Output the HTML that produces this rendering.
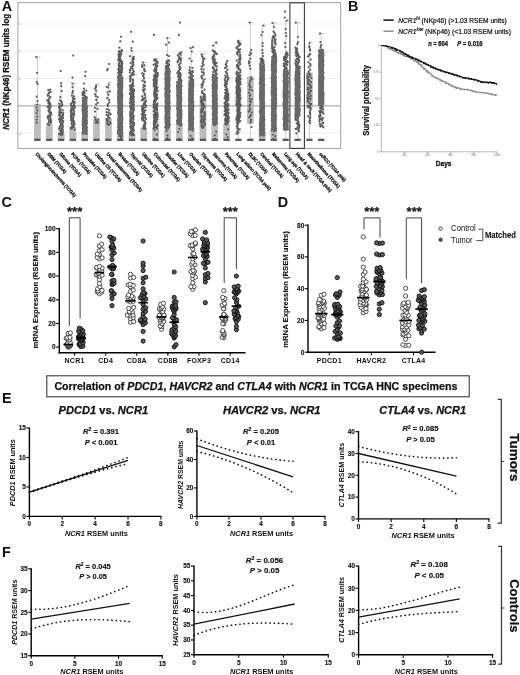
<!DOCTYPE html>
<html lang="en">
<head>
<meta charset="utf-8">
<title>NCR1 (NKp46) expression figure</title>
<style>
html,body{margin:0;padding:0;background:#fff;}
body{width:520px;height:675px;overflow:hidden;font-family:"Liberation Sans","DejaVu Sans",sans-serif;}
svg{display:block;filter:blur(0.42px);}
</style>
</head>
<body>
<svg width="520" height="675" viewBox="0 0 520 675" font-family='"Liberation Sans", "DejaVu Sans", sans-serif'>
<rect width="520" height="675" fill="#fff"/>
<line x1="17.90" y1="24.00" x2="340.60" y2="24.00" stroke="#ececec" stroke-width="0.80"/>
<line x1="16.40" y1="24.00" x2="17.90" y2="24.00" stroke="#aaa" stroke-width="0.60"/>
<line x1="17.90" y1="51.30" x2="340.60" y2="51.30" stroke="#ececec" stroke-width="0.80"/>
<line x1="16.40" y1="51.30" x2="17.90" y2="51.30" stroke="#aaa" stroke-width="0.60"/>
<line x1="17.90" y1="78.60" x2="340.60" y2="78.60" stroke="#ececec" stroke-width="0.80"/>
<line x1="16.40" y1="78.60" x2="17.90" y2="78.60" stroke="#aaa" stroke-width="0.60"/>
<line x1="17.90" y1="133.20" x2="340.60" y2="133.20" stroke="#ececec" stroke-width="0.80"/>
<line x1="16.40" y1="133.20" x2="17.90" y2="133.20" stroke="#aaa" stroke-width="0.60"/>
<rect x="17.9" y="2.6" width="322.7" height="145.9" fill="none" stroke="#a9a9a9" stroke-width="1.1"/>
<rect x="34.3" y="104.3" width="6.2" height="35.5" fill="#bdbdbd" stroke="#adadad" stroke-width="0.4"/>
<rect x="46.1" y="124.5" width="6.2" height="15.3" fill="#bdbdbd" stroke="#adadad" stroke-width="0.4"/>
<rect x="58.0" y="134.0" width="6.2" height="5.8" fill="#bdbdbd" stroke="#adadad" stroke-width="0.4"/>
<rect x="69.8" y="127.3" width="6.2" height="12.5" fill="#bdbdbd" stroke="#adadad" stroke-width="0.4"/>
<rect x="81.6" y="132.0" width="6.2" height="7.8" fill="#bdbdbd" stroke="#adadad" stroke-width="0.4"/>
<rect x="93.4" y="119.4" width="6.2" height="20.4" fill="#bdbdbd" stroke="#adadad" stroke-width="0.4"/>
<rect x="105.3" y="118.8" width="6.2" height="21.0" fill="#bdbdbd" stroke="#adadad" stroke-width="0.4"/>
<rect x="117.1" y="136.0" width="6.2" height="3.8" fill="#bdbdbd" stroke="#adadad" stroke-width="0.4"/>
<rect x="128.9" y="135.6" width="6.2" height="4.2" fill="#bdbdbd" stroke="#adadad" stroke-width="0.4"/>
<rect x="140.7" y="128.0" width="6.2" height="11.8" fill="#bdbdbd" stroke="#adadad" stroke-width="0.4"/>
<rect x="152.6" y="128.6" width="6.2" height="11.2" fill="#bdbdbd" stroke="#adadad" stroke-width="0.4"/>
<rect x="164.4" y="129.0" width="6.2" height="10.8" fill="#bdbdbd" stroke="#adadad" stroke-width="0.4"/>
<rect x="176.2" y="124.6" width="6.2" height="15.2" fill="#bdbdbd" stroke="#adadad" stroke-width="0.4"/>
<rect x="188.0" y="129.8" width="6.2" height="10.0" fill="#bdbdbd" stroke="#adadad" stroke-width="0.4"/>
<rect x="199.9" y="95.8" width="6.2" height="44.0" fill="#bdbdbd" stroke="#adadad" stroke-width="0.4"/>
<rect x="211.7" y="124.6" width="6.2" height="15.2" fill="#bdbdbd" stroke="#adadad" stroke-width="0.4"/>
<rect x="223.5" y="124.6" width="6.2" height="15.2" fill="#bdbdbd" stroke="#adadad" stroke-width="0.4"/>
<rect x="247.2" y="76.8" width="6.2" height="46.9" fill="#bdbdbd" stroke="#adadad" stroke-width="0.4"/>
<rect x="259.0" y="130.0" width="6.2" height="9.8" fill="#bdbdbd" stroke="#adadad" stroke-width="0.4"/>
<rect x="270.8" y="130.8" width="6.2" height="9.0" fill="#bdbdbd" stroke="#adadad" stroke-width="0.4"/>
<rect x="306.3" y="72.8" width="6.2" height="35.8" fill="#bdbdbd" stroke="#adadad" stroke-width="0.4"/>
<line x1="37.40" y1="57.00" x2="37.40" y2="104.30" stroke="#b8b8b8" stroke-width="0.70"/>
<line x1="36.90" y1="57.00" x2="40.60" y2="57.00" stroke="#b0b0b0" stroke-width="0.70"/>
<line x1="49.23" y1="89.00" x2="49.23" y2="124.50" stroke="#b8b8b8" stroke-width="0.70"/>
<line x1="61.05" y1="83.00" x2="61.05" y2="134.00" stroke="#b8b8b8" stroke-width="0.70"/>
<line x1="72.88" y1="83.50" x2="72.88" y2="127.30" stroke="#b8b8b8" stroke-width="0.70"/>
<line x1="72.38" y1="83.50" x2="76.08" y2="83.50" stroke="#b0b0b0" stroke-width="0.70"/>
<line x1="84.70" y1="88.00" x2="84.70" y2="132.00" stroke="#b8b8b8" stroke-width="0.70"/>
<line x1="96.53" y1="84.20" x2="96.53" y2="119.40" stroke="#b8b8b8" stroke-width="0.70"/>
<line x1="96.03" y1="84.20" x2="99.73" y2="84.20" stroke="#b0b0b0" stroke-width="0.70"/>
<line x1="108.36" y1="82.40" x2="108.36" y2="118.80" stroke="#b8b8b8" stroke-width="0.70"/>
<line x1="107.86" y1="82.40" x2="111.56" y2="82.40" stroke="#b0b0b0" stroke-width="0.70"/>
<line x1="120.18" y1="50.00" x2="120.18" y2="136.00" stroke="#b8b8b8" stroke-width="0.70"/>
<line x1="132.01" y1="51.20" x2="132.01" y2="135.60" stroke="#b8b8b8" stroke-width="0.70"/>
<line x1="131.51" y1="51.20" x2="135.21" y2="51.20" stroke="#b0b0b0" stroke-width="0.70"/>
<line x1="143.83" y1="62.40" x2="143.83" y2="128.00" stroke="#b8b8b8" stroke-width="0.70"/>
<line x1="143.33" y1="62.40" x2="147.03" y2="62.40" stroke="#b0b0b0" stroke-width="0.70"/>
<line x1="155.66" y1="58.70" x2="155.66" y2="128.60" stroke="#b8b8b8" stroke-width="0.70"/>
<line x1="155.16" y1="58.70" x2="158.86" y2="58.70" stroke="#b0b0b0" stroke-width="0.70"/>
<line x1="167.49" y1="38.10" x2="167.49" y2="129.00" stroke="#b8b8b8" stroke-width="0.70"/>
<line x1="166.99" y1="38.10" x2="170.69" y2="38.10" stroke="#b0b0b0" stroke-width="0.70"/>
<line x1="179.31" y1="52.20" x2="179.31" y2="124.60" stroke="#b8b8b8" stroke-width="0.70"/>
<line x1="178.81" y1="52.20" x2="182.51" y2="52.20" stroke="#b0b0b0" stroke-width="0.70"/>
<line x1="191.14" y1="48.00" x2="191.14" y2="129.80" stroke="#b8b8b8" stroke-width="0.70"/>
<line x1="190.64" y1="48.00" x2="194.34" y2="48.00" stroke="#b0b0b0" stroke-width="0.70"/>
<line x1="202.96" y1="53.70" x2="202.96" y2="95.80" stroke="#b8b8b8" stroke-width="0.70"/>
<line x1="202.46" y1="53.70" x2="206.16" y2="53.70" stroke="#b0b0b0" stroke-width="0.70"/>
<line x1="214.79" y1="42.70" x2="214.79" y2="124.60" stroke="#b8b8b8" stroke-width="0.70"/>
<line x1="214.29" y1="42.70" x2="217.99" y2="42.70" stroke="#b0b0b0" stroke-width="0.70"/>
<line x1="226.62" y1="60.70" x2="226.62" y2="124.60" stroke="#b8b8b8" stroke-width="0.70"/>
<line x1="226.12" y1="60.70" x2="229.82" y2="60.70" stroke="#b0b0b0" stroke-width="0.70"/>
<line x1="238.44" y1="40.20" x2="238.44" y2="139.80" stroke="#b8b8b8" stroke-width="0.70"/>
<line x1="237.94" y1="40.20" x2="241.64" y2="40.20" stroke="#b0b0b0" stroke-width="0.70"/>
<line x1="250.27" y1="22.50" x2="250.27" y2="139.80" stroke="#b8b8b8" stroke-width="0.70"/>
<line x1="249.77" y1="22.50" x2="253.47" y2="22.50" stroke="#b0b0b0" stroke-width="0.70"/>
<line x1="262.09" y1="25.60" x2="262.09" y2="130.00" stroke="#b8b8b8" stroke-width="0.70"/>
<line x1="261.59" y1="25.60" x2="265.29" y2="25.60" stroke="#b0b0b0" stroke-width="0.70"/>
<line x1="273.92" y1="23.00" x2="273.92" y2="130.80" stroke="#b8b8b8" stroke-width="0.70"/>
<line x1="273.42" y1="23.00" x2="277.12" y2="23.00" stroke="#b0b0b0" stroke-width="0.70"/>
<line x1="285.75" y1="20.50" x2="285.75" y2="139.80" stroke="#b8b8b8" stroke-width="0.70"/>
<line x1="285.25" y1="20.50" x2="288.95" y2="20.50" stroke="#b0b0b0" stroke-width="0.70"/>
<line x1="297.57" y1="22.70" x2="297.57" y2="139.80" stroke="#b8b8b8" stroke-width="0.70"/>
<line x1="297.07" y1="22.70" x2="300.77" y2="22.70" stroke="#b0b0b0" stroke-width="0.70"/>
<line x1="309.40" y1="42.00" x2="309.40" y2="139.80" stroke="#b8b8b8" stroke-width="0.70"/>
<line x1="308.90" y1="42.00" x2="312.60" y2="42.00" stroke="#b0b0b0" stroke-width="0.70"/>
<line x1="321.22" y1="33.50" x2="321.22" y2="49.00" stroke="#b8b8b8" stroke-width="0.70"/>
<line x1="320.72" y1="33.50" x2="324.42" y2="33.50" stroke="#b0b0b0" stroke-width="0.70"/>
<line x1="17.90" y1="105.90" x2="340.60" y2="105.90" stroke="#adadad" stroke-width="1.30"/>
<rect x="82.0" y="98.5" width="5.4" height="35.2" rx="1.2" fill="#6e6e6e"/>
<rect x="117.5" y="76.5" width="5.4" height="59.0" rx="1.2" fill="#6e6e6e"/>
<rect x="164.8" y="69.5" width="5.4" height="59.0" rx="1.2" fill="#6e6e6e"/>
<rect x="176.6" y="81.5" width="5.4" height="43.0" rx="1.2" fill="#6e6e6e"/>
<rect x="188.4" y="81.5" width="5.4" height="47.8" rx="1.2" fill="#6e6e6e"/>
<rect x="212.1" y="76.5" width="5.4" height="47.6" rx="1.2" fill="#6e6e6e"/>
<rect x="259.4" y="66.5" width="5.4" height="69.0" rx="1.2" fill="#6e6e6e"/>
<rect x="271.2" y="57.5" width="5.4" height="72.8" rx="1.2" fill="#6e6e6e"/>
<rect x="283.0" y="71.5" width="5.4" height="58.0" rx="1.2" fill="#6e6e6e"/>
<rect x="294.9" y="69.5" width="5.4" height="46.8" rx="1.2" fill="#6e6e6e"/>
<rect x="318.5" y="50.8" width="5.4" height="54.7" rx="1.2" fill="#6e6e6e"/>
<path d="M85.7 97.2h0M84.2 97.5h0M86.9 97.6h0M85.7 97.8h0M82.6 98.2h0M86.5 98.5h0M85.8 98.7h0M83.0 99.0h0M84.7 99.1h0M86.1 99.5h0M85.1 99.7h0M85.5 100.0h0M83.5 100.2h0M83.0 100.3h0M82.9 100.6h0M85.0 101.0h0M85.3 101.2h0M84.7 101.4h0M86.1 101.5h0M84.7 101.9h0M85.4 102.1h0M85.8 102.3h0M82.7 102.6h0M85.8 102.8h0M85.8 103.0h0M84.7 103.5h0M84.6 103.6h0M85.9 103.9h0M85.4 104.1h0M83.1 104.3h0M85.8 104.6h0M85.0 104.8h0M82.7 105.0h0M85.5 105.3h0M85.5 105.7h0M84.8 105.8h0M84.5 106.1h0M86.5 106.3h0M86.9 106.5h0M82.5 107.0h0M86.2 107.1h0M84.5 107.5h0M83.4 107.6h0M83.4 108.0h0M83.1 108.1h0M86.8 108.4h0M86.2 108.5h0M86.5 108.9h0M83.5 109.2h0M84.6 109.5h0M82.4 109.5h0M84.5 109.9h0M83.1 110.1h0M83.9 110.3h0M82.4 110.7h0M86.3 110.9h0M86.7 111.0h0M86.6 111.4h0M84.1 111.6h0M87.0 111.8h0M84.1 112.1h0M83.7 112.3h0M82.9 112.5h0M83.7 112.9h0M83.6 113.2h0M84.8 113.3h0M84.1 113.5h0M86.5 114.0h0M85.3 114.2h0M86.7 114.5h0M85.7 114.6h0M85.8 114.7h0M85.9 115.1h0M83.7 115.4h0M86.7 115.5h0M84.6 115.8h0M83.8 116.1h0M86.9 116.4h0M85.4 116.5h0M85.0 116.8h0M83.2 117.1h0M83.4 117.3h0M84.7 117.7h0M86.6 117.8h0M84.5 118.2h0M83.3 118.3h0M84.0 118.5h0M83.5 118.7h0M85.0 119.0h0M85.9 119.4h0M84.3 119.6h0M84.1 119.9h0M82.7 120.1h0M86.9 120.3h0M84.7 120.5h0M86.4 120.9h0M83.7 121.0h0M84.2 121.3h0M86.8 121.6h0M86.4 121.9h0M82.6 122.0h0M86.5 122.4h0M85.1 122.6h0M84.2 122.7h0M86.2 123.2h0M86.9 123.4h0M82.9 123.5h0M84.8 123.8h0M86.7 124.1h0M85.4 124.4h0M84.5 124.7h0M82.6 124.9h0M83.5 125.2h0M85.4 125.4h0M83.0 125.5h0M85.3 125.8h0M82.9 126.1h0M84.8 126.2h0M84.2 126.6h0M85.2 126.8h0M83.8 127.0h0M86.8 127.3h0M86.5 127.6h0M83.5 127.8h0M86.8 128.0h0M83.8 128.4h0M84.7 128.5h0M84.3 128.9h0M85.5 129.0h0M83.4 129.4h0M84.0 129.5h0M85.5 129.8h0M86.1 130.0h0M84.7 130.4h0M86.9 130.5h0M86.2 130.8h0M83.4 131.0h0M83.8 131.4h0M84.7 131.7h0M83.4 131.8h0M85.5 132.1h0M83.1 132.4h0M83.4 132.6h0M83.1 132.9h0M82.7 133.0h0M86.5 133.3h0M85.8 133.7h0M86.7 133.9h0M83.3 134.0h0M120.7 75.0h0M119.0 75.3h0M121.5 75.6h0M118.7 75.8h0M118.4 76.0h0M119.9 76.1h0M119.9 76.3h0M118.1 76.6h0M118.3 76.9h0M121.5 77.1h0M118.1 77.3h0M119.6 77.5h0M118.5 77.8h0M122.5 78.0h0M121.6 78.2h0M122.4 78.3h0M122.3 78.6h0M118.6 78.9h0M122.2 79.1h0M119.5 79.1h0M118.6 79.5h0M119.1 79.8h0M118.5 80.0h0M122.1 80.1h0M119.1 80.3h0M119.3 80.5h0M118.7 80.7h0M122.2 80.9h0M122.0 81.2h0M121.5 81.3h0M120.3 81.5h0M119.5 81.9h0M120.4 82.1h0M121.9 82.3h0M122.4 82.4h0M119.7 82.7h0M119.1 83.0h0M120.5 83.2h0M121.4 83.3h0M118.7 83.6h0M118.1 83.8h0M119.0 84.1h0M122.4 84.3h0M120.9 84.5h0M117.9 84.6h0M118.6 84.8h0M119.9 85.1h0M122.0 85.3h0M118.9 85.4h0M118.0 85.8h0M119.5 85.9h0M119.5 86.1h0M120.6 86.3h0M118.8 86.6h0M120.1 86.9h0M122.2 87.0h0M118.6 87.2h0M120.8 87.4h0M121.5 87.8h0M119.1 87.9h0M120.8 88.0h0M119.5 88.4h0M119.9 88.6h0M121.3 88.9h0M122.0 88.9h0M120.3 89.1h0M119.0 89.4h0M121.5 89.6h0M120.4 89.8h0M118.5 90.2h0M120.7 90.2h0M120.8 90.5h0M118.7 90.8h0M119.3 90.9h0M122.0 91.1h0M121.2 91.5h0M121.8 91.5h0M120.0 91.9h0M120.0 92.1h0M118.4 92.2h0M118.1 92.4h0M121.3 92.7h0M121.8 93.0h0M119.1 93.2h0M119.9 93.4h0M120.3 93.6h0M120.8 93.7h0M118.9 94.1h0M118.0 94.3h0M119.0 94.4h0M122.2 94.7h0M119.4 94.9h0M119.4 95.2h0M122.1 95.2h0M121.1 95.5h0M122.4 95.8h0M121.7 95.9h0M121.8 96.2h0M121.2 96.4h0M119.3 96.6h0M120.7 96.8h0M122.1 96.9h0M118.0 97.2h0M122.2 97.4h0M118.5 97.7h0M118.1 97.8h0M120.8 98.2h0M121.3 98.4h0M120.6 98.5h0M121.6 98.7h0M122.0 99.1h0M121.9 99.1h0M122.2 99.5h0M118.8 99.6h0M118.0 99.8h0M121.6 100.1h0M121.7 100.3h0M119.2 100.5h0M118.3 100.6h0M118.8 101.0h0M119.8 101.1h0M119.1 101.3h0M121.2 101.5h0M119.4 101.8h0M120.2 102.1h0M120.7 102.3h0M119.8 102.4h0M121.4 102.7h0M121.1 102.9h0M118.9 103.1h0M118.3 103.4h0M118.7 103.6h0M118.8 103.7h0M122.4 104.0h0M120.1 104.1h0M121.5 104.4h0M120.2 104.6h0M121.7 104.8h0M122.2 105.0h0M118.9 105.2h0M120.2 105.5h0M120.8 105.6h0M121.5 105.8h0M121.5 106.2h0M119.5 106.4h0M119.7 106.6h0M118.3 106.9h0M118.0 107.1h0M119.1 107.2h0M120.2 107.5h0M121.9 107.6h0M120.0 107.8h0M121.4 108.1h0M120.9 108.4h0M119.4 108.5h0M121.8 108.7h0M121.3 109.0h0M119.9 109.1h0M120.5 109.5h0M120.0 109.5h0M119.0 109.9h0M119.3 110.0h0M121.8 110.3h0M118.6 110.4h0M119.4 110.7h0M118.6 110.9h0M118.8 111.1h0M121.2 111.5h0M122.3 111.5h0M119.6 111.7h0M121.5 112.1h0M119.9 112.3h0M120.8 112.4h0M118.8 112.6h0M118.0 112.9h0M121.5 113.1h0M120.2 113.4h0M120.0 113.6h0M120.7 113.7h0M121.3 113.9h0M119.9 114.3h0M121.3 114.4h0M118.9 114.6h0M121.9 114.9h0M121.1 115.1h0M121.0 115.3h0M120.0 115.5h0M120.8 115.7h0M119.8 115.8h0M121.2 116.2h0M119.0 116.4h0M120.0 116.6h0M119.8 116.8h0M122.2 117.0h0M120.9 117.2h0M119.7 117.5h0M122.4 117.7h0M120.4 117.8h0M121.5 118.0h0M120.3 118.4h0M120.5 118.4h0M121.2 118.8h0M120.8 119.0h0M120.3 119.2h0M122.2 119.4h0M121.0 119.5h0M121.4 119.8h0M122.4 120.0h0M118.1 120.2h0M119.7 120.4h0M119.8 120.6h0M121.1 120.9h0M119.1 121.1h0M121.3 121.3h0M120.3 121.7h0M121.6 121.7h0M118.9 122.0h0M121.5 122.1h0M120.8 122.5h0M120.5 122.6h0M122.3 122.8h0M120.8 123.1h0M121.6 123.4h0M119.2 123.5h0M118.5 123.7h0M119.5 124.0h0M119.1 124.2h0M119.0 124.4h0M118.7 124.6h0M121.2 124.7h0M119.0 125.0h0M120.1 125.2h0M120.8 125.5h0M119.5 125.7h0M121.8 126.0h0M121.7 126.0h0M121.5 126.4h0M121.7 126.5h0M118.0 126.8h0M122.3 126.9h0M119.0 127.2h0M118.5 127.3h0M121.5 127.6h0M118.6 127.8h0M121.5 128.2h0M122.0 128.2h0M121.5 128.5h0M122.0 128.8h0M121.7 129.0h0M121.1 129.1h0M121.3 129.4h0M121.9 129.6h0M119.1 129.8h0M118.5 130.0h0M118.2 130.2h0M118.5 130.5h0M120.2 130.7h0M121.9 130.9h0M121.7 131.0h0M120.5 131.3h0M121.7 131.6h0M119.8 131.7h0M118.2 132.1h0M120.8 132.2h0M120.7 132.3h0M122.2 132.7h0M122.4 132.8h0M120.1 133.1h0M118.0 133.4h0M120.8 133.6h0M121.8 133.7h0M120.1 133.9h0M121.4 134.2h0M119.9 134.3h0M120.4 134.6h0M119.2 134.9h0M119.7 135.1h0M119.1 135.2h0M122.4 135.5h0M121.5 135.7h0M119.3 135.9h0M165.6 68.2h0M167.2 68.2h0M168.5 68.5h0M169.1 68.7h0M168.8 69.1h0M166.5 69.3h0M167.6 69.6h0M166.7 69.7h0M168.3 70.0h0M169.3 70.3h0M166.5 70.4h0M167.8 70.7h0M166.1 70.9h0M166.7 71.0h0M169.7 71.4h0M169.2 71.7h0M169.6 72.0h0M168.9 72.1h0M168.3 72.2h0M166.6 72.6h0M169.6 72.8h0M168.2 73.0h0M166.8 73.2h0M165.3 73.6h0M168.3 73.6h0M165.6 73.9h0M166.9 74.2h0M167.1 74.4h0M167.8 74.6h0M165.7 74.8h0M169.3 75.0h0M165.7 75.3h0M166.4 75.7h0M167.6 75.7h0M167.4 76.0h0M166.2 76.3h0M165.7 76.5h0M167.9 76.7h0M167.1 76.9h0M167.2 77.1h0M167.7 77.5h0M168.7 77.7h0M169.7 77.8h0M165.7 78.2h0M167.0 78.4h0M169.6 78.5h0M168.8 78.8h0M168.8 79.0h0M166.3 79.2h0M165.3 79.5h0M166.2 79.8h0M168.4 79.9h0M169.3 80.2h0M169.2 80.5h0M169.4 80.7h0M166.0 81.0h0M166.8 81.2h0M168.3 81.4h0M165.8 81.7h0M168.6 81.8h0M168.5 82.2h0M168.0 82.2h0M167.7 82.5h0M165.7 82.9h0M168.3 83.1h0M166.1 83.2h0M169.0 83.5h0M165.7 83.7h0M165.7 83.8h0M166.0 84.3h0M166.5 84.4h0M166.9 84.7h0M169.2 84.8h0M168.4 85.1h0M169.6 85.4h0M166.8 85.5h0M167.5 85.7h0M168.9 86.1h0M166.0 86.2h0M168.3 86.6h0M167.4 86.7h0M169.1 86.9h0M169.2 87.2h0M165.5 87.5h0M166.2 87.6h0M167.9 88.0h0M166.0 88.0h0M167.3 88.3h0M167.0 88.6h0M165.2 88.8h0M166.7 89.1h0M167.3 89.2h0M165.4 89.6h0M168.3 89.7h0M166.4 89.9h0M166.4 90.2h0M167.6 90.5h0M169.8 90.8h0M167.8 90.8h0M169.2 91.2h0M168.1 91.5h0M166.9 91.7h0M168.8 91.8h0M169.5 92.2h0M166.6 92.4h0M168.6 92.6h0M168.1 92.8h0M167.7 93.0h0M165.5 93.2h0M166.7 93.5h0M167.4 93.8h0M166.3 93.9h0M166.8 94.1h0M165.2 94.3h0M167.3 94.7h0M167.8 94.9h0M166.0 95.1h0M166.6 95.3h0M168.5 95.5h0M169.5 95.8h0M169.4 96.0h0M165.6 96.3h0M167.9 96.4h0M166.8 96.9h0M167.2 97.1h0M165.5 97.3h0M169.3 97.4h0M166.4 97.6h0M165.9 97.8h0M168.4 98.1h0M167.0 98.3h0M168.0 98.5h0M168.2 98.9h0M168.6 99.0h0M168.0 99.4h0M168.9 99.4h0M166.8 99.9h0M166.1 99.9h0M169.2 100.3h0M169.4 100.5h0M166.7 100.6h0M168.2 101.0h0M168.3 101.2h0M165.5 101.4h0M165.4 101.6h0M166.7 101.9h0M167.9 102.1h0M167.3 102.3h0M169.4 102.5h0M169.7 102.8h0M168.0 102.9h0M166.7 103.3h0M165.9 103.4h0M168.7 103.7h0M168.9 103.9h0M167.7 104.2h0M167.7 104.5h0M168.0 104.7h0M168.6 104.9h0M168.5 105.1h0M168.8 105.4h0M168.7 105.6h0M167.3 105.9h0M167.6 106.0h0M165.8 106.4h0M167.4 106.4h0M168.7 106.8h0M169.7 107.0h0M168.7 107.2h0M165.3 107.4h0M165.5 107.6h0M167.7 107.9h0M169.5 108.1h0M165.9 108.4h0M168.6 108.6h0M165.9 109.0h0M168.8 109.0h0M169.7 109.3h0M168.1 109.6h0M168.9 109.8h0M166.7 110.0h0M165.7 110.4h0M165.5 110.5h0M167.0 110.8h0M165.5 111.0h0M167.1 111.2h0M169.5 111.5h0M166.2 111.7h0M166.4 111.8h0M166.3 112.1h0M168.7 112.3h0M166.6 112.6h0M166.2 112.9h0M165.9 113.1h0M169.2 113.4h0M168.6 113.5h0M166.5 113.8h0M167.4 113.9h0M165.9 114.3h0M167.9 114.5h0M167.9 114.7h0M166.2 115.0h0M166.8 115.2h0M169.2 115.4h0M169.2 115.5h0M166.6 116.0h0M165.7 116.0h0M165.2 116.4h0M165.9 116.6h0M165.6 116.8h0M168.3 116.9h0M166.7 117.1h0M168.5 117.6h0M169.7 117.8h0M166.3 117.8h0M168.4 118.2h0M167.5 118.3h0M167.2 118.6h0M165.3 118.8h0M166.6 119.2h0M165.7 119.4h0M165.8 119.6h0M166.0 119.8h0M165.9 120.1h0M167.5 120.3h0M166.8 120.4h0M169.4 120.7h0M166.2 120.9h0M169.2 121.3h0M166.4 121.5h0M166.4 121.6h0M165.4 121.8h0M167.1 122.1h0M166.9 122.4h0M168.4 122.5h0M167.7 122.9h0M168.4 123.1h0M169.2 123.4h0M167.0 123.6h0M167.1 123.7h0M167.0 124.1h0M167.1 124.2h0M169.8 124.4h0M168.0 124.6h0M166.4 125.0h0M166.9 125.2h0M166.1 125.3h0M169.1 125.5h0M169.4 125.9h0M168.4 126.0h0M168.2 126.3h0M166.6 126.6h0M165.2 126.9h0M169.1 127.1h0M167.9 127.3h0M166.3 127.6h0M168.6 127.7h0M168.5 127.9h0M167.6 128.2h0M168.3 128.4h0M168.1 128.6h0M166.2 128.9h0M178.8 80.1h0M181.3 80.4h0M181.5 80.5h0M178.7 80.9h0M178.5 81.1h0M180.5 81.2h0M179.4 81.5h0M181.2 81.7h0M177.1 82.0h0M179.1 82.2h0M180.9 82.4h0M179.2 82.6h0M179.0 83.0h0M179.4 83.1h0M180.1 83.4h0M178.9 83.7h0M180.1 83.7h0M180.6 84.1h0M177.6 84.4h0M177.4 84.5h0M177.5 84.8h0M180.5 84.9h0M177.3 85.2h0M180.3 85.5h0M177.3 85.7h0M178.9 86.0h0M181.6 86.2h0M181.0 86.5h0M178.5 86.5h0M177.0 86.8h0M178.3 87.2h0M178.5 87.3h0M181.0 87.5h0M179.4 87.8h0M177.2 88.0h0M181.0 88.2h0M181.0 88.5h0M177.9 88.6h0M179.5 88.8h0M179.1 89.1h0M179.7 89.4h0M180.7 89.6h0M181.2 89.8h0M177.2 90.1h0M179.5 90.3h0M179.6 90.5h0M178.3 90.7h0M178.4 91.1h0M180.7 91.3h0M179.1 91.5h0M179.1 91.8h0M177.3 92.0h0M180.0 92.2h0M181.0 92.3h0M179.8 92.5h0M181.3 92.8h0M180.7 93.1h0M180.1 93.3h0M178.4 93.6h0M180.9 93.7h0M181.2 94.0h0M177.5 94.2h0M180.6 94.4h0M178.9 94.8h0M178.2 95.0h0M180.2 95.3h0M177.3 95.3h0M177.2 95.7h0M178.4 96.0h0M179.7 96.1h0M179.6 96.3h0M181.2 96.5h0M180.9 96.8h0M180.7 97.0h0M178.8 97.4h0M178.8 97.4h0M178.0 97.8h0M177.4 98.0h0M180.4 98.2h0M180.1 98.4h0M180.8 98.6h0M181.3 98.8h0M181.3 99.3h0M178.3 99.4h0M180.5 99.6h0M181.3 99.8h0M179.2 100.0h0M179.8 100.4h0M177.4 100.5h0M178.3 100.7h0M180.9 101.1h0M181.3 101.2h0M179.8 101.3h0M178.6 101.8h0M180.0 102.0h0M178.5 102.0h0M178.2 102.4h0M177.8 102.7h0M178.4 102.9h0M179.6 103.0h0M179.5 103.2h0M179.8 103.6h0M177.2 103.8h0M177.5 104.0h0M177.6 104.3h0M178.6 104.5h0M180.1 104.7h0M177.8 104.9h0M178.5 105.3h0M181.0 105.5h0M177.7 105.6h0M181.1 105.8h0M179.3 106.0h0M177.6 106.3h0M177.8 106.6h0M179.3 106.8h0M177.9 107.0h0M177.9 107.2h0M178.1 107.4h0M179.3 107.8h0M177.1 108.0h0M179.3 108.3h0M179.6 108.5h0M178.1 108.7h0M177.7 108.9h0M177.2 109.1h0M179.4 109.3h0M181.1 109.5h0M179.7 109.7h0M179.8 110.0h0M180.3 110.3h0M178.1 110.4h0M181.5 110.8h0M179.9 110.9h0M180.8 111.2h0M180.7 111.4h0M181.2 111.7h0M181.3 111.8h0M178.9 112.1h0M178.1 112.3h0M180.1 112.6h0M178.6 112.7h0M177.9 113.0h0M178.5 113.2h0M181.6 113.6h0M179.2 113.8h0M180.6 114.0h0M180.5 114.3h0M177.9 114.5h0M180.9 114.7h0M177.4 115.0h0M178.6 115.2h0M181.5 115.3h0M180.4 115.6h0M180.8 115.8h0M181.2 116.2h0M180.8 116.4h0M179.7 116.6h0M180.8 116.8h0M181.0 117.1h0M181.4 117.2h0M181.4 117.5h0M181.5 117.6h0M178.2 118.0h0M178.1 118.2h0M179.1 118.3h0M179.3 118.6h0M180.2 118.9h0M178.8 119.1h0M180.7 119.4h0M181.3 119.6h0M178.9 119.9h0M180.0 119.9h0M178.6 120.3h0M180.9 120.5h0M177.0 120.8h0M177.1 120.9h0M180.7 121.1h0M179.8 121.4h0M178.6 121.6h0M178.6 121.8h0M179.9 122.2h0M177.4 122.3h0M180.2 122.5h0M180.1 122.8h0M177.6 123.1h0M177.2 123.3h0M177.9 123.6h0M181.4 123.7h0M178.0 123.9h0M179.8 124.3h0M178.8 124.5h0M181.4 124.7h0M181.6 124.9h0M190.3 80.0h0M193.2 80.3h0M189.5 80.7h0M191.5 80.8h0M190.6 80.9h0M191.8 81.3h0M192.3 81.5h0M191.3 81.7h0M193.3 82.0h0M192.5 82.2h0M190.6 82.5h0M192.1 82.8h0M190.1 83.0h0M191.5 83.1h0M192.5 83.5h0M189.5 83.6h0M192.9 83.8h0M192.2 84.0h0M190.3 84.2h0M190.2 84.4h0M193.3 84.7h0M189.7 85.1h0M193.2 85.2h0M190.3 85.4h0M189.3 85.7h0M190.7 85.9h0M193.3 86.1h0M189.8 86.3h0M190.9 86.7h0M191.8 86.9h0M190.3 87.2h0M192.3 87.2h0M191.4 87.6h0M192.3 87.8h0M190.5 88.0h0M191.3 88.4h0M191.7 88.4h0M192.4 88.7h0M192.6 88.9h0M190.5 89.2h0M190.1 89.5h0M189.2 89.6h0M192.3 89.9h0M190.7 90.2h0M189.3 90.4h0M191.8 90.5h0M191.8 90.9h0M192.4 91.1h0M193.2 91.3h0M190.4 91.6h0M192.5 91.7h0M189.7 91.9h0M191.3 92.3h0M191.9 92.5h0M189.5 92.8h0M189.1 92.9h0M191.1 93.1h0M191.9 93.5h0M190.7 93.6h0M190.1 93.9h0M192.5 94.2h0M189.5 94.4h0M192.3 94.6h0M193.0 94.8h0M192.3 95.1h0M191.8 95.3h0M189.4 95.6h0M192.1 95.8h0M190.1 96.0h0M191.6 96.1h0M190.1 96.5h0M189.9 96.6h0M191.9 96.8h0M192.5 97.2h0M192.1 97.3h0M192.7 97.5h0M188.9 97.8h0M189.5 98.1h0M189.1 98.2h0M191.4 98.5h0M189.0 98.8h0M189.3 99.0h0M191.7 99.1h0M190.4 99.4h0M189.8 99.7h0M189.8 100.0h0M192.6 100.2h0M189.0 100.4h0M189.0 100.7h0M190.8 100.8h0M191.7 101.0h0M191.5 101.3h0M191.2 101.5h0M189.9 101.8h0M193.4 102.1h0M193.3 102.3h0M193.4 102.4h0M191.0 102.6h0M190.9 102.8h0M192.1 103.2h0M190.4 103.4h0M190.7 103.5h0M189.7 103.8h0M191.2 104.1h0M189.7 104.3h0M189.7 104.6h0M191.4 104.7h0M193.3 105.1h0M193.2 105.3h0M192.2 105.6h0M189.1 105.8h0M188.9 105.9h0M192.2 106.3h0M190.1 106.4h0M189.6 106.6h0M193.4 106.9h0M189.0 107.1h0M190.5 107.3h0M192.5 107.7h0M189.3 107.8h0M189.5 108.0h0M191.0 108.3h0M193.0 108.6h0M191.0 108.8h0M189.4 109.0h0M191.4 109.1h0M189.8 109.4h0M188.9 109.6h0M192.1 110.0h0M193.3 110.2h0M192.2 110.4h0M192.6 110.6h0M189.5 110.9h0M189.8 111.0h0M190.6 111.3h0M192.7 111.4h0M191.0 111.8h0M192.9 111.9h0M189.2 112.2h0M191.7 112.4h0M191.1 112.8h0M189.8 113.0h0M193.0 113.1h0M189.3 113.4h0M189.4 113.6h0M190.9 113.8h0M191.8 114.1h0M190.9 114.4h0M192.2 114.5h0M191.0 114.7h0M191.9 115.0h0M189.9 115.3h0M192.0 115.5h0M189.5 115.7h0M191.6 116.0h0M189.9 116.1h0M189.9 116.5h0M192.5 116.6h0M191.8 117.0h0M189.0 117.2h0M193.3 117.3h0M189.0 117.7h0M189.9 117.7h0M189.8 118.1h0M193.1 118.3h0M193.1 118.5h0M189.5 118.7h0M192.3 118.9h0M193.3 119.1h0M189.7 119.5h0M189.6 119.7h0M189.3 119.9h0M192.9 120.2h0M188.8 120.5h0M191.4 120.7h0M191.1 120.9h0M191.6 121.1h0M189.2 121.4h0M191.3 121.4h0M190.7 121.7h0M192.3 121.9h0M192.7 122.1h0M190.9 122.5h0M191.8 122.6h0M190.8 122.9h0M193.3 123.1h0M190.5 123.4h0M192.2 123.5h0M192.7 123.9h0M190.5 124.0h0M192.3 124.3h0M191.6 124.5h0M192.4 124.9h0M189.2 124.9h0M192.0 125.2h0M191.2 125.5h0M190.7 125.7h0M191.8 126.0h0M192.2 126.3h0M193.0 126.5h0M192.1 126.7h0M192.0 126.8h0M190.8 127.2h0M189.7 127.4h0M190.9 127.7h0M190.0 127.9h0M190.4 128.0h0M189.3 128.2h0M193.4 128.5h0M193.1 128.8h0M192.7 129.0h0M192.3 129.3h0M190.0 129.4h0M188.9 129.7h0M215.1 75.2h0M215.7 75.3h0M213.6 75.6h0M214.9 75.8h0M212.8 76.2h0M215.4 76.4h0M215.6 76.6h0M212.5 77.0h0M215.6 77.1h0M215.5 77.4h0M216.9 77.6h0M213.6 78.0h0M216.9 78.1h0M214.4 78.3h0M216.6 78.7h0M215.9 78.8h0M215.5 79.1h0M213.1 79.5h0M213.5 79.6h0M212.7 79.8h0M214.4 80.0h0M212.8 80.4h0M216.8 80.7h0M214.1 80.9h0M214.5 81.2h0M214.7 81.3h0M215.6 81.5h0M214.2 81.8h0M216.0 82.3h0M215.4 82.5h0M215.7 82.7h0M213.4 83.0h0M213.9 83.2h0M216.3 83.3h0M216.4 83.7h0M215.2 84.0h0M212.6 84.1h0M215.8 84.4h0M212.8 84.6h0M213.3 84.8h0M212.5 85.2h0M213.7 85.3h0M217.0 85.7h0M213.0 85.8h0M217.0 86.3h0M214.0 86.3h0M214.0 86.7h0M214.7 86.9h0M212.7 87.1h0M213.2 87.3h0M215.4 87.5h0M213.7 88.0h0M215.8 88.2h0M214.8 88.4h0M216.8 88.6h0M212.7 88.9h0M215.7 89.1h0M215.8 89.4h0M216.2 89.6h0M212.9 90.0h0M213.4 90.2h0M216.2 90.5h0M213.6 90.7h0M215.5 90.8h0M213.1 91.2h0M215.2 91.3h0M215.4 91.6h0M213.7 91.8h0M214.9 92.1h0M212.6 92.5h0M213.5 92.7h0M215.4 92.9h0M215.3 93.2h0M213.4 93.5h0M215.5 93.6h0M213.2 93.9h0M216.0 94.1h0M215.8 94.5h0M216.1 94.8h0M213.9 94.9h0M212.7 95.2h0M212.9 95.4h0M214.9 95.6h0M216.8 95.8h0M214.6 96.3h0M213.0 96.3h0M214.9 96.7h0M215.8 96.9h0M216.1 97.2h0M212.8 97.3h0M214.7 97.6h0M215.6 97.9h0M214.0 98.1h0M215.8 98.4h0M214.2 98.7h0M216.8 98.9h0M215.3 99.3h0M214.6 99.3h0M213.8 99.7h0M217.0 99.8h0M213.1 100.3h0M215.3 100.4h0M212.8 100.6h0M216.0 101.0h0M212.9 101.2h0M212.9 101.4h0M212.7 101.8h0M216.0 101.9h0M213.0 102.1h0M213.2 102.3h0M216.3 102.7h0M213.3 102.8h0M214.4 103.2h0M213.1 103.4h0M217.0 103.6h0M213.7 103.8h0M216.6 104.2h0M214.7 104.5h0M215.3 104.8h0M214.6 104.9h0M215.9 105.2h0M213.4 105.3h0M213.0 105.8h0M214.0 106.0h0M213.7 106.1h0M217.0 106.4h0M216.4 106.6h0M213.3 106.9h0M214.1 107.3h0M214.4 107.4h0M216.5 107.8h0M212.5 108.0h0M215.3 108.3h0M216.9 108.5h0M216.4 108.6h0M213.7 109.0h0M214.2 109.2h0M214.2 109.4h0M213.5 109.6h0M214.4 110.0h0M216.6 110.2h0M213.6 110.5h0M216.2 110.8h0M215.8 111.1h0M216.2 111.3h0M215.5 111.4h0M216.4 111.7h0M215.0 111.9h0M216.3 112.2h0M216.4 112.4h0M216.5 112.8h0M216.8 112.9h0M215.6 113.3h0M212.7 113.5h0M215.0 113.8h0M214.1 113.9h0M216.1 114.3h0M213.5 114.5h0M213.6 114.7h0M214.0 114.9h0M216.2 115.1h0M212.8 115.4h0M215.9 115.6h0M214.6 115.9h0M216.2 116.2h0M213.9 116.6h0M216.6 116.7h0M216.6 117.0h0M213.9 117.3h0M215.1 117.6h0M215.2 117.6h0M214.9 118.0h0M214.4 118.2h0M215.6 118.6h0M214.2 118.6h0M216.9 118.9h0M213.1 119.3h0M212.7 119.6h0M214.5 119.7h0M214.5 120.0h0M214.9 120.1h0M216.1 120.5h0M213.5 120.7h0M216.2 121.0h0M216.6 121.1h0M214.5 121.6h0M215.8 121.7h0M213.4 122.1h0M214.0 122.2h0M213.3 122.5h0M214.8 122.7h0M213.1 123.0h0M217.1 123.3h0M216.1 123.5h0M216.7 123.6h0M216.0 124.0h0M214.2 124.3h0M213.4 124.6h0M261.0 65.2h0M260.6 65.4h0M262.2 65.7h0M263.9 65.7h0M263.6 66.0h0M262.2 66.3h0M260.7 66.6h0M261.4 66.8h0M261.3 66.9h0M260.1 67.1h0M260.3 67.5h0M261.1 67.6h0M264.0 67.9h0M263.8 68.2h0M261.8 68.5h0M261.1 68.7h0M263.5 68.9h0M260.8 69.1h0M264.0 69.2h0M262.6 69.6h0M260.5 69.9h0M261.9 70.1h0M261.9 70.3h0M264.2 70.4h0M263.2 70.7h0M260.9 71.0h0M261.6 71.2h0M260.8 71.3h0M261.5 71.7h0M262.1 71.9h0M263.3 72.0h0M263.8 72.4h0M260.8 72.5h0M263.2 72.8h0M261.7 73.1h0M260.5 73.3h0M262.0 73.6h0M263.4 73.7h0M263.1 73.9h0M263.5 74.2h0M261.1 74.3h0M262.0 74.7h0M262.5 74.9h0M261.8 75.1h0M263.5 75.2h0M263.6 75.5h0M262.6 75.8h0M260.4 76.1h0M261.1 76.4h0M263.4 76.6h0M263.5 76.8h0M262.9 77.0h0M260.7 77.3h0M261.7 77.4h0M260.5 77.7h0M263.8 77.9h0M260.5 78.1h0M262.5 78.3h0M262.0 78.5h0M261.8 78.9h0M263.6 79.1h0M264.1 79.2h0M260.0 79.5h0M262.4 79.8h0M260.8 80.0h0M261.2 80.3h0M260.8 80.5h0M262.8 80.7h0M262.0 80.9h0M262.8 81.1h0M260.5 81.5h0M263.2 81.7h0M263.7 81.8h0M260.0 82.2h0M260.2 82.3h0M260.2 82.5h0M260.9 82.8h0M261.9 83.0h0M263.4 83.2h0M260.3 83.6h0M259.8 83.7h0M260.3 83.9h0M263.4 84.3h0M260.8 84.6h0M263.3 84.6h0M264.1 84.9h0M261.2 85.1h0M264.2 85.3h0M261.8 85.6h0M263.3 85.8h0M262.0 86.1h0M261.7 86.2h0M261.7 86.6h0M262.4 86.8h0M262.4 87.0h0M262.4 87.2h0M260.2 87.5h0M263.8 87.7h0M259.9 88.0h0M262.7 88.2h0M262.0 88.5h0M261.2 88.5h0M263.1 88.9h0M262.8 89.0h0M262.8 89.4h0M261.8 89.4h0M262.5 89.8h0M260.4 90.0h0M261.1 90.3h0M261.2 90.6h0M263.5 90.7h0M263.2 90.9h0M264.1 91.1h0M263.1 91.3h0M260.6 91.6h0M262.1 91.9h0M260.4 92.1h0M261.2 92.4h0M261.6 92.7h0M260.8 92.8h0M261.3 93.2h0M263.6 93.3h0M263.3 93.5h0M260.3 93.7h0M261.9 93.9h0M260.7 94.3h0M263.3 94.4h0M260.5 94.6h0M261.8 94.9h0M263.9 95.2h0M262.4 95.3h0M259.9 95.6h0M264.0 95.8h0M262.5 96.0h0M260.1 96.4h0M260.3 96.6h0M263.1 96.7h0M261.5 96.9h0M262.0 97.2h0M260.5 97.4h0M260.2 97.6h0M260.7 97.8h0M260.4 98.2h0M261.7 98.5h0M260.9 98.6h0M260.0 98.9h0M260.2 99.2h0M261.7 99.4h0M263.8 99.6h0M260.1 99.7h0M262.5 100.1h0M261.1 100.3h0M260.7 100.5h0M261.1 100.7h0M261.2 101.0h0M262.7 101.1h0M263.5 101.3h0M260.8 101.7h0M262.1 101.8h0M263.1 102.1h0M261.7 102.3h0M261.1 102.7h0M263.9 102.9h0M264.1 103.2h0M263.5 103.2h0M260.7 103.6h0M262.8 103.9h0M262.4 104.1h0M263.8 104.1h0M261.0 104.4h0M260.7 104.7h0M263.1 104.9h0M262.8 105.1h0M262.0 105.3h0M263.0 105.7h0M260.7 105.7h0M261.6 106.2h0M261.5 106.3h0M263.2 106.6h0M261.6 106.8h0M262.2 107.0h0M264.2 107.2h0M263.4 107.6h0M261.9 107.8h0M260.9 108.0h0M263.1 108.2h0M263.6 108.5h0M261.0 108.7h0M262.0 108.9h0M261.5 109.1h0M263.7 109.4h0M262.9 109.7h0M260.5 109.7h0M260.8 110.1h0M260.3 110.2h0M263.1 110.4h0M263.7 110.7h0M263.7 110.9h0M261.0 111.2h0M259.8 111.4h0M261.5 111.7h0M263.8 111.8h0M259.8 112.1h0M260.8 112.5h0M259.9 112.5h0M263.1 112.7h0M262.1 113.1h0M261.1 113.2h0M261.5 113.6h0M263.9 113.9h0M263.7 113.9h0M263.1 114.1h0M263.0 114.5h0M263.5 114.7h0M262.3 114.9h0M261.6 115.1h0M263.1 115.3h0M263.4 115.6h0M262.6 115.9h0M263.5 116.2h0M261.3 116.3h0M261.5 116.7h0M261.3 116.7h0M264.1 117.1h0M262.8 117.3h0M263.4 117.6h0M261.9 117.7h0M261.3 118.0h0M262.6 118.1h0M260.9 118.5h0M263.9 118.7h0M260.4 118.8h0M261.3 119.1h0M264.4 119.5h0M263.4 119.6h0M260.6 119.9h0M260.6 120.2h0M261.9 120.2h0M262.0 120.4h0M264.2 120.7h0M263.7 121.0h0M262.5 121.3h0M261.2 121.4h0M261.6 121.7h0M262.1 122.0h0M262.6 122.1h0M260.7 122.5h0M259.8 122.6h0M260.0 122.8h0M263.6 123.1h0M264.2 123.4h0M262.5 123.6h0M259.9 123.8h0M261.0 124.0h0M260.1 124.3h0M261.5 124.5h0M261.7 124.7h0M263.2 124.9h0M262.5 125.2h0M262.6 125.3h0M264.3 125.7h0M260.0 125.9h0M262.9 126.2h0M264.0 126.3h0M263.9 126.6h0M262.4 126.7h0M261.2 127.0h0M262.6 127.3h0M262.3 127.5h0M262.4 127.8h0M262.4 128.1h0M259.9 128.3h0M262.3 128.4h0M264.3 128.7h0M262.0 128.9h0M262.2 129.2h0M264.1 129.4h0M261.3 129.5h0M260.1 129.9h0M259.9 130.1h0M263.5 130.3h0M261.5 130.5h0M263.0 130.7h0M262.6 131.0h0M262.5 131.2h0M263.4 131.6h0M260.9 131.8h0M261.6 131.9h0M263.5 132.1h0M262.4 132.3h0M264.1 132.7h0M261.0 132.7h0M264.1 133.1h0M263.7 133.2h0M262.3 133.5h0M260.1 133.9h0M260.5 134.0h0M261.2 134.2h0M262.5 134.5h0M263.5 134.6h0M260.5 135.0h0M263.6 135.3h0M264.1 135.4h0M260.8 135.7h0M263.8 135.8h0M275.6 56.1h0M272.8 56.3h0M273.9 56.5h0M272.3 56.8h0M276.2 57.0h0M273.4 57.2h0M275.7 57.5h0M272.2 57.6h0M275.0 57.9h0M274.7 58.2h0M274.0 58.2h0M273.7 58.5h0M275.8 58.7h0M275.9 59.0h0M276.1 59.1h0M275.9 59.3h0M275.6 59.6h0M276.2 59.8h0M275.5 59.9h0M273.3 60.3h0M272.6 60.5h0M273.8 60.7h0M272.5 60.9h0M275.0 61.2h0M276.1 61.2h0M273.3 61.5h0M274.3 61.7h0M276.0 62.1h0M273.3 62.2h0M271.9 62.3h0M274.3 62.6h0M276.1 62.8h0M273.2 63.0h0M272.4 63.3h0M274.3 63.6h0M273.6 63.7h0M273.1 63.9h0M273.7 64.2h0M274.2 64.5h0M271.9 64.5h0M273.2 64.7h0M275.7 65.1h0M275.2 65.2h0M274.1 65.4h0M271.8 65.7h0M274.7 65.8h0M273.4 66.2h0M275.4 66.4h0M271.9 66.5h0M274.6 66.8h0M271.8 66.9h0M271.8 67.2h0M274.5 67.5h0M273.7 67.6h0M272.5 67.8h0M275.4 68.0h0M274.9 68.3h0M275.3 68.5h0M274.6 68.7h0M274.2 68.9h0M276.1 69.1h0M274.1 69.4h0M272.1 69.6h0M272.7 69.8h0M271.7 70.1h0M275.6 70.2h0M274.9 70.5h0M272.7 70.6h0M273.0 70.9h0M273.2 71.2h0M274.3 71.4h0M276.2 71.6h0M276.2 71.7h0M275.7 71.9h0M274.1 72.1h0M275.2 72.4h0M272.6 72.6h0M274.2 72.9h0M273.9 73.1h0M275.2 73.2h0M273.8 73.4h0M272.8 73.6h0M275.1 74.0h0M273.7 74.2h0M274.7 74.4h0M274.1 74.5h0M275.0 74.8h0M273.0 75.0h0M272.1 75.2h0M275.0 75.4h0M272.4 75.7h0M272.2 75.9h0M272.3 76.2h0M272.8 76.2h0M272.9 76.6h0M275.9 76.8h0M275.1 76.9h0M274.2 77.2h0M276.0 77.4h0M271.7 77.7h0M273.1 77.8h0M273.6 78.0h0M271.7 78.4h0M273.0 78.6h0M275.8 78.6h0M272.6 78.9h0M273.3 79.1h0M272.4 79.3h0M274.3 79.5h0M273.0 79.8h0M275.2 80.0h0M273.2 80.3h0M275.3 80.6h0M273.8 80.7h0M272.2 80.9h0M274.4 81.2h0M275.9 81.2h0M271.8 81.6h0M272.7 81.8h0M275.5 82.0h0M273.9 82.2h0M272.5 82.5h0M273.6 82.7h0M272.5 83.0h0M271.8 83.1h0M272.2 83.2h0M274.0 83.4h0M275.3 83.7h0M274.5 83.9h0M272.2 84.2h0M275.1 84.3h0M275.9 84.6h0M273.5 84.8h0M273.2 85.1h0M275.7 85.3h0M274.1 85.4h0M272.2 85.8h0M275.2 86.0h0M274.4 86.2h0M276.0 86.2h0M275.2 86.5h0M273.1 86.8h0M273.5 87.0h0M271.8 87.3h0M273.4 87.5h0M273.8 87.7h0M273.0 87.9h0M271.7 88.1h0M272.0 88.3h0M274.7 88.6h0M276.1 88.7h0M276.0 89.0h0M274.9 89.1h0M274.4 89.4h0M275.9 89.5h0M274.4 89.8h0M272.9 90.1h0M275.9 90.1h0M271.8 90.4h0M276.2 90.6h0M272.6 91.0h0M275.7 91.0h0M274.3 91.4h0M273.5 91.5h0M271.6 91.9h0M271.9 92.0h0M272.1 92.3h0M275.5 92.5h0M271.8 92.7h0M273.9 92.9h0M272.3 93.1h0M275.3 93.3h0M275.7 93.4h0M272.8 93.7h0M273.7 93.9h0M274.2 94.2h0M274.0 94.5h0M276.2 94.6h0M271.7 94.8h0M273.1 95.0h0M273.5 95.2h0M275.9 95.4h0M275.7 95.7h0M275.0 95.9h0M273.0 96.2h0M272.6 96.4h0M274.4 96.6h0M272.4 96.8h0M275.4 97.0h0M276.1 97.3h0M272.6 97.3h0M274.9 97.6h0M274.6 97.9h0M274.0 98.1h0M275.9 98.3h0M274.6 98.5h0M273.9 98.7h0M274.3 99.0h0M273.6 99.1h0M273.6 99.4h0M273.3 99.6h0M273.6 99.8h0M276.1 100.0h0M271.7 100.2h0M273.4 100.5h0M274.3 100.7h0M272.7 100.9h0M275.6 101.0h0M272.9 101.4h0M273.1 101.5h0M275.7 101.7h0M272.7 102.1h0M274.8 102.2h0M273.8 102.5h0M272.7 102.6h0M275.6 102.9h0M272.1 103.2h0M276.2 103.3h0M273.7 103.6h0M271.9 103.7h0M271.9 104.0h0M274.7 104.2h0M275.7 104.4h0M274.5 104.7h0M274.3 104.7h0M272.8 105.0h0M275.0 105.3h0M272.7 105.4h0M274.3 105.7h0M273.6 105.9h0M272.5 106.2h0M273.1 106.4h0M276.0 106.7h0M274.4 106.7h0M273.5 106.9h0M274.6 107.2h0M271.8 107.4h0M274.2 107.6h0M273.0 107.8h0M275.8 108.1h0M272.8 108.3h0M272.9 108.5h0M272.3 108.8h0M273.6 108.9h0M272.4 109.3h0M272.2 109.3h0M273.1 109.5h0M275.1 109.8h0M273.8 110.0h0M275.2 110.2h0M273.6 110.6h0M272.8 110.8h0M274.0 111.0h0M273.4 111.2h0M272.2 111.3h0M273.3 111.6h0M273.7 111.8h0M272.6 112.0h0M273.2 112.1h0M274.1 112.5h0M274.9 112.5h0M271.9 112.8h0M272.6 113.0h0M274.2 113.4h0M272.8 113.5h0M272.9 113.7h0M275.3 113.9h0M274.8 114.2h0M274.6 114.5h0M271.8 114.5h0M272.8 114.7h0M275.4 115.0h0M273.6 115.3h0M276.1 115.4h0M273.2 115.7h0M276.1 115.8h0M275.5 116.1h0M274.6 116.3h0M275.7 116.5h0M272.1 116.7h0M275.3 116.9h0M274.6 117.3h0M272.9 117.5h0M272.0 117.6h0M271.8 118.0h0M273.2 118.1h0M273.6 118.2h0M272.8 118.6h0M274.5 118.7h0M274.0 119.0h0M275.6 119.1h0M272.4 119.3h0M274.0 119.5h0M274.2 119.8h0M275.7 120.1h0M271.8 120.2h0M271.7 120.5h0M272.3 120.6h0M275.2 120.9h0M273.0 121.0h0M274.8 121.4h0M274.8 121.5h0M273.5 121.8h0M274.7 121.9h0M272.2 122.2h0M273.5 122.4h0M273.4 122.6h0M274.2 122.9h0M275.3 123.1h0M273.1 123.2h0M275.6 123.6h0M275.1 123.8h0M275.2 124.0h0M272.2 124.2h0M272.1 124.3h0M273.1 124.7h0M274.1 124.8h0M274.9 125.0h0M275.3 125.3h0M273.1 125.6h0M275.1 125.6h0M273.3 125.9h0M272.3 126.1h0M273.7 126.4h0M273.2 126.6h0M274.0 126.7h0M275.7 127.0h0M274.8 127.2h0M275.6 127.4h0M274.2 127.7h0M272.9 127.8h0M275.3 128.2h0M272.0 128.3h0M276.1 128.5h0M275.3 128.6h0M274.2 129.0h0M273.5 129.2h0M272.0 129.4h0M272.1 129.7h0M274.7 129.7h0M275.3 130.1h0M275.9 130.3h0M271.7 130.4h0M275.2 130.6h0M284.3 70.1h0M287.5 70.4h0M287.2 70.6h0M284.3 70.8h0M286.8 70.9h0M284.0 71.3h0M285.1 71.3h0M286.2 71.6h0M287.3 71.8h0M287.6 72.0h0M284.9 72.2h0M287.9 72.4h0M287.2 72.7h0M285.9 72.8h0M288.0 73.2h0M283.9 73.5h0M288.0 73.6h0M287.8 73.8h0M283.6 74.0h0M284.7 74.3h0M285.1 74.5h0M287.7 74.7h0M287.5 75.0h0M287.2 75.1h0M285.4 75.2h0M284.6 75.6h0M286.1 75.7h0M286.7 75.9h0M283.9 76.2h0M283.8 76.5h0M285.0 76.7h0M283.8 76.8h0M287.1 77.2h0M287.1 77.3h0M287.7 77.6h0M284.7 77.7h0M288.0 77.9h0M286.5 78.2h0M285.3 78.4h0M287.4 78.6h0M287.4 78.7h0M285.9 78.9h0M284.1 79.3h0M285.5 79.5h0M285.3 79.6h0M285.4 79.9h0M283.9 80.0h0M284.1 80.4h0M287.2 80.5h0M287.5 80.8h0M283.5 80.9h0M286.2 81.3h0M283.5 81.4h0M284.5 81.6h0M288.0 81.9h0M283.8 82.0h0M283.9 82.3h0M285.5 82.4h0M284.9 82.8h0M285.6 82.9h0M285.3 83.1h0M284.9 83.4h0M284.3 83.7h0M286.3 83.7h0M287.7 84.0h0M286.9 84.2h0M285.1 84.5h0M286.3 84.6h0M285.6 84.9h0M286.6 85.1h0M285.4 85.3h0M285.6 85.5h0M287.6 85.8h0M286.0 86.1h0M284.5 86.2h0M286.8 86.4h0M286.6 86.6h0M285.2 87.0h0M285.5 87.2h0M287.4 87.3h0M285.0 87.4h0M283.7 87.8h0M285.6 87.9h0M286.3 88.2h0M286.5 88.5h0M283.8 88.5h0M285.4 88.7h0M285.9 88.9h0M284.4 89.3h0M285.3 89.5h0M285.1 89.8h0M285.9 89.9h0M287.0 90.1h0M284.6 90.2h0M287.5 90.5h0M283.6 90.8h0M286.2 90.9h0M283.9 91.3h0M285.2 91.5h0M285.4 91.6h0M288.0 91.8h0M287.7 92.2h0M286.7 92.3h0M283.6 92.4h0M286.5 92.8h0M284.9 93.0h0M287.7 93.1h0M283.5 93.4h0M285.1 93.6h0M287.9 93.7h0M287.2 94.1h0M285.4 94.1h0M286.8 94.4h0M287.1 94.7h0M284.0 95.0h0M283.9 95.0h0M287.3 95.4h0M284.5 95.5h0M284.0 95.8h0M283.5 95.9h0M285.4 96.3h0M287.1 96.5h0M288.0 96.6h0M287.7 96.9h0M283.8 97.2h0M284.5 97.3h0M285.0 97.5h0M283.7 97.8h0M284.0 97.9h0M285.7 98.3h0M285.8 98.4h0M285.0 98.6h0M286.9 98.8h0M287.5 99.1h0M287.3 99.2h0M286.1 99.5h0M286.1 99.7h0M283.9 99.8h0M284.0 100.1h0M286.7 100.2h0M286.3 100.6h0M286.8 100.7h0M286.3 101.0h0M286.0 101.1h0M284.7 101.4h0M287.4 101.6h0M287.7 101.9h0M284.7 102.0h0M283.7 102.3h0M285.9 102.5h0M287.6 102.7h0M286.4 103.0h0M287.1 103.2h0M283.4 103.3h0M287.1 103.7h0M284.0 103.7h0M286.5 104.0h0M283.5 104.2h0M283.5 104.5h0M285.2 104.6h0M283.5 104.8h0M284.6 105.1h0M285.4 105.3h0M284.9 105.5h0M287.3 105.7h0M285.7 106.0h0M284.5 106.1h0M285.5 106.5h0M287.2 106.6h0M284.0 106.9h0M286.0 107.1h0M284.9 107.2h0M286.5 107.5h0M286.3 107.7h0M283.8 107.9h0M287.3 108.0h0M287.6 108.4h0M287.0 108.5h0M285.0 108.7h0M287.4 109.0h0M287.3 109.3h0M287.8 109.4h0M286.1 109.6h0M284.5 109.9h0M283.9 110.1h0M284.3 110.4h0M284.7 110.5h0M286.4 110.8h0M287.4 111.0h0M284.4 111.3h0M284.2 111.4h0M284.1 111.6h0M285.1 111.8h0M286.5 112.1h0M284.5 112.2h0M285.9 112.5h0M283.9 112.6h0M286.2 112.9h0M287.0 113.1h0M286.2 113.3h0M285.0 113.6h0M285.3 113.9h0M285.9 114.0h0M288.0 114.3h0M285.9 114.5h0M286.4 114.7h0M287.9 115.0h0M284.4 115.2h0M285.5 115.3h0M287.0 115.5h0M286.7 115.7h0M285.4 116.0h0M286.8 116.2h0M288.0 116.5h0M284.7 116.7h0M285.7 116.9h0M285.5 117.2h0M283.6 117.3h0M285.9 117.5h0M283.9 117.7h0M283.8 117.9h0M285.5 118.1h0M285.7 118.3h0M285.2 118.6h0M283.5 118.7h0M287.9 119.0h0M285.1 119.2h0M286.9 119.4h0M287.1 119.7h0M284.1 119.8h0M285.1 120.0h0M285.2 120.3h0M285.5 120.6h0M287.9 120.8h0M286.2 121.0h0M285.0 121.3h0M287.9 121.3h0M286.1 121.6h0M286.9 121.8h0M286.4 122.0h0M287.7 122.2h0M284.7 122.5h0M284.5 122.8h0M285.7 122.9h0M284.0 123.3h0M287.1 123.3h0M285.4 123.5h0M286.7 123.9h0M284.0 124.1h0M285.1 124.3h0M285.6 124.5h0M285.6 124.8h0M284.1 124.8h0M283.7 125.1h0M287.5 125.3h0M287.4 125.6h0M285.7 125.7h0M283.9 126.0h0M287.7 126.1h0M285.8 126.5h0M287.4 126.7h0M286.2 126.9h0M287.5 127.0h0M284.6 127.2h0M285.8 127.4h0M285.6 127.7h0M284.1 127.9h0M285.9 128.2h0M287.3 128.3h0M287.7 128.7h0M283.8 128.9h0M285.5 129.0h0M286.9 129.2h0M284.1 129.5h0M287.9 129.7h0M285.5 130.0h0M297.3 68.1h0M299.8 68.4h0M296.1 68.6h0M296.8 68.8h0M298.6 69.0h0M297.6 69.2h0M298.0 69.5h0M297.4 69.8h0M296.6 70.0h0M297.6 70.2h0M296.3 70.4h0M297.6 70.7h0M296.4 70.9h0M299.4 71.2h0M296.4 71.5h0M298.2 71.5h0M299.2 71.7h0M296.8 72.1h0M298.4 72.3h0M297.0 72.5h0M298.4 72.8h0M295.7 73.0h0M296.5 73.2h0M298.2 73.4h0M299.5 73.7h0M299.5 73.9h0M297.7 74.2h0M297.4 74.3h0M297.5 74.7h0M296.9 74.7h0M298.1 75.0h0M297.5 75.3h0M298.8 75.7h0M295.4 75.7h0M298.0 76.1h0M297.6 76.3h0M297.3 76.4h0M298.0 76.8h0M295.8 76.8h0M297.8 77.3h0M298.5 77.3h0M299.3 77.7h0M299.0 77.9h0M297.4 78.0h0M296.8 78.4h0M299.3 78.5h0M295.3 78.9h0M297.8 78.9h0M298.1 79.4h0M295.8 79.6h0M296.1 79.8h0M296.0 79.9h0M295.5 80.2h0M298.2 80.5h0M298.8 80.8h0M299.3 80.8h0M299.6 81.1h0M295.6 81.4h0M296.1 81.6h0M297.8 81.9h0M297.5 82.2h0M298.3 82.3h0M297.4 82.6h0M297.2 82.7h0M296.3 83.0h0M297.5 83.1h0M295.6 83.5h0M299.7 83.6h0M298.8 83.9h0M295.7 84.1h0M299.3 84.4h0M295.5 84.7h0M298.1 84.9h0M298.3 85.1h0M296.1 85.3h0M295.9 85.6h0M299.2 85.7h0M297.6 86.0h0M297.5 86.3h0M297.8 86.4h0M296.9 86.6h0M299.9 86.8h0M298.3 87.3h0M299.2 87.3h0M299.0 87.6h0M298.1 87.9h0M296.5 88.2h0M297.8 88.4h0M299.1 88.6h0M297.2 88.7h0M295.6 89.0h0M298.4 89.4h0M297.8 89.5h0M295.6 89.8h0M298.4 89.9h0M297.6 90.2h0M296.3 90.4h0M296.8 90.7h0M299.4 91.0h0M296.5 91.2h0M295.8 91.4h0M295.6 91.6h0M299.7 91.8h0M296.9 92.1h0M299.6 92.2h0M299.2 92.4h0M295.6 92.8h0M298.2 93.1h0M297.2 93.2h0M297.7 93.5h0M299.4 93.8h0M295.3 93.9h0M298.3 94.2h0M295.6 94.4h0M299.4 94.5h0M297.4 94.8h0M296.2 95.2h0M295.6 95.3h0M298.7 95.6h0M298.8 95.7h0M299.1 96.1h0M299.6 96.3h0M297.8 96.5h0M299.0 96.8h0M298.3 97.0h0M296.8 97.1h0M299.2 97.4h0M296.6 97.7h0M295.5 98.0h0M296.8 98.0h0M299.6 98.2h0M297.1 98.5h0M297.7 98.9h0M297.3 99.1h0M299.7 99.2h0M297.7 99.4h0M295.9 99.7h0M297.6 99.9h0M297.3 100.3h0M299.6 100.3h0M299.3 100.6h0M298.3 100.8h0M296.5 101.0h0M298.7 101.3h0M297.2 101.6h0M297.7 101.8h0M299.7 102.0h0M295.9 102.2h0M296.9 102.5h0M295.5 102.8h0M296.9 103.0h0M296.7 103.3h0M296.7 103.4h0M296.6 103.7h0M297.2 103.9h0M296.6 104.2h0M297.8 104.4h0M298.3 104.7h0M295.7 104.8h0M295.9 105.0h0M296.1 105.2h0M296.8 105.6h0M296.3 105.9h0M296.1 105.9h0M298.4 106.1h0M296.4 106.5h0M298.4 106.8h0M298.1 106.9h0M297.3 107.2h0M296.9 107.3h0M297.0 107.7h0M295.7 107.9h0M299.2 108.1h0M297.0 108.3h0M296.4 108.6h0M295.9 108.7h0M297.6 109.1h0M299.7 109.4h0M299.6 109.6h0M295.4 109.8h0M299.8 109.9h0M298.1 110.3h0M297.3 110.4h0M295.9 110.6h0M296.5 110.9h0M299.3 111.0h0M299.3 111.4h0M297.9 111.5h0M299.1 111.8h0M298.3 112.0h0M296.8 112.3h0M297.5 112.4h0M299.0 112.7h0M296.1 112.9h0M299.0 113.2h0M298.2 113.4h0M295.6 113.6h0M297.6 113.9h0M297.4 114.0h0M297.1 114.5h0M297.2 114.6h0M295.5 114.8h0M297.9 115.1h0M296.6 115.3h0M299.6 115.4h0M297.0 115.8h0M297.8 116.0h0M295.4 116.1h0M296.0 116.5h0M295.4 116.7h0M321.3 49.3h0M321.6 49.6h0M319.9 49.8h0M323.0 50.0h0M323.0 50.2h0M320.2 50.5h0M319.0 50.7h0M321.8 51.0h0M321.3 51.0h0M322.0 51.3h0M323.1 51.4h0M319.3 51.7h0M323.0 52.0h0M322.2 52.1h0M323.0 52.4h0M322.8 52.4h0M322.6 52.7h0M321.1 53.0h0M322.6 53.2h0M323.3 53.5h0M322.3 53.6h0M320.8 53.8h0M321.3 54.0h0M320.1 54.1h0M322.8 54.5h0M322.1 54.7h0M321.6 54.8h0M319.0 55.1h0M323.4 55.2h0M321.1 55.4h0M320.1 55.6h0M319.1 55.9h0M322.6 56.1h0M320.1 56.4h0M320.6 56.6h0M323.3 56.7h0M322.1 56.9h0M318.9 57.0h0M319.4 57.3h0M320.1 57.6h0M322.0 57.8h0M322.2 57.9h0M321.3 58.1h0M322.8 58.3h0M321.6 58.6h0M320.5 58.8h0M320.4 58.9h0M321.5 59.3h0M320.0 59.3h0M319.0 59.6h0M321.0 59.7h0M323.0 60.0h0M322.4 60.2h0M320.4 60.5h0M323.5 60.7h0M320.7 60.9h0M320.1 61.2h0M320.3 61.4h0M320.4 61.5h0M323.0 61.7h0M319.8 62.0h0M322.2 62.2h0M322.8 62.3h0M321.7 62.5h0M322.5 62.8h0M319.2 63.0h0M320.2 63.2h0M320.7 63.4h0M321.4 63.6h0M323.0 63.8h0M320.2 64.0h0M319.4 64.1h0M323.2 64.5h0M320.6 64.5h0M322.9 64.9h0M323.5 65.1h0M319.2 65.2h0M321.2 65.4h0M320.1 65.6h0M322.1 65.9h0M319.5 66.0h0M319.3 66.3h0M319.4 66.4h0M323.0 66.8h0M322.6 66.8h0M321.9 67.2h0M322.7 67.3h0M319.1 67.5h0M319.9 67.8h0M322.4 68.0h0M319.4 68.1h0M319.6 68.4h0M322.0 68.6h0M321.1 68.7h0M322.9 68.9h0M322.1 69.2h0M319.2 69.4h0M322.5 69.7h0M321.6 69.8h0M322.4 70.0h0M320.2 70.3h0M319.9 70.5h0M321.3 70.6h0M322.2 71.0h0M321.3 71.0h0M321.6 71.3h0M321.3 71.5h0M323.0 71.7h0M322.5 71.9h0M319.5 72.2h0M320.4 72.3h0M321.2 72.5h0M323.5 72.7h0M320.6 73.0h0M323.2 73.2h0M321.8 73.3h0M320.7 73.7h0M322.6 73.9h0M319.6 74.0h0M320.8 74.3h0M321.1 74.4h0M323.0 74.7h0M322.4 74.9h0M320.6 75.0h0M319.8 75.1h0M319.7 75.4h0M319.5 75.7h0M320.8 75.9h0M322.1 76.0h0M319.0 76.3h0M322.4 76.6h0M320.3 76.8h0M322.1 76.9h0M323.4 77.1h0M321.4 77.4h0M320.2 77.5h0M323.4 77.7h0M321.6 77.9h0M323.4 78.1h0M322.7 78.4h0M319.8 78.6h0M319.1 78.7h0M319.3 79.0h0M319.7 79.1h0M322.6 79.5h0M323.4 79.6h0M319.6 79.8h0M322.6 80.0h0M322.6 80.2h0M322.6 80.5h0M319.1 80.6h0M322.3 80.8h0M322.4 81.1h0M320.2 81.2h0M322.8 81.4h0M319.6 81.8h0M319.1 82.0h0M320.1 82.1h0M322.2 82.4h0M319.8 82.6h0M321.9 82.7h0M319.0 83.0h0M323.1 83.2h0M321.3 83.4h0M323.2 83.6h0M321.3 83.8h0M321.2 84.1h0M321.4 84.1h0M320.5 84.4h0M319.9 84.6h0M322.4 84.8h0M321.0 85.1h0M319.5 85.3h0M322.3 85.5h0M320.7 85.7h0M323.3 85.8h0M321.9 86.1h0M319.4 86.3h0M320.8 86.5h0M322.0 86.8h0M321.5 87.0h0M319.5 87.2h0M321.6 87.4h0M319.8 87.6h0M322.2 87.7h0M322.0 88.0h0M321.2 88.1h0M321.9 88.4h0M319.3 88.7h0M319.0 88.9h0M321.4 89.0h0M320.9 89.1h0M322.9 89.5h0M321.3 89.5h0M319.5 89.9h0M323.2 90.1h0M319.9 90.2h0M319.9 90.4h0M322.2 90.7h0M321.5 91.0h0M320.9 91.2h0M318.9 91.3h0M319.0 91.5h0M322.6 91.6h0M320.3 91.8h0M321.3 92.1h0M319.4 92.2h0M320.8 92.6h0M321.1 92.7h0M323.5 92.9h0M319.8 93.1h0M321.5 93.3h0M322.5 93.7h0M321.4 93.7h0M323.4 94.0h0M321.7 94.3h0M320.9 94.4h0M320.7 94.6h0M319.3 94.9h0M323.5 95.0h0M321.3 95.2h0M322.7 95.5h0M320.7 95.7h0M319.8 95.9h0M319.0 96.1h0M319.7 96.2h0M322.3 96.5h0M323.0 96.6h0M323.3 96.8h0M321.8 97.2h0M323.3 97.4h0M322.9 97.5h0M322.5 97.7h0M322.5 98.0h0M319.3 98.1h0M321.7 98.4h0M319.7 98.6h0M323.4 98.8h0M322.7 99.0h0M322.0 99.3h0M320.8 99.4h0M319.5 99.6h0M320.2 99.8h0M323.1 100.0h0M323.0 100.2h0M323.1 100.5h0M322.2 100.8h0M320.0 100.9h0M320.4 101.1h0M319.1 101.4h0M320.5 101.5h0M321.4 101.7h0M323.5 102.0h0M323.3 102.1h0M321.3 102.4h0M319.8 102.6h0M321.2 102.8h0M323.2 103.0h0M322.1 103.2h0M319.5 103.4h0M319.2 103.6h0M323.4 103.7h0M319.5 104.0h0M319.2 104.2h0M320.0 104.5h0M321.9 104.6h0M319.0 104.9h0M321.6 105.1h0M320.9 105.3h0M320.5 105.4h0M320.5 105.7h0M320.5 106.0h0" stroke="#686868" stroke-width="2.25" stroke-linecap="round" fill="none"/>
<path d="M36.4 57.0h0M37.1 72.8h0M36.8 82.0h0M37.7 84.0h0M36.6 96.5h0M37.5 101.0h0M37.2 104.5h0M36.6 107.5h0M37.4 110.5h0M36.6 113.0h0M37.3 116.5h0M36.6 119.5h0M36.7 122.7h0M50.3 89.5h0M48.3 90.2h0M50.7 91.9h0M48.9 92.9h0M47.7 94.5h0M48.5 95.4h0M47.9 95.8h0M50.3 97.0h0M49.5 98.0h0M48.8 99.6h0M47.3 100.4h0M48.0 100.8h0M48.9 101.9h0M49.6 102.4h0M48.4 103.2h0M50.1 104.1h0M49.5 104.4h0M50.8 105.4h0M48.3 106.2h0M47.6 107.1h0M50.3 107.4h0M49.2 107.9h0M49.9 108.6h0M49.5 109.8h0M48.4 110.6h0M49.6 111.2h0M49.0 111.8h0M51.1 112.7h0M49.9 113.1h0M50.1 113.6h0M51.3 114.7h0M48.3 115.5h0M50.0 115.9h0M49.1 116.4h0M47.6 117.2h0M50.4 117.8h0M48.1 118.6h0M50.8 119.5h0M49.0 120.0h0M50.9 121.0h0M50.8 121.9h0M48.9 122.2h0M50.9 123.0h0M47.7 124.1h0M48.1 124.3h0M49.2 125.1h0M60.0 100.4h0M60.7 100.7h0M61.3 101.6h0M61.9 102.6h0M61.6 103.0h0M59.1 103.8h0M62.3 104.6h0M62.3 105.2h0M60.6 105.6h0M61.6 106.1h0M59.2 106.7h0M59.6 107.5h0M59.1 108.2h0M59.6 108.7h0M60.5 109.4h0M62.7 110.0h0M59.5 111.1h0M60.4 111.5h0M59.4 112.1h0M63.2 112.7h0M61.0 112.9h0M59.3 113.2h0M60.0 113.7h0M59.6 114.2h0M63.0 114.3h0M59.5 114.9h0M59.0 115.3h0M63.1 115.7h0M61.9 116.2h0M60.5 116.3h0M62.2 116.7h0M62.3 117.2h0M59.9 117.5h0M63.1 118.1h0M62.4 118.5h0M62.1 118.8h0M61.1 119.0h0M59.0 119.4h0M60.1 119.7h0M61.9 120.2h0M60.8 120.8h0M63.2 121.2h0M60.5 121.6h0M59.9 121.7h0M59.8 122.0h0M62.8 122.6h0M61.0 123.1h0M62.3 123.4h0M61.7 123.5h0M62.3 124.2h0M61.0 124.6h0M62.3 124.7h0M62.3 125.2h0M60.6 125.8h0M63.0 126.0h0M59.6 126.5h0M59.6 126.6h0M62.4 127.3h0M62.5 127.4h0M61.7 128.1h0M61.3 128.2h0M59.0 128.5h0M61.7 129.3h0M62.9 129.5h0M62.7 129.8h0M59.8 130.3h0M60.2 130.5h0M61.4 130.9h0M60.7 131.3h0M62.8 131.6h0M60.9 132.1h0M62.8 132.6h0M62.8 132.9h0M61.2 133.3h0M59.0 133.7h0M59.7 134.0h0M62.3 134.3h0M60.9 134.7h0M61.3 135.3h0M60.7 71.0h0M61.1 83.0h0M61.2 86.0h0M61.6 91.0h0M60.3 97.0h0M71.8 95.6h0M74.0 96.3h0M73.1 97.5h0M74.7 98.8h0M73.4 99.4h0M72.9 100.2h0M72.7 100.8h0M72.8 101.2h0M73.7 101.8h0M74.8 102.2h0M73.1 102.4h0M74.3 103.2h0M71.3 103.3h0M71.0 103.8h0M71.0 104.2h0M74.1 104.9h0M71.4 105.4h0M73.6 105.8h0M74.5 106.0h0M71.7 106.8h0M72.4 107.3h0M75.0 107.5h0M71.4 108.1h0M72.9 108.4h0M71.6 108.8h0M73.8 109.3h0M73.1 109.6h0M70.8 110.2h0M73.4 110.6h0M71.0 111.2h0M74.1 111.8h0M71.2 112.3h0M70.9 112.4h0M71.9 113.1h0M72.5 113.3h0M74.2 114.1h0M71.4 114.2h0M73.2 115.0h0M71.1 115.3h0M73.7 115.5h0M71.0 116.1h0M73.5 116.8h0M71.1 117.2h0M71.0 117.7h0M72.7 118.2h0M73.1 118.4h0M71.9 119.1h0M73.0 119.2h0M71.2 119.7h0M70.9 120.1h0M72.1 120.6h0M74.0 121.1h0M72.9 121.5h0M72.2 121.9h0M71.8 122.3h0M73.9 122.8h0M71.5 123.5h0M74.7 123.9h0M74.2 124.2h0M72.9 124.8h0M72.4 125.4h0M73.7 125.7h0M72.2 126.4h0M73.8 126.8h0M72.5 127.2h0M71.0 127.5h0M71.0 127.8h0M71.8 128.6h0M71.1 128.8h0M74.5 129.5h0M73.2 55.6h0M72.5 77.5h0M72.4 83.5h0M72.5 87.0h0M72.8 91.0h0M72.3 93.0h0M83.9 88.6h0M86.3 90.6h0M83.8 91.4h0M83.9 92.5h0M82.6 92.7h0M84.6 93.2h0M83.4 93.8h0M82.6 94.3h0M82.9 94.6h0M82.7 95.2h0M83.9 95.5h0M85.1 96.1h0M85.8 96.8h0M85.5 71.8h0M85.1 76.0h0M83.9 83.5h0M96.1 85.5h0M96.0 86.9h0M94.8 88.5h0M96.0 90.7h0M95.3 94.0h0M95.5 96.0h0M97.6 96.8h0M96.3 99.7h0M96.4 100.2h0M98.0 102.8h0M96.1 104.4h0M94.9 107.8h0M97.6 108.8h0M95.0 111.5h0M94.6 117.0h0M95.5 118.7h0M98.2 119.4h0M95.6 119.9h0M97.0 121.3h0M97.5 121.6h0M95.6 122.5h0M97.6 123.1h0M108.8 84.5h0M106.7 86.8h0M108.3 87.5h0M109.9 91.4h0M107.5 92.4h0M108.3 94.8h0M107.3 98.2h0M109.2 100.2h0M109.3 102.5h0M107.8 104.3h0M107.9 105.9h0M106.9 109.2h0M109.2 110.2h0M106.5 112.2h0M108.6 112.7h0M110.4 113.5h0M110.5 114.5h0M106.6 114.8h0M108.3 115.3h0M108.1 116.4h0M108.0 116.7h0M109.1 117.6h0M109.8 118.3h0M106.7 118.9h0M107.5 119.7h0M107.8 120.2h0M107.1 120.9h0M107.3 121.3h0M110.0 121.8h0M107.6 122.8h0M110.5 123.3h0M107.2 124.0h0M109.0 124.9h0M109.2 64.0h0M107.6 69.0h0M107.2 70.3h0M121.6 50.2h0M122.0 50.9h0M119.3 51.0h0M118.8 51.6h0M120.5 52.5h0M119.6 53.0h0M120.0 53.4h0M121.4 53.6h0M118.5 54.5h0M120.7 54.8h0M119.6 55.1h0M118.9 55.6h0M120.6 56.1h0M118.9 56.8h0M119.4 57.0h0M118.8 57.8h0M118.9 58.2h0M120.4 58.9h0M118.5 59.0h0M120.4 59.7h0M118.4 60.3h0M121.0 60.6h0M119.3 61.2h0M122.1 61.7h0M120.5 62.2h0M119.8 62.7h0M122.3 63.4h0M118.9 63.7h0M118.9 64.4h0M121.9 64.5h0M121.6 65.1h0M121.8 65.4h0M118.7 65.8h0M120.4 65.9h0M121.9 66.5h0M120.7 66.6h0M120.2 67.0h0M119.3 67.2h0M122.0 67.7h0M120.1 67.8h0M122.2 68.4h0M118.6 68.5h0M122.2 69.0h0M118.3 69.2h0M119.7 69.7h0M120.7 70.0h0M118.7 70.3h0M119.0 70.6h0M121.7 70.8h0M118.8 71.2h0M119.8 71.3h0M119.7 71.7h0M119.1 71.9h0M121.9 72.4h0M120.5 72.5h0M118.2 73.0h0M118.5 73.4h0M120.4 73.6h0M119.3 73.9h0M120.5 74.2h0M120.9 74.5h0M119.9 74.8h0M120.6 136.3h0M121.4 137.6h0M121.1 138.0h0M120.9 36.8h0M120.3 41.4h0M119.4 47.7h0M129.9 56.2h0M133.8 56.9h0M132.7 58.0h0M133.8 58.9h0M132.5 59.5h0M132.9 60.3h0M132.8 61.0h0M132.7 61.5h0M133.1 62.5h0M130.6 62.9h0M133.2 63.7h0M132.7 65.1h0M133.4 65.4h0M132.3 66.5h0M131.2 66.9h0M131.2 67.8h0M132.6 68.5h0M130.1 69.7h0M130.0 70.2h0M133.3 70.6h0M133.8 71.7h0M129.9 72.4h0M132.4 73.1h0M134.1 74.3h0M131.6 74.7h0M132.6 75.2h0M130.5 76.0h0M129.9 76.6h0M130.4 77.9h0M130.2 78.9h0M130.4 79.6h0M133.0 79.7h0M133.0 80.6h0M130.1 81.3h0M132.9 82.5h0M133.0 83.4h0M132.6 83.5h0M131.8 84.8h0M131.0 85.3h0M132.9 85.7h0M129.9 85.7h0M133.4 86.2h0M131.2 86.4h0M130.6 86.9h0M131.9 87.3h0M131.4 87.4h0M131.7 87.9h0M130.5 88.2h0M131.4 88.6h0M132.6 88.9h0M131.5 89.1h0M133.9 89.6h0M132.3 89.9h0M130.1 90.1h0M132.9 90.7h0M131.3 90.9h0M134.1 91.2h0M132.4 91.6h0M131.7 91.8h0M131.5 92.3h0M132.4 92.6h0M133.3 93.0h0M129.9 93.1h0M131.7 93.4h0M133.4 93.9h0M130.0 94.3h0M133.3 94.6h0M132.3 94.9h0M133.5 95.1h0M132.8 95.6h0M131.3 96.0h0M132.2 96.0h0M130.7 96.6h0M133.9 96.9h0M132.5 97.1h0M131.9 97.5h0M131.0 97.7h0M133.3 98.2h0M130.2 98.5h0M133.2 98.9h0M132.4 99.1h0M133.7 99.6h0M131.9 99.8h0M130.7 100.2h0M130.6 100.4h0M131.4 100.9h0M131.6 101.2h0M130.5 101.5h0M134.1 101.7h0M130.3 102.1h0M133.2 102.5h0M132.4 102.7h0M132.1 103.1h0M130.0 103.3h0M133.6 104.0h0M132.3 104.1h0M133.2 104.4h0M133.9 104.8h0M133.4 105.2h0M131.0 105.6h0M130.7 105.7h0M130.2 106.0h0M132.3 106.3h0M131.8 106.9h0M133.8 107.3h0M132.4 107.3h0M130.4 107.8h0M131.0 108.3h0M132.6 108.5h0M132.7 109.0h0M131.8 109.1h0M134.0 109.4h0M130.8 110.0h0M131.0 110.0h0M133.7 110.4h0M133.5 110.9h0M133.2 111.0h0M132.6 111.5h0M130.1 112.0h0M133.1 112.0h0M132.8 112.6h0M132.4 112.7h0M130.3 113.2h0M131.0 113.4h0M131.9 113.7h0M130.9 114.0h0M132.8 114.3h0M132.9 114.6h0M130.0 115.0h0M130.8 115.6h0M133.6 115.9h0M130.5 116.3h0M130.3 116.4h0M133.5 116.9h0M131.8 117.2h0M133.4 117.4h0M132.6 117.8h0M130.8 118.0h0M132.9 118.3h0M130.5 118.8h0M131.0 119.2h0M130.5 119.4h0M133.5 119.7h0M130.6 120.1h0M131.2 120.5h0M130.3 120.9h0M130.1 121.3h0M132.7 121.6h0M131.9 121.7h0M131.0 122.0h0M131.4 122.4h0M134.1 122.9h0M130.3 123.3h0M133.7 123.4h0M133.0 123.6h0M134.1 124.0h0M133.3 124.3h0M130.5 124.7h0M133.4 124.9h0M130.7 125.5h0M133.8 125.8h0M132.3 126.0h0M130.6 126.3h0M132.9 126.9h0M130.2 127.0h0M132.5 127.3h0M131.0 127.8h0M132.5 128.0h0M133.3 128.5h0M130.7 128.8h0M133.0 129.0h0M133.0 129.4h0M133.3 129.6h0M133.5 130.1h0M132.0 130.6h0M133.8 130.6h0M133.6 131.1h0M130.7 131.4h0M131.4 131.9h0M131.5 132.0h0M129.9 132.5h0M131.8 132.8h0M130.4 133.1h0M133.4 133.5h0M131.2 133.9h0M131.5 134.2h0M130.1 134.5h0M134.0 134.9h0M132.1 135.1h0M132.2 135.4h0M131.1 31.8h0M132.8 41.7h0M131.5 48.0h0M131.4 50.6h0M143.0 62.5h0M142.2 65.0h0M144.5 65.4h0M142.2 66.9h0M144.1 68.9h0M144.5 70.3h0M145.1 71.1h0M142.3 73.4h0M143.8 74.0h0M143.1 75.9h0M143.5 76.8h0M144.1 78.3h0M142.6 80.7h0M144.7 81.7h0M144.9 82.6h0M143.5 85.1h0M145.0 85.8h0M143.5 87.4h0M144.8 89.4h0M143.0 89.9h0M143.6 91.4h0M144.9 93.7h0M144.9 95.0h0M142.3 96.4h0M145.4 97.3h0M142.8 98.5h0M144.4 98.7h0M144.0 99.2h0M143.5 99.5h0M141.8 100.3h0M145.9 100.6h0M145.7 101.4h0M145.2 101.8h0M145.5 102.5h0M144.4 102.5h0M144.6 103.2h0M144.0 103.7h0M144.4 104.5h0M143.9 104.7h0M145.8 105.3h0M143.0 105.7h0M142.2 106.4h0M145.8 106.9h0M142.8 107.3h0M144.0 107.8h0M142.2 108.1h0M142.9 108.6h0M142.9 109.3h0M142.1 109.7h0M145.3 110.4h0M144.1 110.9h0M142.5 111.4h0M143.7 111.9h0M144.3 112.4h0M143.0 112.8h0M142.6 113.2h0M143.3 113.9h0M141.7 114.4h0M145.4 114.8h0M144.1 115.2h0M142.9 115.9h0M143.0 116.6h0M142.4 117.0h0M145.4 117.2h0M142.0 117.8h0M143.6 118.3h0M142.2 119.0h0M145.8 119.2h0M142.3 120.0h0M143.2 120.3h0M144.3 121.0h0M145.2 121.6h0M144.9 121.9h0M145.0 122.5h0M145.1 122.9h0M145.6 123.5h0M145.4 123.7h0M145.0 124.2h0M143.8 125.0h0M144.1 125.7h0M145.1 125.9h0M144.3 126.6h0M143.6 126.9h0M144.8 127.4h0M143.4 127.8h0M143.3 128.5h0M145.1 128.9h0M155.7 59.3h0M154.3 59.7h0M154.1 60.3h0M156.0 61.1h0M157.5 61.5h0M157.1 62.3h0M157.6 63.3h0M155.3 63.6h0M153.6 64.8h0M155.9 64.8h0M157.5 65.8h0M155.8 66.7h0M155.7 67.5h0M156.5 67.9h0M155.0 68.5h0M155.0 69.3h0M156.4 70.2h0M153.9 70.6h0M155.2 71.2h0M156.0 72.0h0M157.7 72.9h0M155.4 73.3h0M157.8 74.1h0M155.8 74.6h0M154.2 75.3h0M157.7 75.4h0M155.7 75.9h0M157.4 76.0h0M157.0 76.6h0M157.3 77.0h0M154.2 77.1h0M155.7 77.4h0M154.3 77.8h0M156.2 78.1h0M155.0 78.5h0M156.2 79.0h0M155.3 79.0h0M154.8 79.6h0M153.5 79.9h0M157.1 80.1h0M156.4 80.5h0M155.7 80.7h0M154.7 81.2h0M155.8 81.5h0M156.0 82.0h0M154.0 82.1h0M156.8 82.4h0M153.9 82.7h0M155.8 83.0h0M156.1 83.6h0M153.8 83.9h0M156.8 84.0h0M156.6 84.4h0M154.2 84.8h0M153.9 85.1h0M156.0 85.6h0M155.4 85.8h0M153.7 86.1h0M156.0 86.6h0M155.4 87.0h0M154.6 87.2h0M157.5 87.3h0M154.9 87.9h0M157.0 88.3h0M156.1 88.4h0M155.6 89.0h0M154.6 89.3h0M156.6 89.4h0M154.8 89.7h0M155.6 90.3h0M154.6 90.6h0M155.1 90.7h0M157.7 91.0h0M155.9 91.4h0M155.8 91.7h0M155.2 92.1h0M154.0 92.3h0M155.0 92.9h0M154.3 93.1h0M154.5 93.4h0M156.4 93.7h0M154.2 94.1h0M153.9 94.5h0M157.1 94.7h0M155.4 95.0h0M157.0 95.6h0M155.0 95.7h0M155.1 96.2h0M154.4 96.6h0M155.7 97.0h0M155.5 97.0h0M156.5 97.3h0M157.4 97.7h0M155.1 98.2h0M156.1 98.4h0M157.3 98.7h0M155.7 99.0h0M154.7 99.5h0M155.2 99.9h0M156.0 100.2h0M155.2 100.4h0M154.3 100.7h0M154.9 101.3h0M154.0 101.5h0M155.1 101.8h0M154.8 102.1h0M154.8 102.3h0M154.1 102.7h0M154.7 103.2h0M157.4 103.4h0M157.3 103.9h0M154.1 104.3h0M153.6 104.4h0M156.4 104.9h0M155.3 105.1h0M156.5 105.5h0M157.2 105.7h0M156.2 106.1h0M154.0 106.4h0M156.7 106.9h0M153.7 107.2h0M154.2 107.3h0M154.8 107.7h0M153.7 108.1h0M156.3 108.4h0M157.1 108.7h0M156.6 109.1h0M155.4 109.4h0M155.0 109.9h0M157.1 110.0h0M154.7 110.5h0M157.2 110.6h0M153.7 111.2h0M154.0 111.4h0M154.4 111.9h0M156.7 112.3h0M156.5 112.3h0M156.7 112.8h0M154.7 113.2h0M157.6 113.3h0M157.5 113.8h0M156.7 114.2h0M156.2 114.6h0M153.7 114.8h0M155.4 115.2h0M157.5 115.5h0M156.8 115.7h0M156.5 116.0h0M154.6 116.6h0M157.7 116.8h0M155.8 117.2h0M153.8 117.4h0M155.3 117.7h0M154.8 118.0h0M156.5 118.3h0M154.5 118.8h0M155.7 119.0h0M157.5 119.4h0M154.8 119.7h0M154.1 120.2h0M154.9 120.5h0M155.9 120.9h0M154.2 121.2h0M156.1 121.5h0M156.8 121.8h0M154.0 122.2h0M155.1 122.4h0M153.8 122.7h0M154.4 123.0h0M155.4 123.5h0M154.9 123.6h0M155.1 124.1h0M153.8 124.3h0M157.8 124.6h0M153.9 125.2h0M157.7 125.5h0M154.0 125.8h0M155.4 126.1h0M155.8 126.3h0M157.5 126.6h0M156.2 127.1h0M156.3 127.6h0M154.6 127.7h0M153.6 128.0h0M157.1 128.5h0M154.6 130.0h0M156.8 134.5h0M154.5 138.8h0M153.9 34.9h0M168.9 60.4h0M166.7 61.0h0M168.9 61.2h0M166.9 61.9h0M166.9 62.6h0M166.4 63.3h0M167.8 63.5h0M168.9 64.4h0M169.2 65.0h0M167.5 65.7h0M166.0 66.0h0M167.8 66.5h0M168.3 66.9h0M167.2 67.5h0M166.7 131.0h0M167.4 135.4h0M167.6 138.1h0M167.4 38.1h0M169.0 42.5h0M166.0 44.6h0M167.0 55.0h0M169.1 56.0h0M181.1 52.3h0M179.4 53.7h0M180.7 54.7h0M177.9 55.4h0M179.1 57.0h0M180.7 57.8h0M180.9 59.0h0M178.8 59.2h0M180.7 60.9h0M177.8 61.2h0M177.6 62.3h0M180.6 63.4h0M179.1 64.6h0M178.9 65.1h0M180.2 67.0h0M179.2 67.5h0M180.4 68.8h0M180.1 69.2h0M179.4 70.2h0M178.8 70.8h0M178.8 71.5h0M178.0 71.9h0M177.4 72.9h0M180.3 73.2h0M178.6 73.9h0M180.7 74.5h0M179.9 75.1h0M178.0 76.2h0M180.6 76.5h0M178.8 77.3h0M179.1 77.5h0M180.2 78.4h0M178.9 78.9h0M180.6 79.8h0M180.4 125.7h0M179.4 129.1h0M178.2 132.0h0M179.2 138.8h0M179.9 22.5h0M178.9 34.9h0M189.4 70.2h0M192.7 71.0h0M190.6 71.6h0M192.8 72.5h0M189.3 72.9h0M190.9 73.5h0M190.5 74.3h0M191.7 74.8h0M191.2 75.2h0M192.9 76.0h0M190.6 76.6h0M189.2 77.5h0M191.9 78.0h0M190.9 78.5h0M192.8 79.2h0M192.2 79.8h0M192.5 130.7h0M190.6 135.8h0M192.1 138.3h0M192.9 47.0h0M190.5 48.0h0M191.8 51.5h0M189.6 58.5h0M191.7 61.0h0M189.9 67.5h0M192.5 67.8h0M201.6 54.4h0M202.3 56.3h0M202.5 57.4h0M204.5 58.7h0M203.1 59.5h0M203.1 61.6h0M202.6 63.4h0M203.6 64.8h0M201.6 66.3h0M202.2 66.6h0M201.3 69.0h0M203.7 69.5h0M201.9 71.9h0M203.6 72.6h0M203.8 74.3h0M202.1 75.8h0M201.4 76.5h0M202.0 78.5h0M204.5 79.3h0M203.3 81.3h0M203.3 82.7h0M202.3 84.2h0M201.5 84.7h0M202.5 86.0h0M201.6 87.6h0M204.6 89.5h0M202.2 91.2h0M201.9 92.7h0M202.1 93.1h0M203.8 93.7h0M203.9 94.2h0M204.8 94.5h0M204.4 95.2h0M204.4 95.5h0M204.5 96.1h0M203.7 96.9h0M200.9 97.1h0M204.7 97.6h0M203.6 98.1h0M203.7 98.8h0M201.4 99.1h0M205.0 99.5h0M203.6 100.2h0M201.8 100.8h0M200.9 101.0h0M201.4 101.9h0M202.4 102.5h0M201.4 102.9h0M201.9 103.4h0M203.1 103.7h0M201.9 104.1h0M202.0 104.9h0M204.1 105.2h0M201.6 105.6h0M202.5 106.1h0M203.6 106.7h0M204.6 107.2h0M203.7 107.5h0M201.8 108.4h0M202.7 108.5h0M202.8 109.1h0M201.2 109.9h0M202.9 110.1h0M201.8 110.6h0M201.3 111.2h0M202.4 111.5h0M204.8 112.2h0M201.1 112.8h0M204.0 113.1h0M204.6 113.8h0M204.5 114.5h0M204.9 114.6h0M201.8 115.3h0M204.5 115.6h0M201.2 116.1h0M204.8 116.6h0M204.0 117.2h0M202.8 117.5h0M201.7 118.2h0M202.4 118.8h0M205.0 119.1h0M201.6 119.7h0M203.6 120.0h0M200.9 120.8h0M204.0 121.2h0M201.8 121.8h0M203.4 122.2h0M201.4 122.8h0M204.9 123.4h0M204.5 123.9h0M204.7 124.2h0M201.8 124.6h0M204.7 125.3h0M201.7 125.5h0M202.7 126.0h0M201.6 126.6h0M203.3 127.4h0M202.5 128.0h0M212.7 50.4h0M213.6 51.3h0M214.8 51.6h0M214.8 52.6h0M215.3 53.3h0M216.2 53.4h0M216.9 54.1h0M213.6 54.9h0M214.0 55.9h0M214.1 56.2h0M212.7 57.0h0M213.3 57.5h0M212.6 58.4h0M213.7 59.0h0M215.1 59.5h0M213.2 60.3h0M213.2 60.7h0M213.3 61.8h0M214.9 61.9h0M216.5 62.9h0M213.6 63.2h0M215.2 63.9h0M214.4 64.8h0M215.5 65.7h0M216.8 66.4h0M216.7 66.6h0M212.9 67.4h0M213.1 68.4h0M213.9 68.4h0M216.8 69.3h0M214.4 70.3h0M216.3 70.7h0M215.4 71.6h0M213.1 72.0h0M215.5 72.5h0M216.1 73.4h0M216.8 74.3h0M213.0 74.5h0M214.8 125.1h0M216.2 131.6h0M214.8 135.3h0M215.0 138.8h0M216.3 42.7h0M213.0 45.5h0M227.1 60.9h0M226.4 63.3h0M225.8 64.4h0M226.3 65.4h0M226.5 67.2h0M224.9 68.0h0M227.4 69.8h0M225.7 71.8h0M226.7 72.5h0M227.0 73.8h0M225.3 75.6h0M227.6 76.1h0M227.5 76.8h0M225.6 77.5h0M228.4 78.2h0M228.5 78.4h0M224.8 79.3h0M227.9 79.7h0M225.1 80.8h0M227.2 81.3h0M225.9 82.3h0M225.5 82.8h0M225.2 83.1h0M227.1 83.9h0M225.2 84.5h0M224.8 85.1h0M225.8 85.8h0M225.3 86.7h0M226.4 87.3h0M226.6 88.3h0M226.5 89.0h0M227.0 89.1h0M225.2 89.8h0M227.5 90.4h0M226.2 91.6h0M226.3 91.9h0M227.4 92.6h0M225.1 93.1h0M226.9 93.6h0M228.1 93.7h0M226.0 94.2h0M228.4 94.5h0M226.3 94.8h0M226.8 95.1h0M227.6 95.5h0M225.1 96.0h0M228.1 96.1h0M227.0 96.6h0M225.9 96.9h0M226.8 97.3h0M225.3 97.5h0M228.3 97.7h0M224.6 98.3h0M226.5 98.4h0M226.0 98.8h0M226.0 99.3h0M228.5 99.5h0M226.5 99.9h0M226.1 100.1h0M227.8 100.5h0M226.1 100.7h0M226.0 101.1h0M226.8 101.6h0M225.9 101.7h0M225.2 102.3h0M224.6 102.5h0M224.7 102.7h0M225.1 103.2h0M224.7 103.4h0M227.6 103.7h0M228.4 104.2h0M226.8 104.6h0M224.9 104.9h0M226.3 105.3h0M227.7 105.4h0M226.1 105.9h0M228.2 106.0h0M227.0 106.6h0M224.6 107.0h0M225.0 107.0h0M227.5 107.3h0M224.9 107.8h0M225.2 108.0h0M227.4 108.5h0M226.0 109.0h0M226.3 109.3h0M225.6 109.4h0M228.7 109.7h0M227.5 110.3h0M225.2 110.4h0M226.0 110.7h0M224.7 111.2h0M227.4 111.5h0M226.4 111.6h0M226.9 112.2h0M228.3 112.4h0M225.9 112.8h0M228.5 113.1h0M228.4 113.6h0M225.1 113.8h0M226.1 114.0h0M224.5 114.5h0M227.8 114.9h0M224.5 115.1h0M226.2 115.6h0M226.9 115.8h0M226.2 116.2h0M228.6 116.6h0M227.1 116.9h0M226.1 117.1h0M228.4 117.4h0M227.9 117.9h0M228.7 118.2h0M225.8 118.5h0M225.6 118.9h0M225.1 119.1h0M226.6 119.6h0M228.4 119.7h0M228.5 120.0h0M225.1 120.5h0M226.9 120.9h0M227.0 121.2h0M228.5 121.4h0M227.8 121.6h0M225.7 122.0h0M228.2 122.3h0M227.6 122.8h0M227.6 123.0h0M224.9 123.5h0M227.6 123.8h0M227.3 124.0h0M226.1 124.4h0M228.1 129.3h0M226.4 134.3h0M227.7 137.0h0M238.3 40.8h0M238.0 41.6h0M238.3 42.5h0M239.5 42.6h0M239.2 43.4h0M240.5 44.1h0M239.5 45.3h0M239.0 45.7h0M237.4 46.7h0M236.4 47.8h0M236.7 48.3h0M240.1 49.4h0M238.3 49.5h0M239.4 50.6h0M237.8 51.6h0M237.1 52.5h0M239.8 52.7h0M237.1 53.4h0M237.7 54.5h0M240.3 55.0h0M239.7 56.0h0M240.2 56.6h0M240.2 57.4h0M240.5 58.5h0M239.0 59.4h0M240.0 59.9h0M236.7 60.6h0M239.8 61.8h0M239.5 62.4h0M238.3 62.8h0M240.4 64.0h0M237.0 64.9h0M238.7 65.5h0M237.0 66.0h0M238.3 66.6h0M237.4 67.6h0M238.7 68.3h0M238.8 69.4h0M240.1 69.7h0M240.4 70.6h0M236.9 71.9h0M240.4 72.4h0M238.6 73.0h0M236.4 73.7h0M236.8 74.4h0M239.0 75.1h0M240.4 75.4h0M237.8 75.8h0M239.0 76.1h0M240.0 76.3h0M237.8 76.6h0M237.6 76.9h0M237.3 77.3h0M236.6 77.6h0M238.7 77.6h0M238.5 77.9h0M239.9 78.2h0M239.2 78.6h0M240.6 79.0h0M239.4 79.2h0M236.5 79.3h0M240.5 79.7h0M238.7 79.9h0M238.1 80.1h0M238.8 80.7h0M236.3 80.9h0M237.1 81.0h0M236.7 81.5h0M237.4 81.8h0M238.5 82.1h0M240.4 82.2h0M239.3 82.5h0M239.9 82.7h0M236.8 83.3h0M237.5 83.5h0M237.9 83.6h0M240.4 84.0h0M240.6 84.4h0M239.1 84.6h0M239.4 84.7h0M237.8 85.1h0M237.4 85.5h0M237.0 85.6h0M238.8 85.9h0M237.0 86.3h0M238.8 86.5h0M238.1 86.8h0M236.4 87.1h0M238.1 87.3h0M239.5 87.6h0M239.8 87.9h0M236.7 88.2h0M238.0 88.5h0M239.6 88.8h0M239.2 89.0h0M238.2 89.5h0M240.3 89.7h0M237.1 90.0h0M236.6 90.1h0M236.7 90.5h0M238.1 90.9h0M238.5 91.0h0M237.3 91.5h0M237.6 91.6h0M240.2 91.9h0M238.1 92.3h0M236.5 92.4h0M239.9 92.7h0M237.0 93.1h0M236.5 93.4h0M237.7 93.7h0M239.5 93.8h0M238.5 94.3h0M239.2 94.4h0M239.1 94.8h0M240.2 95.0h0M237.2 95.2h0M237.1 95.6h0M239.2 95.8h0M237.7 96.4h0M239.2 96.4h0M238.0 96.7h0M238.1 97.1h0M236.6 97.3h0M240.6 97.7h0M236.7 98.1h0M238.4 98.2h0M239.2 98.4h0M239.8 98.8h0M240.3 99.0h0M238.3 99.5h0M238.4 99.5h0M239.2 99.8h0M238.8 100.3h0M236.5 100.6h0M239.7 100.8h0M237.7 101.0h0M238.8 101.2h0M237.8 101.7h0M237.9 102.0h0M237.5 102.3h0M238.2 102.6h0M236.7 102.6h0M240.0 103.1h0M237.0 103.4h0M239.4 103.7h0M237.9 103.8h0M236.3 104.3h0M237.8 104.4h0M240.6 104.9h0M240.2 105.0h0M240.0 105.4h0M240.5 105.7h0M240.4 106.0h0M237.1 106.2h0M238.4 106.5h0M237.9 106.7h0M238.8 107.1h0M237.5 107.3h0M238.5 107.6h0M239.1 107.9h0M238.6 108.1h0M239.6 108.4h0M239.7 108.8h0M237.4 109.1h0M238.5 109.5h0M237.5 109.6h0M239.3 109.9h0M238.4 110.3h0M237.2 110.5h0M237.8 110.7h0M237.8 111.0h0M239.4 111.4h0M237.3 111.5h0M239.1 112.0h0M239.0 112.2h0M237.5 112.5h0M237.8 112.6h0M240.4 112.9h0M239.2 113.3h0M239.8 113.7h0M237.7 113.8h0M239.7 114.1h0M238.4 114.5h0M237.5 114.7h0M239.4 115.0h0M239.9 115.4h0M238.2 115.7h0M237.6 115.9h0M237.1 116.3h0M237.5 116.4h0M240.0 116.9h0M240.0 117.0h0M238.1 117.4h0M239.6 117.5h0M236.8 117.8h0M238.2 118.3h0M238.9 118.4h0M236.4 118.7h0M237.9 119.0h0M237.9 119.2h0M237.7 119.7h0M239.0 119.9h0M236.4 120.1h0M238.9 120.5h0M237.2 120.7h0M240.2 121.1h0M238.8 121.2h0M237.7 121.6h0M237.7 121.7h0M238.9 122.2h0M236.8 122.8h0M237.6 123.5h0M237.9 124.7h0M236.8 126.2h0M237.3 127.3h0M237.3 128.2h0M237.9 128.9h0M239.7 129.4h0M237.4 131.2h0M238.4 132.2h0M236.5 133.4h0M237.3 133.8h0M251.2 49.8h0M250.4 52.5h0M251.3 53.6h0M249.5 55.2h0M250.1 58.7h0M248.9 61.4h0M249.3 62.4h0M248.9 63.6h0M249.8 65.9h0M250.3 68.8h0M251.0 77.3h0M251.9 79.3h0M250.3 80.4h0M249.8 82.7h0M249.3 84.9h0M249.8 86.6h0M250.7 87.4h0M249.5 89.5h0M251.8 90.3h0M249.0 92.5h0M250.4 94.6h0M249.7 95.8h0M249.7 98.3h0M251.8 99.3h0M249.9 100.9h0M250.8 102.2h0M250.1 104.7h0M249.4 106.0h0M250.1 108.3h0M249.8 110.0h0M248.7 111.5h0M251.8 112.3h0M250.9 114.8h0M250.2 116.2h0M249.2 117.3h0M250.9 119.8h0M250.8 120.8h0M250.7 122.3h0M249.7 22.5h0M251.5 127.0h0M261.3 58.3h0M260.5 58.8h0M262.6 59.2h0M261.3 59.6h0M262.3 60.3h0M263.3 60.8h0M260.9 61.3h0M263.5 61.7h0M263.2 62.3h0M261.9 62.7h0M263.5 63.5h0M260.4 63.8h0M260.1 64.3h0M264.1 65.0h0M263.5 25.6h0M262.7 32.0h0M261.4 35.0h0M262.6 43.0h0M262.6 46.0h0M262.3 50.0h0M262.7 53.0h0M263.0 56.0h0M275.4 35.2h0M273.1 36.3h0M274.7 36.8h0M274.2 37.5h0M272.9 37.8h0M272.4 38.6h0M275.6 39.5h0M274.8 39.8h0M272.3 40.7h0M275.1 41.4h0M272.2 41.8h0M275.1 42.4h0M275.3 43.2h0M272.2 43.6h0M275.6 44.4h0M272.1 44.9h0M272.2 46.0h0M272.1 46.6h0M274.6 47.0h0M273.5 48.0h0M271.9 48.4h0M272.8 49.0h0M274.8 50.0h0M274.1 50.6h0M272.3 51.2h0M273.0 51.7h0M274.9 52.2h0M273.2 52.9h0M275.5 53.6h0M273.8 54.5h0M275.7 54.9h0M273.7 56.0h0M274.0 131.3h0M272.8 134.5h0M275.3 136.1h0M273.6 138.5h0M272.4 23.0h0M273.9 27.0h0M273.5 31.5h0M274.7 33.0h0M286.5 52.4h0M286.7 52.7h0M287.0 53.2h0M287.4 53.7h0M285.5 54.3h0M287.1 54.8h0M287.7 55.3h0M287.5 55.5h0M285.7 56.4h0M284.2 56.9h0M286.7 57.2h0M285.2 57.9h0M286.4 58.5h0M284.1 58.5h0M286.0 59.0h0M284.7 59.7h0M283.9 60.2h0M287.2 61.0h0M285.5 61.3h0M286.2 61.7h0M287.8 62.2h0M286.7 63.0h0M283.9 63.4h0M285.1 63.6h0M285.4 64.1h0M287.2 65.0h0M284.5 65.5h0M283.7 65.6h0M283.8 66.1h0M284.9 66.8h0M286.0 67.3h0M284.9 67.8h0M286.6 68.4h0M285.6 68.9h0M284.8 69.2h0M285.6 69.5h0M285.0 11.6h0M284.7 17.6h0M286.7 20.5h0M285.7 29.0h0M285.8 33.0h0M286.3 36.0h0M285.2 43.0h0M285.3 47.0h0M295.5 47.7h0M295.8 48.1h0M297.2 48.8h0M296.4 49.6h0M296.4 50.3h0M295.8 50.4h0M297.1 51.1h0M296.9 52.3h0M295.6 52.8h0M297.7 53.3h0M297.9 53.7h0M296.8 54.6h0M298.4 55.4h0M295.9 55.6h0M296.6 56.0h0M299.6 56.8h0M299.1 57.5h0M298.8 57.6h0M297.5 58.4h0M298.0 59.0h0M296.4 59.1h0M298.0 59.6h0M299.1 60.3h0M295.5 60.5h0M296.5 61.5h0M299.1 61.6h0M298.8 62.1h0M297.8 62.9h0M295.4 63.3h0M298.1 63.8h0M297.6 64.4h0M296.4 64.6h0M295.8 65.3h0M296.5 65.6h0M297.8 66.4h0M299.6 66.7h0M296.4 67.3h0M299.1 67.8h0M296.1 116.8h0M298.1 117.6h0M298.3 118.3h0M295.5 118.6h0M297.5 119.3h0M295.6 119.8h0M297.5 120.3h0M297.2 120.5h0M297.9 120.9h0M298.4 121.5h0M298.4 122.0h0M298.5 122.7h0M296.7 123.4h0M297.1 123.8h0M299.0 124.4h0M298.0 124.8h0M299.3 125.1h0M299.5 125.9h0M299.0 126.1h0M299.0 126.8h0M297.4 127.4h0M298.8 127.7h0M297.7 128.3h0M295.6 128.9h0M297.4 129.0h0M298.7 129.7h0M298.9 131.3h0M296.3 133.3h0M295.8 22.7h0M298.0 37.0h0M297.9 42.0h0M297.4 44.0h0M309.6 43.2h0M309.4 46.0h0M309.3 47.2h0M310.0 49.0h0M310.1 50.4h0M310.3 54.2h0M308.9 55.4h0M308.0 56.6h0M310.7 59.5h0M308.3 62.3h0M310.4 64.1h0M310.6 65.6h0M308.8 67.0h0M310.2 69.7h0M308.7 71.7h0M308.9 73.5h0M308.2 73.9h0M310.3 74.7h0M310.1 75.4h0M307.3 76.2h0M308.5 77.3h0M311.4 77.8h0M307.5 78.3h0M307.9 79.1h0M309.5 80.3h0M308.4 80.4h0M308.0 81.6h0M311.1 82.2h0M308.3 83.0h0M307.7 83.9h0M310.0 84.6h0M309.6 85.1h0M310.5 86.0h0M311.2 87.0h0M308.0 87.7h0M310.3 88.2h0M307.5 89.4h0M308.5 89.9h0M311.0 90.7h0M310.4 91.5h0M308.4 92.4h0M308.9 93.1h0M309.5 93.7h0M308.0 94.6h0M307.9 95.5h0M310.9 95.9h0M308.8 97.2h0M307.4 97.9h0M308.1 98.7h0M310.5 98.7h0M310.5 99.6h0M307.8 100.2h0M307.6 101.3h0M308.7 102.1h0M309.4 103.1h0M310.9 104.0h0M311.2 104.2h0M309.7 105.5h0M308.0 106.0h0M308.2 106.6h0M309.9 107.2h0M310.5 108.1h0M310.5 109.4h0M310.6 110.1h0M309.8 112.1h0M310.1 113.1h0M310.2 114.7h0M308.2 116.3h0M310.3 117.3h0M309.8 118.3h0M310.1 120.4h0M309.3 121.5h0M310.2 123.1h0M322.6 106.6h0M321.2 107.2h0M322.7 107.7h0M320.0 108.1h0M321.2 108.7h0M323.2 109.7h0M320.8 110.7h0M319.5 111.1h0M321.3 111.9h0M322.8 112.2h0M319.9 112.8h0M323.4 113.7h0M320.2 114.2h0M320.5 115.3h0M319.2 116.1h0M320.4 116.3h0M319.5 117.4h0M322.9 117.9h0M322.5 118.8h0M321.2 118.9h0M319.6 119.6h0M322.2 120.3h0M319.6 121.2h0M319.4 121.7h0M322.3 122.8h0M323.2 123.2h0M320.0 124.2h0M319.9 124.4h0M321.6 125.3h0M322.4 125.9h0M320.4 126.6h0M323.2 127.4h0M320.0 33.5h0M320.4 42.0h0M321.2 45.0h0M320.6 47.0h0" stroke="#5c5c5c" stroke-width="2.25" stroke-linecap="round" fill="none"/>
<rect x="34.3" y="138.7" width="6.2" height="2.3" fill="#585858"/>
<rect x="46.1" y="138.7" width="6.2" height="2.3" fill="#585858"/>
<rect x="58.0" y="138.7" width="6.2" height="2.3" fill="#585858"/>
<rect x="69.8" y="138.7" width="6.2" height="2.3" fill="#585858"/>
<rect x="81.6" y="138.7" width="6.2" height="2.3" fill="#585858"/>
<rect x="93.4" y="138.7" width="6.2" height="2.3" fill="#585858"/>
<rect x="105.3" y="138.7" width="6.2" height="2.3" fill="#585858"/>
<rect x="117.1" y="138.7" width="6.2" height="2.3" fill="#585858"/>
<rect x="128.9" y="138.7" width="6.2" height="2.3" fill="#585858"/>
<rect x="140.7" y="138.7" width="6.2" height="2.3" fill="#585858"/>
<rect x="152.6" y="138.7" width="6.2" height="2.3" fill="#585858"/>
<rect x="164.4" y="138.7" width="6.2" height="2.3" fill="#585858"/>
<rect x="176.2" y="138.7" width="6.2" height="2.3" fill="#585858"/>
<rect x="188.0" y="138.7" width="6.2" height="2.3" fill="#585858"/>
<rect x="199.9" y="138.7" width="6.2" height="2.3" fill="#585858"/>
<rect x="211.7" y="138.7" width="6.2" height="2.3" fill="#585858"/>
<rect x="223.5" y="138.7" width="6.2" height="2.3" fill="#585858"/>
<rect x="235.3" y="138.7" width="6.2" height="2.3" fill="#585858"/>
<rect x="247.2" y="138.7" width="6.2" height="2.3" fill="#585858"/>
<rect x="259.0" y="138.7" width="6.2" height="2.3" fill="#585858"/>
<rect x="270.8" y="138.7" width="6.2" height="2.3" fill="#585858"/>
<rect x="282.6" y="138.7" width="6.2" height="2.3" fill="#585858"/>
<rect x="294.5" y="138.7" width="6.2" height="2.3" fill="#585858"/>
<rect x="306.3" y="138.7" width="6.2" height="2.3" fill="#585858"/>
<rect x="318.1" y="138.7" width="6.2" height="2.3" fill="#585858"/>
<rect x="289.9" y="2.8" width="14.5" height="145.6" fill="none" stroke="#3c3c3c" stroke-width="1.1"/>
<text x="0" y="0" transform="translate(36.20 153.40) rotate(48.0)" font-size="4.70" font-weight="bold" text-anchor="start" fill="#141414" textLength="57.8" lengthAdjust="spacingAndGlyphs" dominant-baseline="middle" stroke="#141414" stroke-width="0.30">Cholangiocarcinoma (TCGA)</text>
<text x="0" y="0" transform="translate(48.03 153.40) rotate(48.0)" font-size="4.70" font-weight="bold" text-anchor="start" fill="#141414" textLength="25.9" lengthAdjust="spacingAndGlyphs" dominant-baseline="middle" stroke="#141414" stroke-width="0.30">GBM (TCGA)</text>
<text x="0" y="0" transform="translate(59.85 153.40) rotate(48.0)" font-size="4.70" font-weight="bold" text-anchor="start" fill="#141414" textLength="30.5" lengthAdjust="spacingAndGlyphs" dominant-baseline="middle" stroke="#141414" stroke-width="0.30">Glioma (TCGA)</text>
<text x="0" y="0" transform="translate(71.68 153.40) rotate(48.0)" font-size="4.70" font-weight="bold" text-anchor="start" fill="#141414" textLength="26.7" lengthAdjust="spacingAndGlyphs" dominant-baseline="middle" stroke="#141414" stroke-width="0.30">PCPG (TCGA)</text>
<text x="0" y="0" transform="translate(83.50 153.40) rotate(48.0)" font-size="4.70" font-weight="bold" text-anchor="start" fill="#141414" textLength="33.2" lengthAdjust="spacingAndGlyphs" dominant-baseline="middle" stroke="#141414" stroke-width="0.30">Prostate (TCGA)</text>
<text x="0" y="0" transform="translate(95.33 153.40) rotate(48.0)" font-size="4.70" font-weight="bold" text-anchor="start" fill="#141414" textLength="37.4" lengthAdjust="spacingAndGlyphs" dominant-baseline="middle" stroke="#141414" stroke-width="0.30">Uterine CS (TCGA)</text>
<text x="0" y="0" transform="translate(107.16 153.40) rotate(48.0)" font-size="4.70" font-weight="bold" text-anchor="start" fill="#141414" textLength="50.8" lengthAdjust="spacingAndGlyphs" dominant-baseline="middle" stroke="#141414" stroke-width="0.30">Uveal melanoma (TCGA)</text>
<text x="0" y="0" transform="translate(118.98 153.40) rotate(48.0)" font-size="4.70" font-weight="bold" text-anchor="start" fill="#141414" textLength="28.9" lengthAdjust="spacingAndGlyphs" dominant-baseline="middle" stroke="#141414" stroke-width="0.30">Breast (TCGA)</text>
<text x="0" y="0" transform="translate(130.81 153.40) rotate(48.0)" font-size="4.70" font-weight="bold" text-anchor="start" fill="#141414" textLength="31.5" lengthAdjust="spacingAndGlyphs" dominant-baseline="middle" stroke="#141414" stroke-width="0.30">Thyroid (TCGA)</text>
<text x="0" y="0" transform="translate(142.63 153.40) rotate(48.0)" font-size="4.70" font-weight="bold" text-anchor="start" fill="#141414" textLength="31.3" lengthAdjust="spacingAndGlyphs" dominant-baseline="middle" stroke="#141414" stroke-width="0.30">Uterine (TCGA)</text>
<text x="0" y="0" transform="translate(154.46 153.40) rotate(48.0)" font-size="4.70" font-weight="bold" text-anchor="start" fill="#141414" textLength="36.7" lengthAdjust="spacingAndGlyphs" dominant-baseline="middle" stroke="#141414" stroke-width="0.30">Colorectal (TCGA)</text>
<text x="0" y="0" transform="translate(166.29 153.40) rotate(48.0)" font-size="4.70" font-weight="bold" text-anchor="start" fill="#141414" textLength="31.8" lengthAdjust="spacingAndGlyphs" dominant-baseline="middle" stroke="#141414" stroke-width="0.30">Bladder (TCGA)</text>
<text x="0" y="0" transform="translate(178.11 153.40) rotate(48.0)" font-size="4.70" font-weight="bold" text-anchor="start" fill="#141414" textLength="25.6" lengthAdjust="spacingAndGlyphs" dominant-baseline="middle" stroke="#141414" stroke-width="0.30">Liver (TCGA)</text>
<text x="0" y="0" transform="translate(189.94 153.40) rotate(48.0)" font-size="4.70" font-weight="bold" text-anchor="start" fill="#141414" textLength="32.0" lengthAdjust="spacingAndGlyphs" dominant-baseline="middle" stroke="#141414" stroke-width="0.30">Ovarian (TCGA)</text>
<text x="0" y="0" transform="translate(201.76 153.40) rotate(48.0)" font-size="4.70" font-weight="bold" text-anchor="start" fill="#141414" textLength="36.4" lengthAdjust="spacingAndGlyphs" dominant-baseline="middle" stroke="#141414" stroke-width="0.30">Thymoma (TCGA)</text>
<text x="0" y="0" transform="translate(213.59 153.40) rotate(48.0)" font-size="4.70" font-weight="bold" text-anchor="start" fill="#141414" textLength="33.5" lengthAdjust="spacingAndGlyphs" dominant-baseline="middle" stroke="#141414" stroke-width="0.30">Sarcoma (TCGA)</text>
<text x="0" y="0" transform="translate(225.42 153.40) rotate(48.0)" font-size="4.70" font-weight="bold" text-anchor="start" fill="#141414" textLength="34.2" lengthAdjust="spacingAndGlyphs" dominant-baseline="middle" stroke="#141414" stroke-width="0.30">Pancreas (TCGA)</text>
<text x="0" y="0" transform="translate(237.24 153.40) rotate(48.0)" font-size="4.70" font-weight="bold" text-anchor="start" fill="#141414" textLength="48.8" lengthAdjust="spacingAndGlyphs" dominant-baseline="middle" stroke="#141414" stroke-width="0.30">Lung adeno (TCGA pub)</text>
<text x="0" y="0" transform="translate(249.07 153.40) rotate(48.0)" font-size="4.70" font-weight="bold" text-anchor="start" fill="#141414" textLength="26.3" lengthAdjust="spacingAndGlyphs" dominant-baseline="middle" stroke="#141414" stroke-width="0.30">DLBC (TCGA)</text>
<text x="0" y="0" transform="translate(260.89 153.40) rotate(48.0)" font-size="4.70" font-weight="bold" text-anchor="start" fill="#141414" textLength="31.9" lengthAdjust="spacingAndGlyphs" dominant-baseline="middle" stroke="#141414" stroke-width="0.30">Cervical (TCGA)</text>
<text x="0" y="0" transform="translate(272.72 153.40) rotate(48.0)" font-size="4.70" font-weight="bold" text-anchor="start" fill="#141414" textLength="38.1" lengthAdjust="spacingAndGlyphs" dominant-baseline="middle" stroke="#141414" stroke-width="0.30">Melanoma (TCGA)</text>
<text x="0" y="0" transform="translate(284.55 153.40) rotate(48.0)" font-size="4.70" font-weight="bold" text-anchor="start" fill="#141414" textLength="33.9" lengthAdjust="spacingAndGlyphs" dominant-baseline="middle" stroke="#141414" stroke-width="0.30">Lung squ (TCGA)</text>
<text x="0" y="0" transform="translate(296.37 153.40) rotate(48.0)" font-size="4.70" font-weight="bold" text-anchor="start" fill="#141414" textLength="51.1" lengthAdjust="spacingAndGlyphs" dominant-baseline="middle" stroke="#141414" stroke-width="0.30">Head &amp; neck (TCGA pub)</text>
<text x="0" y="0" transform="translate(308.20 153.40) rotate(48.0)" font-size="4.70" font-weight="bold" text-anchor="start" fill="#141414" textLength="45.8" lengthAdjust="spacingAndGlyphs" dominant-baseline="middle" stroke="#141414" stroke-width="0.30">Mesothelioma (TCGA)</text>
<text x="0" y="0" transform="translate(320.02 153.40) rotate(48.0)" font-size="4.70" font-weight="bold" text-anchor="start" fill="#141414" textLength="37.1" lengthAdjust="spacingAndGlyphs" dominant-baseline="middle" stroke="#141414" stroke-width="0.30">ccRCC (TCGA pub)</text>
<text x="0" y="0" transform="translate(9.20 71.80) rotate(-90.0)" font-size="8.20" font-weight="bold" text-anchor="middle" fill="#111" textLength="116.0" lengthAdjust="spacingAndGlyphs" stroke="#111" stroke-width="0.25"><tspan font-style="italic">NCR1</tspan> (NKp46) RSEM units log</text>
<text x="19.00" y="134.60" font-size="2.60" font-weight="normal" text-anchor="start" fill="#888">-2</text>
<text x="19.00" y="25.00" font-size="2.60" font-weight="normal" text-anchor="start" fill="#aaa">6</text>
<text x="19.00" y="52.30" font-size="2.60" font-weight="normal" text-anchor="start" fill="#aaa">4</text>
<text x="19.00" y="79.60" font-size="2.60" font-weight="normal" text-anchor="start" fill="#aaa">2</text>
<text x="1.70" y="11.20" font-size="14.40" font-weight="bold" text-anchor="start" fill="#111">A</text>
<text x="347.90" y="11.00" font-size="14.40" font-weight="bold" text-anchor="start" fill="#111">B</text>
<line x1="383.40" y1="20.10" x2="393.60" y2="20.10" stroke="#111" stroke-width="1.50"/>
<line x1="383.40" y1="31.20" x2="393.60" y2="31.20" stroke="#8c8c8c" stroke-width="1.50"/>
<text x="398.20" y="23.10" font-size="7.50" font-weight="normal" text-anchor="start" fill="#111" textLength="108.5" lengthAdjust="spacingAndGlyphs" stroke="#111" stroke-width="0.22"><tspan font-style="italic">NCR1</tspan><tspan font-style="italic" dy="-2.62" font-size="4.95">hi</tspan><tspan dy="2.62"> (NKp46) (&gt;1.03 RSEM units)</tspan></text>
<text x="398.20" y="33.70" font-size="7.50" font-weight="normal" text-anchor="start" fill="#111" textLength="112.7" lengthAdjust="spacingAndGlyphs" stroke="#111" stroke-width="0.22"><tspan font-style="italic">NCR1</tspan><tspan font-style="italic" dy="-2.62" font-size="4.95">low</tspan><tspan dy="2.62"> (NKp46) (&lt;1.03 RSEM units)</tspan></text>
<text x="428.20" y="46.30" font-size="6.90" font-weight="bold" text-anchor="start" fill="#111" textLength="19.8" lengthAdjust="spacingAndGlyphs" stroke="#111" stroke-width="0.25"><tspan font-style="italic">n</tspan> = 604</text>
<text x="457.20" y="46.30" font-size="6.90" font-weight="bold" text-anchor="start" fill="#111" textLength="25.2" lengthAdjust="spacingAndGlyphs" stroke="#111" stroke-width="0.25"><tspan font-style="italic">P</tspan> = 0.016</text>
<line x1="381.30" y1="45.50" x2="381.30" y2="151.80" stroke="#9a9a9a" stroke-width="0.70"/>
<line x1="381.30" y1="151.80" x2="496.80" y2="151.80" stroke="#9a9a9a" stroke-width="0.70"/>
<line x1="379.70" y1="45.50" x2="381.30" y2="45.50" stroke="#777" stroke-width="0.60"/>
<text x="378.90" y="46.40" font-size="2.60" font-weight="normal" text-anchor="end" fill="#666">1</text>
<line x1="379.70" y1="72.10" x2="381.30" y2="72.10" stroke="#777" stroke-width="0.60"/>
<text x="378.90" y="73.00" font-size="2.60" font-weight="normal" text-anchor="end" fill="#666">0.75</text>
<line x1="379.70" y1="98.60" x2="381.30" y2="98.60" stroke="#777" stroke-width="0.60"/>
<text x="378.90" y="99.50" font-size="2.60" font-weight="normal" text-anchor="end" fill="#666">0.5</text>
<line x1="379.70" y1="125.20" x2="381.30" y2="125.20" stroke="#777" stroke-width="0.60"/>
<text x="378.90" y="126.10" font-size="2.60" font-weight="normal" text-anchor="end" fill="#666">0.25</text>
<line x1="379.70" y1="151.80" x2="381.30" y2="151.80" stroke="#777" stroke-width="0.60"/>
<text x="378.90" y="152.70" font-size="2.60" font-weight="normal" text-anchor="end" fill="#666">0</text>
<line x1="404.40" y1="151.80" x2="404.40" y2="153.40" stroke="#777" stroke-width="0.60"/>
<text x="404.40" y="156.40" font-size="2.60" font-weight="normal" text-anchor="middle" fill="#666">200</text>
<line x1="427.50" y1="151.80" x2="427.50" y2="153.40" stroke="#777" stroke-width="0.60"/>
<text x="427.50" y="156.40" font-size="2.60" font-weight="normal" text-anchor="middle" fill="#666">400</text>
<line x1="450.60" y1="151.80" x2="450.60" y2="153.40" stroke="#777" stroke-width="0.60"/>
<text x="450.60" y="156.40" font-size="2.60" font-weight="normal" text-anchor="middle" fill="#666">600</text>
<line x1="473.70" y1="151.80" x2="473.70" y2="153.40" stroke="#777" stroke-width="0.60"/>
<text x="473.70" y="156.40" font-size="2.60" font-weight="normal" text-anchor="middle" fill="#666">800</text>
<line x1="496.80" y1="151.80" x2="496.80" y2="153.40" stroke="#777" stroke-width="0.60"/>
<text x="496.80" y="156.40" font-size="2.60" font-weight="normal" text-anchor="middle" fill="#666">1,000</text>
<text x="0" y="0" transform="translate(368.90 100.30) rotate(-90.0)" font-size="8.20" font-weight="bold" text-anchor="middle" fill="#111" textLength="70.8" lengthAdjust="spacingAndGlyphs" stroke="#111" stroke-width="0.20">Survival probability</text>
<text x="443.60" y="165.60" font-size="7.80" font-weight="bold" text-anchor="middle" fill="#111" textLength="15.6" lengthAdjust="spacingAndGlyphs" stroke="#111" stroke-width="0.30">Days</text>
<polyline points="381.3,45.5 382.4,45.5 382.4,45.8 384.0,45.8 384.0,46.1 385.2,46.1 385.2,46.5 386.9,46.5 386.9,47.3 388.6,47.3 388.6,48.1 389.4,48.1 389.4,48.5 390.1,48.5 390.1,48.9 392.2,48.9 392.2,49.9 393.3,49.9 393.3,50.5 394.4,50.5 394.4,51.1 396.7,51.1 396.7,52.2 398.1,52.2 398.1,52.9 400.2,52.9 400.2,53.9 401.6,53.9 401.6,54.5 403.3,54.5 403.3,55.3 404.3,55.3 404.3,55.7 406.0,55.7 406.0,56.4 408.1,56.4 408.1,57.2 409.6,57.2 409.6,57.8 411.5,57.8 411.5,58.9 413.3,58.9 413.3,60.0 414.1,60.0 414.1,60.4 416.0,60.4 416.0,61.6 417.6,61.6 417.6,62.6 418.8,62.6 418.8,63.8 419.6,63.8 419.6,64.6 421.7,64.6 421.7,66.7 423.1,66.7 423.1,68.1 425.0,68.1 425.0,70.0 427.1,70.0 427.1,71.7 428.9,71.7 428.9,73.3 431.1,73.3 431.1,75.1 432.4,75.1 432.4,76.2 434.4,76.2 434.4,77.2 435.8,77.2 435.8,78.0 438.0,78.0 438.0,79.1 440.1,79.1 440.1,80.1 441.0,80.1 441.0,80.5 441.9,80.5 441.9,81.0 442.9,81.0 442.9,81.5 445.2,81.5 445.2,82.6 446.6,82.6 446.6,83.3 448.3,83.3 448.3,84.2 449.5,84.2 449.5,84.8 451.0,84.8 451.0,85.5 452.3,85.5 452.3,86.2 453.6,86.2 453.6,86.7 455.2,86.7 455.2,87.2 456.8,87.2 456.8,87.8 459.0,87.8 459.0,88.5 460.8,88.5 460.8,89.1 462.9,89.1 462.9,89.3 465.0,89.3 465.0,89.4 467.3,89.4 467.3,89.7 469.1,89.7 469.1,90.2 470.0,90.2 470.0,90.5 472.1,90.5 472.1,91.0 474.4,91.0 474.4,91.6 476.5,91.6 476.5,92.0 478.1,92.0 478.1,92.2 480.0,92.2 480.0,92.4 481.0,92.4 481.0,92.5 483.0,92.5 483.0,92.8 484.6,92.8 484.6,93.0 485.8,93.0 485.8,93.2 486.6,93.2 486.6,93.3 488.7,93.3 488.7,93.8 491.0,93.8 491.0,94.3 491.8,94.3 491.8,94.4 493.8,94.4 493.8,94.9 495.1,94.9 495.1,95.1 496.1,95.1 496.1,95.3 496.8,95.3 496.8,95.5" fill="none" stroke="#8a8a8a" stroke-width="1.05" stroke-linejoin="miter"/>
<path d="M388.0 47.8h0M390.4 49.2h0M393.1 50.6h0M395.1 51.4h0M398.3 53.2h0M401.1 54.1h0M403.0 55.1h0M405.1 56.2h0M408.7 57.3h0M411.0 58.8h0M414.2 60.7h0M416.7 61.8h0M419.0 64.1h0M421.3 66.2h0M423.9 68.9h0M426.5 71.5h0M428.5 72.7h0M432.4 76.4h0M436.4 78.2h0M440.4 80.4h0M442.5 81.4h0M446.2 83.2h0M449.1 84.5h0M451.5 85.7h0M453.3 86.6h0M455.6 87.5h0M457.3 88.2h0M460.7 89.3h0M464.4 89.6h0M467.5 89.5h0M470.9 90.5h0M473.3 91.4h0M476.1 91.9h0M480.0 92.5h0M482.5 92.6h0M486.2 93.2h0M489.7 93.9h0M491.8 94.5h0M495.4 95.0h0" stroke="#8a8a8a" stroke-width="1.90" stroke-linecap="round" fill="none"/>
<polyline points="381.3,45.5 383.2,45.5 383.2,45.7 385.3,45.7 385.3,45.9 386.1,45.9 386.1,46.1 387.8,46.1 387.8,46.5 388.6,46.5 388.6,46.7 390.4,46.7 390.4,47.2 391.6,47.2 391.6,47.7 393.7,47.7 393.7,48.5 396.0,48.5 396.0,49.5 397.5,49.5 397.5,50.2 399.8,50.2 399.8,51.2 401.0,51.2 401.0,51.8 401.8,51.8 401.8,52.3 403.5,52.3 403.5,53.2 404.2,53.2 404.2,53.6 405.3,53.6 405.3,54.2 406.6,54.2 406.6,55.0 408.3,55.0 408.3,56.0 409.2,56.0 409.2,56.5 410.0,56.5 410.0,57.0 412.1,57.0 412.1,57.8 413.3,57.8 413.3,58.3 415.5,58.3 415.5,59.2 417.7,59.2 417.7,60.1 419.0,60.1 419.0,60.7 420.4,60.7 420.4,61.5 421.9,61.5 421.9,62.2 423.7,62.2 423.7,63.1 425.3,63.1 425.3,64.0 426.9,64.0 426.9,64.7 428.6,64.7 428.6,65.6 430.8,65.6 430.8,66.7 432.3,66.7 432.3,67.4 433.7,67.4 433.7,68.0 435.6,68.0 435.6,68.7 436.6,68.7 436.6,69.1 437.8,69.1 437.8,69.5 440.1,69.5 440.1,70.4 441.6,70.4 441.6,71.0 443.2,71.0 443.2,71.5 443.9,71.5 443.9,71.7 445.3,71.7 445.3,72.1 446.9,72.1 446.9,72.6 447.6,72.6 447.6,72.8 449.3,72.8 449.3,73.4 451.0,73.4 451.0,73.9 451.8,73.9 451.8,74.1 453.5,74.1 453.5,74.6 455.0,74.6 455.0,75.1 456.8,75.1 456.8,75.7 458.0,75.7 458.0,76.1 459.9,76.1 459.9,76.7 461.8,76.7 461.8,77.3 462.5,77.3 462.5,77.5 463.3,77.5 463.3,77.6 465.1,77.6 465.1,78.0 467.3,78.0 467.3,78.4 468.4,78.4 468.4,78.6 469.8,78.6 469.8,78.9 471.5,78.9 471.5,79.2 472.7,79.2 472.7,79.4 474.0,79.4 474.0,79.6 475.2,79.6 475.2,79.9 476.5,79.9 476.5,80.3 478.1,80.3 478.1,80.9 479.3,80.9 479.3,81.3 480.6,81.3 480.6,81.7 482.5,81.7 482.5,82.4 483.3,82.4 483.3,82.4 484.9,82.4 484.9,82.4 486.8,82.4 486.8,82.5 488.0,82.5 488.0,82.5 489.0,82.5 489.0,82.5 491.0,82.5 491.0,82.6 492.1,82.6 492.1,82.6 493.1,82.6 493.1,82.9 494.5,82.9 494.5,83.5 496.3,83.5 496.3,84.4 496.8,84.4 496.8,84.6" fill="none" stroke="#141414" stroke-width="1.10" stroke-linejoin="miter"/>
<path d="M392.0 48.0h0M395.3 49.3h0M396.8 49.9h0M400.3 51.2h0M402.4 52.5h0M405.1 54.0h0M407.6 55.7h0M409.1 56.3h0M410.9 57.2h0M412.6 58.3h0M416.0 59.2h0M418.6 60.5h0M420.8 61.6h0M423.8 63.2h0M426.1 64.2h0M428.3 65.3h0M431.1 66.9h0M433.4 67.7h0M435.4 68.5h0M438.2 69.8h0M440.6 70.7h0M443.5 71.6h0M445.8 72.3h0M448.9 73.2h0M451.9 74.1h0M454.0 74.8h0M457.1 75.5h0M459.5 76.5h0M463.0 77.8h0M465.3 78.2h0M468.6 78.5h0M471.2 78.9h0M474.5 79.8h0M478.0 81.0h0M481.0 82.0h0M483.8 82.2h0M486.6 82.2h0M488.4 82.7h0M490.0 82.3h0M491.7 82.8h0M493.6 82.9h0" stroke="#141414" stroke-width="2.00" stroke-linecap="round" fill="none"/>
<text x="1.40" y="207.40" font-size="14.40" font-weight="bold" text-anchor="start" fill="#111">C</text>
<line x1="59.30" y1="228.10" x2="59.30" y2="353.40" stroke="#000" stroke-width="1.40"/>
<line x1="58.60" y1="352.70" x2="245.50" y2="352.70" stroke="#000" stroke-width="1.40"/>
<line x1="56.10" y1="347.10" x2="59.30" y2="347.10" stroke="#000" stroke-width="1.10"/>
<text x="55.60" y="349.40" font-size="6.50" font-weight="bold" text-anchor="end" fill="#111" stroke="#111" stroke-width="0.12">0</text>
<line x1="56.10" y1="323.42" x2="59.30" y2="323.42" stroke="#000" stroke-width="1.10"/>
<text x="55.60" y="325.72" font-size="6.50" font-weight="bold" text-anchor="end" fill="#111" stroke="#111" stroke-width="0.12">20</text>
<line x1="56.10" y1="299.74" x2="59.30" y2="299.74" stroke="#000" stroke-width="1.10"/>
<text x="55.60" y="302.04" font-size="6.50" font-weight="bold" text-anchor="end" fill="#111" stroke="#111" stroke-width="0.12">40</text>
<line x1="56.10" y1="276.06" x2="59.30" y2="276.06" stroke="#000" stroke-width="1.10"/>
<text x="55.60" y="278.36" font-size="6.50" font-weight="bold" text-anchor="end" fill="#111" stroke="#111" stroke-width="0.12">60</text>
<line x1="56.10" y1="252.38" x2="59.30" y2="252.38" stroke="#000" stroke-width="1.10"/>
<text x="55.60" y="254.68" font-size="6.50" font-weight="bold" text-anchor="end" fill="#111" stroke="#111" stroke-width="0.12">80</text>
<line x1="56.10" y1="228.70" x2="59.30" y2="228.70" stroke="#000" stroke-width="1.10"/>
<text x="55.60" y="231.00" font-size="6.50" font-weight="bold" text-anchor="end" fill="#111" stroke="#111" stroke-width="0.12">100</text>
<line x1="74.60" y1="352.70" x2="74.60" y2="355.90" stroke="#000" stroke-width="1.00"/>
<text x="74.60" y="363.40" font-size="7.00" font-weight="bold" text-anchor="middle" fill="#111" letter-spacing="0.25">NCR1</text>
<line x1="105.70" y1="352.70" x2="105.70" y2="355.90" stroke="#000" stroke-width="1.00"/>
<text x="105.70" y="363.40" font-size="7.00" font-weight="bold" text-anchor="middle" fill="#111" letter-spacing="0.25">CD4</text>
<line x1="136.80" y1="352.70" x2="136.80" y2="355.90" stroke="#000" stroke-width="1.00"/>
<text x="136.80" y="363.40" font-size="7.00" font-weight="bold" text-anchor="middle" fill="#111" letter-spacing="0.25">CD8A</text>
<line x1="167.90" y1="352.70" x2="167.90" y2="355.90" stroke="#000" stroke-width="1.00"/>
<text x="167.90" y="363.40" font-size="7.00" font-weight="bold" text-anchor="middle" fill="#111" letter-spacing="0.25">CD8B</text>
<line x1="199.00" y1="352.70" x2="199.00" y2="355.90" stroke="#000" stroke-width="1.00"/>
<text x="199.00" y="363.40" font-size="7.00" font-weight="bold" text-anchor="middle" fill="#111" letter-spacing="0.25">FOXP3</text>
<line x1="230.10" y1="352.70" x2="230.10" y2="355.90" stroke="#000" stroke-width="1.00"/>
<text x="230.10" y="363.40" font-size="7.00" font-weight="bold" text-anchor="middle" fill="#111" letter-spacing="0.25">CD14</text>
<text x="0" y="0" transform="translate(38.40 290.30) rotate(-90.0)" font-size="7.60" font-weight="bold" text-anchor="middle" fill="#111" textLength="116.5" lengthAdjust="spacingAndGlyphs" stroke="#111" stroke-width="0.12">mRNA Expression (RSEM units)</text>
<circle cx="68.3" cy="347.1" r="2.10" fill="#fff" stroke="#3a3a3a" stroke-width="0.9"/>
<circle cx="68.1" cy="346.8" r="2.10" fill="#fff" stroke="#3a3a3a" stroke-width="0.9"/>
<circle cx="69.7" cy="346.5" r="2.10" fill="#fff" stroke="#3a3a3a" stroke-width="0.9"/>
<circle cx="68.4" cy="346.4" r="2.10" fill="#fff" stroke="#3a3a3a" stroke-width="0.9"/>
<circle cx="68.9" cy="345.9" r="2.10" fill="#fff" stroke="#3a3a3a" stroke-width="0.9"/>
<circle cx="68.3" cy="345.8" r="2.10" fill="#fff" stroke="#3a3a3a" stroke-width="0.9"/>
<circle cx="69.0" cy="345.7" r="2.10" fill="#fff" stroke="#3a3a3a" stroke-width="0.9"/>
<circle cx="68.1" cy="345.6" r="2.10" fill="#fff" stroke="#3a3a3a" stroke-width="0.9"/>
<circle cx="67.4" cy="345.6" r="2.10" fill="#fff" stroke="#3a3a3a" stroke-width="0.9"/>
<circle cx="70.4" cy="345.5" r="2.10" fill="#fff" stroke="#3a3a3a" stroke-width="0.9"/>
<circle cx="70.4" cy="345.4" r="2.10" fill="#fff" stroke="#3a3a3a" stroke-width="0.9"/>
<circle cx="69.7" cy="345.1" r="2.10" fill="#fff" stroke="#3a3a3a" stroke-width="0.9"/>
<circle cx="69.2" cy="344.8" r="2.10" fill="#fff" stroke="#3a3a3a" stroke-width="0.9"/>
<circle cx="67.5" cy="344.6" r="2.10" fill="#fff" stroke="#3a3a3a" stroke-width="0.9"/>
<circle cx="67.2" cy="344.6" r="2.10" fill="#fff" stroke="#3a3a3a" stroke-width="0.9"/>
<circle cx="67.4" cy="344.4" r="2.10" fill="#fff" stroke="#3a3a3a" stroke-width="0.9"/>
<circle cx="66.5" cy="344.4" r="2.10" fill="#fff" stroke="#3a3a3a" stroke-width="0.9"/>
<circle cx="69.4" cy="344.3" r="2.10" fill="#fff" stroke="#3a3a3a" stroke-width="0.9"/>
<circle cx="67.9" cy="344.2" r="2.10" fill="#fff" stroke="#3a3a3a" stroke-width="0.9"/>
<circle cx="69.8" cy="343.4" r="2.10" fill="#fff" stroke="#3a3a3a" stroke-width="0.9"/>
<circle cx="67.8" cy="343.1" r="2.10" fill="#fff" stroke="#3a3a3a" stroke-width="0.9"/>
<circle cx="70.2" cy="342.6" r="2.10" fill="#fff" stroke="#3a3a3a" stroke-width="0.9"/>
<circle cx="68.3" cy="340.1" r="2.10" fill="#fff" stroke="#3a3a3a" stroke-width="0.9"/>
<circle cx="69.8" cy="339.4" r="2.10" fill="#fff" stroke="#3a3a3a" stroke-width="0.9"/>
<circle cx="66.2" cy="338.3" r="2.10" fill="#fff" stroke="#3a3a3a" stroke-width="0.9"/>
<circle cx="67.1" cy="337.8" r="2.10" fill="#fff" stroke="#3a3a3a" stroke-width="0.9"/>
<circle cx="70.0" cy="337.3" r="2.10" fill="#fff" stroke="#3a3a3a" stroke-width="0.9"/>
<circle cx="68.3" cy="333.6" r="2.10" fill="#fff" stroke="#3a3a3a" stroke-width="0.9"/>
<circle cx="68.2" cy="333.4" r="2.10" fill="#fff" stroke="#3a3a3a" stroke-width="0.9"/>
<circle cx="70.3" cy="332.9" r="2.10" fill="#fff" stroke="#3a3a3a" stroke-width="0.9"/>
<circle cx="99.4" cy="293.8" r="2.10" fill="#fff" stroke="#3a3a3a" stroke-width="0.9"/>
<circle cx="101.7" cy="292.1" r="2.10" fill="#fff" stroke="#3a3a3a" stroke-width="0.9"/>
<circle cx="97.2" cy="291.8" r="2.10" fill="#fff" stroke="#3a3a3a" stroke-width="0.9"/>
<circle cx="98.0" cy="291.0" r="2.10" fill="#fff" stroke="#3a3a3a" stroke-width="0.9"/>
<circle cx="102.0" cy="290.4" r="2.10" fill="#fff" stroke="#3a3a3a" stroke-width="0.9"/>
<circle cx="97.6" cy="288.8" r="2.10" fill="#fff" stroke="#3a3a3a" stroke-width="0.9"/>
<circle cx="99.9" cy="286.8" r="2.10" fill="#fff" stroke="#3a3a3a" stroke-width="0.9"/>
<circle cx="99.4" cy="283.6" r="2.10" fill="#fff" stroke="#3a3a3a" stroke-width="0.9"/>
<circle cx="99.4" cy="279.6" r="2.10" fill="#fff" stroke="#3a3a3a" stroke-width="0.9"/>
<circle cx="99.4" cy="276.2" r="2.10" fill="#fff" stroke="#3a3a3a" stroke-width="0.9"/>
<circle cx="102.1" cy="275.2" r="2.10" fill="#fff" stroke="#3a3a3a" stroke-width="0.9"/>
<circle cx="96.7" cy="275.1" r="2.10" fill="#fff" stroke="#3a3a3a" stroke-width="0.9"/>
<circle cx="96.4" cy="274.5" r="2.10" fill="#fff" stroke="#3a3a3a" stroke-width="0.9"/>
<circle cx="98.0" cy="273.7" r="2.10" fill="#fff" stroke="#3a3a3a" stroke-width="0.9"/>
<circle cx="99.1" cy="272.9" r="2.10" fill="#fff" stroke="#3a3a3a" stroke-width="0.9"/>
<circle cx="101.7" cy="271.5" r="2.10" fill="#fff" stroke="#3a3a3a" stroke-width="0.9"/>
<circle cx="99.4" cy="269.3" r="2.10" fill="#fff" stroke="#3a3a3a" stroke-width="0.9"/>
<circle cx="102.1" cy="268.1" r="2.10" fill="#fff" stroke="#3a3a3a" stroke-width="0.9"/>
<circle cx="96.7" cy="267.9" r="2.10" fill="#fff" stroke="#3a3a3a" stroke-width="0.9"/>
<circle cx="96.7" cy="267.4" r="2.10" fill="#fff" stroke="#3a3a3a" stroke-width="0.9"/>
<circle cx="99.4" cy="266.5" r="2.10" fill="#fff" stroke="#3a3a3a" stroke-width="0.9"/>
<circle cx="99.4" cy="259.0" r="2.10" fill="#fff" stroke="#3a3a3a" stroke-width="0.9"/>
<circle cx="102.1" cy="257.9" r="2.10" fill="#fff" stroke="#3a3a3a" stroke-width="0.9"/>
<circle cx="97.2" cy="257.4" r="2.10" fill="#fff" stroke="#3a3a3a" stroke-width="0.9"/>
<circle cx="99.4" cy="254.5" r="2.10" fill="#fff" stroke="#3a3a3a" stroke-width="0.9"/>
<circle cx="97.4" cy="254.0" r="2.10" fill="#fff" stroke="#3a3a3a" stroke-width="0.9"/>
<circle cx="99.4" cy="250.7" r="2.10" fill="#fff" stroke="#3a3a3a" stroke-width="0.9"/>
<circle cx="102.1" cy="249.7" r="2.10" fill="#fff" stroke="#3a3a3a" stroke-width="0.9"/>
<circle cx="99.4" cy="246.0" r="2.10" fill="#fff" stroke="#3a3a3a" stroke-width="0.9"/>
<circle cx="101.7" cy="244.1" r="2.10" fill="#fff" stroke="#3a3a3a" stroke-width="0.9"/>
<circle cx="99.4" cy="235.8" r="2.10" fill="#fff" stroke="#3a3a3a" stroke-width="0.9"/>
<circle cx="130.5" cy="322.2" r="2.10" fill="#fff" stroke="#3a3a3a" stroke-width="0.9"/>
<circle cx="133.7" cy="321.6" r="2.10" fill="#fff" stroke="#3a3a3a" stroke-width="0.9"/>
<circle cx="130.5" cy="318.7" r="2.10" fill="#fff" stroke="#3a3a3a" stroke-width="0.9"/>
<circle cx="133.2" cy="317.7" r="2.10" fill="#fff" stroke="#3a3a3a" stroke-width="0.9"/>
<circle cx="130.5" cy="315.5" r="2.10" fill="#fff" stroke="#3a3a3a" stroke-width="0.9"/>
<circle cx="127.3" cy="315.1" r="2.10" fill="#fff" stroke="#3a3a3a" stroke-width="0.9"/>
<circle cx="133.0" cy="315.0" r="2.10" fill="#fff" stroke="#3a3a3a" stroke-width="0.9"/>
<circle cx="129.6" cy="312.9" r="2.10" fill="#fff" stroke="#3a3a3a" stroke-width="0.9"/>
<circle cx="132.3" cy="312.0" r="2.10" fill="#fff" stroke="#3a3a3a" stroke-width="0.9"/>
<circle cx="129.4" cy="311.5" r="2.10" fill="#fff" stroke="#3a3a3a" stroke-width="0.9"/>
<circle cx="131.4" cy="309.3" r="2.10" fill="#fff" stroke="#3a3a3a" stroke-width="0.9"/>
<circle cx="128.7" cy="308.4" r="2.10" fill="#fff" stroke="#3a3a3a" stroke-width="0.9"/>
<circle cx="133.7" cy="307.3" r="2.10" fill="#fff" stroke="#3a3a3a" stroke-width="0.9"/>
<circle cx="130.5" cy="301.9" r="2.10" fill="#fff" stroke="#3a3a3a" stroke-width="0.9"/>
<circle cx="133.2" cy="301.2" r="2.10" fill="#fff" stroke="#3a3a3a" stroke-width="0.9"/>
<circle cx="127.8" cy="300.8" r="2.10" fill="#fff" stroke="#3a3a3a" stroke-width="0.9"/>
<circle cx="130.5" cy="298.1" r="2.10" fill="#fff" stroke="#3a3a3a" stroke-width="0.9"/>
<circle cx="133.2" cy="297.4" r="2.10" fill="#fff" stroke="#3a3a3a" stroke-width="0.9"/>
<circle cx="127.8" cy="296.8" r="2.10" fill="#fff" stroke="#3a3a3a" stroke-width="0.9"/>
<circle cx="131.6" cy="296.2" r="2.10" fill="#fff" stroke="#3a3a3a" stroke-width="0.9"/>
<circle cx="128.6" cy="295.1" r="2.10" fill="#fff" stroke="#3a3a3a" stroke-width="0.9"/>
<circle cx="130.5" cy="291.5" r="2.10" fill="#fff" stroke="#3a3a3a" stroke-width="0.9"/>
<circle cx="133.2" cy="290.0" r="2.10" fill="#fff" stroke="#3a3a3a" stroke-width="0.9"/>
<circle cx="130.5" cy="286.7" r="2.10" fill="#fff" stroke="#3a3a3a" stroke-width="0.9"/>
<circle cx="133.2" cy="285.4" r="2.10" fill="#fff" stroke="#3a3a3a" stroke-width="0.9"/>
<circle cx="128.2" cy="284.9" r="2.10" fill="#fff" stroke="#3a3a3a" stroke-width="0.9"/>
<circle cx="130.1" cy="284.3" r="2.10" fill="#fff" stroke="#3a3a3a" stroke-width="0.9"/>
<circle cx="130.5" cy="277.9" r="2.10" fill="#fff" stroke="#3a3a3a" stroke-width="0.9"/>
<circle cx="133.7" cy="277.4" r="2.10" fill="#fff" stroke="#3a3a3a" stroke-width="0.9"/>
<circle cx="130.5" cy="274.3" r="2.10" fill="#fff" stroke="#3a3a3a" stroke-width="0.9"/>
<circle cx="161.6" cy="329.3" r="2.10" fill="#fff" stroke="#3a3a3a" stroke-width="0.9"/>
<circle cx="161.6" cy="326.6" r="2.10" fill="#fff" stroke="#3a3a3a" stroke-width="0.9"/>
<circle cx="160.3" cy="326.0" r="2.10" fill="#fff" stroke="#3a3a3a" stroke-width="0.9"/>
<circle cx="162.0" cy="323.7" r="2.10" fill="#fff" stroke="#3a3a3a" stroke-width="0.9"/>
<circle cx="160.2" cy="321.5" r="2.10" fill="#fff" stroke="#3a3a3a" stroke-width="0.9"/>
<circle cx="163.8" cy="321.4" r="2.10" fill="#fff" stroke="#3a3a3a" stroke-width="0.9"/>
<circle cx="160.7" cy="319.7" r="2.10" fill="#fff" stroke="#3a3a3a" stroke-width="0.9"/>
<circle cx="162.7" cy="318.9" r="2.10" fill="#fff" stroke="#3a3a3a" stroke-width="0.9"/>
<circle cx="161.7" cy="318.0" r="2.10" fill="#fff" stroke="#3a3a3a" stroke-width="0.9"/>
<circle cx="162.2" cy="317.9" r="2.10" fill="#fff" stroke="#3a3a3a" stroke-width="0.9"/>
<circle cx="158.9" cy="317.2" r="2.10" fill="#fff" stroke="#3a3a3a" stroke-width="0.9"/>
<circle cx="163.0" cy="317.0" r="2.10" fill="#fff" stroke="#3a3a3a" stroke-width="0.9"/>
<circle cx="161.0" cy="317.0" r="2.10" fill="#fff" stroke="#3a3a3a" stroke-width="0.9"/>
<circle cx="163.2" cy="316.9" r="2.10" fill="#fff" stroke="#3a3a3a" stroke-width="0.9"/>
<circle cx="163.9" cy="315.4" r="2.10" fill="#fff" stroke="#3a3a3a" stroke-width="0.9"/>
<circle cx="159.3" cy="315.4" r="2.10" fill="#fff" stroke="#3a3a3a" stroke-width="0.9"/>
<circle cx="164.0" cy="315.1" r="2.10" fill="#fff" stroke="#3a3a3a" stroke-width="0.9"/>
<circle cx="161.6" cy="311.7" r="2.10" fill="#fff" stroke="#3a3a3a" stroke-width="0.9"/>
<circle cx="162.8" cy="311.6" r="2.10" fill="#fff" stroke="#3a3a3a" stroke-width="0.9"/>
<circle cx="159.8" cy="309.4" r="2.10" fill="#fff" stroke="#3a3a3a" stroke-width="0.9"/>
<circle cx="163.8" cy="309.0" r="2.10" fill="#fff" stroke="#3a3a3a" stroke-width="0.9"/>
<circle cx="159.5" cy="308.6" r="2.10" fill="#fff" stroke="#3a3a3a" stroke-width="0.9"/>
<circle cx="161.3" cy="308.1" r="2.10" fill="#fff" stroke="#3a3a3a" stroke-width="0.9"/>
<circle cx="162.3" cy="306.7" r="2.10" fill="#fff" stroke="#3a3a3a" stroke-width="0.9"/>
<circle cx="160.7" cy="304.3" r="2.10" fill="#fff" stroke="#3a3a3a" stroke-width="0.9"/>
<circle cx="163.4" cy="303.3" r="2.10" fill="#fff" stroke="#3a3a3a" stroke-width="0.9"/>
<circle cx="192.7" cy="289.3" r="2.10" fill="#fff" stroke="#3a3a3a" stroke-width="0.9"/>
<circle cx="194.0" cy="286.7" r="2.10" fill="#fff" stroke="#3a3a3a" stroke-width="0.9"/>
<circle cx="190.9" cy="286.6" r="2.10" fill="#fff" stroke="#3a3a3a" stroke-width="0.9"/>
<circle cx="192.7" cy="282.7" r="2.10" fill="#fff" stroke="#3a3a3a" stroke-width="0.9"/>
<circle cx="192.7" cy="278.5" r="2.10" fill="#fff" stroke="#3a3a3a" stroke-width="0.9"/>
<circle cx="195.4" cy="277.1" r="2.10" fill="#fff" stroke="#3a3a3a" stroke-width="0.9"/>
<circle cx="192.7" cy="275.3" r="2.10" fill="#fff" stroke="#3a3a3a" stroke-width="0.9"/>
<circle cx="193.6" cy="272.6" r="2.10" fill="#fff" stroke="#3a3a3a" stroke-width="0.9"/>
<circle cx="190.9" cy="271.5" r="2.10" fill="#fff" stroke="#3a3a3a" stroke-width="0.9"/>
<circle cx="194.5" cy="271.3" r="2.10" fill="#fff" stroke="#3a3a3a" stroke-width="0.9"/>
<circle cx="193.1" cy="270.4" r="2.10" fill="#fff" stroke="#3a3a3a" stroke-width="0.9"/>
<circle cx="192.7" cy="266.8" r="2.10" fill="#fff" stroke="#3a3a3a" stroke-width="0.9"/>
<circle cx="194.9" cy="264.7" r="2.10" fill="#fff" stroke="#3a3a3a" stroke-width="0.9"/>
<circle cx="191.8" cy="264.1" r="2.10" fill="#fff" stroke="#3a3a3a" stroke-width="0.9"/>
<circle cx="192.6" cy="262.2" r="2.10" fill="#fff" stroke="#3a3a3a" stroke-width="0.9"/>
<circle cx="192.7" cy="258.9" r="2.10" fill="#fff" stroke="#3a3a3a" stroke-width="0.9"/>
<circle cx="194.9" cy="257.2" r="2.10" fill="#fff" stroke="#3a3a3a" stroke-width="0.9"/>
<circle cx="192.7" cy="253.8" r="2.10" fill="#fff" stroke="#3a3a3a" stroke-width="0.9"/>
<circle cx="193.8" cy="253.7" r="2.10" fill="#fff" stroke="#3a3a3a" stroke-width="0.9"/>
<circle cx="192.7" cy="248.9" r="2.10" fill="#fff" stroke="#3a3a3a" stroke-width="0.9"/>
<circle cx="192.7" cy="246.0" r="2.10" fill="#fff" stroke="#3a3a3a" stroke-width="0.9"/>
<circle cx="190.1" cy="245.6" r="2.10" fill="#fff" stroke="#3a3a3a" stroke-width="0.9"/>
<circle cx="192.9" cy="245.4" r="2.10" fill="#fff" stroke="#3a3a3a" stroke-width="0.9"/>
<circle cx="192.2" cy="245.1" r="2.10" fill="#fff" stroke="#3a3a3a" stroke-width="0.9"/>
<circle cx="195.4" cy="244.0" r="2.10" fill="#fff" stroke="#3a3a3a" stroke-width="0.9"/>
<circle cx="195.4" cy="243.0" r="2.10" fill="#fff" stroke="#3a3a3a" stroke-width="0.9"/>
<circle cx="192.7" cy="235.6" r="2.10" fill="#fff" stroke="#3a3a3a" stroke-width="0.9"/>
<circle cx="195.2" cy="235.4" r="2.10" fill="#fff" stroke="#3a3a3a" stroke-width="0.9"/>
<circle cx="190.4" cy="233.8" r="2.10" fill="#fff" stroke="#3a3a3a" stroke-width="0.9"/>
<circle cx="192.7" cy="231.5" r="2.10" fill="#fff" stroke="#3a3a3a" stroke-width="0.9"/>
<circle cx="191.3" cy="231.5" r="2.10" fill="#fff" stroke="#3a3a3a" stroke-width="0.9"/>
<circle cx="195.4" cy="229.9" r="2.10" fill="#fff" stroke="#3a3a3a" stroke-width="0.9"/>
<circle cx="223.8" cy="337.7" r="2.10" fill="#fff" stroke="#3a3a3a" stroke-width="0.9"/>
<circle cx="222.2" cy="337.3" r="2.10" fill="#fff" stroke="#3a3a3a" stroke-width="0.9"/>
<circle cx="224.0" cy="335.4" r="2.10" fill="#fff" stroke="#3a3a3a" stroke-width="0.9"/>
<circle cx="223.9" cy="334.5" r="2.10" fill="#fff" stroke="#3a3a3a" stroke-width="0.9"/>
<circle cx="224.0" cy="333.1" r="2.10" fill="#fff" stroke="#3a3a3a" stroke-width="0.9"/>
<circle cx="222.6" cy="332.1" r="2.10" fill="#fff" stroke="#3a3a3a" stroke-width="0.9"/>
<circle cx="222.7" cy="330.6" r="2.10" fill="#fff" stroke="#3a3a3a" stroke-width="0.9"/>
<circle cx="223.8" cy="323.8" r="2.10" fill="#fff" stroke="#3a3a3a" stroke-width="0.9"/>
<circle cx="222.8" cy="323.5" r="2.10" fill="#fff" stroke="#3a3a3a" stroke-width="0.9"/>
<circle cx="223.8" cy="320.7" r="2.10" fill="#fff" stroke="#3a3a3a" stroke-width="0.9"/>
<circle cx="225.0" cy="320.3" r="2.10" fill="#fff" stroke="#3a3a3a" stroke-width="0.9"/>
<circle cx="225.5" cy="320.0" r="2.10" fill="#fff" stroke="#3a3a3a" stroke-width="0.9"/>
<circle cx="225.3" cy="318.6" r="2.10" fill="#fff" stroke="#3a3a3a" stroke-width="0.9"/>
<circle cx="222.4" cy="318.4" r="2.10" fill="#fff" stroke="#3a3a3a" stroke-width="0.9"/>
<circle cx="222.3" cy="318.0" r="2.10" fill="#fff" stroke="#3a3a3a" stroke-width="0.9"/>
<circle cx="225.3" cy="316.8" r="2.10" fill="#fff" stroke="#3a3a3a" stroke-width="0.9"/>
<circle cx="223.7" cy="316.2" r="2.10" fill="#fff" stroke="#3a3a3a" stroke-width="0.9"/>
<circle cx="224.7" cy="315.7" r="2.10" fill="#fff" stroke="#3a3a3a" stroke-width="0.9"/>
<circle cx="223.2" cy="315.6" r="2.10" fill="#fff" stroke="#3a3a3a" stroke-width="0.9"/>
<circle cx="223.7" cy="314.5" r="2.10" fill="#fff" stroke="#3a3a3a" stroke-width="0.9"/>
<circle cx="223.9" cy="314.3" r="2.10" fill="#fff" stroke="#3a3a3a" stroke-width="0.9"/>
<circle cx="223.8" cy="308.8" r="2.10" fill="#fff" stroke="#3a3a3a" stroke-width="0.9"/>
<circle cx="223.6" cy="308.7" r="2.10" fill="#fff" stroke="#3a3a3a" stroke-width="0.9"/>
<circle cx="223.8" cy="305.0" r="2.10" fill="#fff" stroke="#3a3a3a" stroke-width="0.9"/>
<circle cx="224.1" cy="305.0" r="2.10" fill="#fff" stroke="#3a3a3a" stroke-width="0.9"/>
<circle cx="222.1" cy="305.0" r="2.10" fill="#fff" stroke="#3a3a3a" stroke-width="0.9"/>
<circle cx="224.5" cy="303.4" r="2.10" fill="#fff" stroke="#3a3a3a" stroke-width="0.9"/>
<circle cx="223.8" cy="299.9" r="2.10" fill="#fff" stroke="#3a3a3a" stroke-width="0.9"/>
<circle cx="225.0" cy="298.5" r="2.10" fill="#fff" stroke="#3a3a3a" stroke-width="0.9"/>
<circle cx="222.7" cy="297.4" r="2.10" fill="#fff" stroke="#3a3a3a" stroke-width="0.9"/>
<circle cx="223.8" cy="290.6" r="2.10" fill="#fff" stroke="#3a3a3a" stroke-width="0.9"/>
<circle cx="80.9" cy="346.7" r="2.10" fill="#5a5a5a" stroke="#101010" stroke-width="0.9"/>
<circle cx="82.9" cy="346.2" r="2.10" fill="#5a5a5a" stroke="#101010" stroke-width="0.9"/>
<circle cx="79.1" cy="344.4" r="2.10" fill="#5a5a5a" stroke="#101010" stroke-width="0.9"/>
<circle cx="79.4" cy="344.2" r="2.10" fill="#5a5a5a" stroke="#101010" stroke-width="0.9"/>
<circle cx="80.4" cy="343.9" r="2.10" fill="#5a5a5a" stroke="#101010" stroke-width="0.9"/>
<circle cx="83.1" cy="342.6" r="2.10" fill="#5a5a5a" stroke="#101010" stroke-width="0.9"/>
<circle cx="80.9" cy="340.4" r="2.10" fill="#5a5a5a" stroke="#101010" stroke-width="0.9"/>
<circle cx="82.7" cy="339.9" r="2.10" fill="#5a5a5a" stroke="#101010" stroke-width="0.9"/>
<circle cx="81.6" cy="339.4" r="2.10" fill="#5a5a5a" stroke="#101010" stroke-width="0.9"/>
<circle cx="78.8" cy="339.2" r="2.10" fill="#5a5a5a" stroke="#101010" stroke-width="0.9"/>
<circle cx="83.4" cy="338.2" r="2.10" fill="#5a5a5a" stroke="#101010" stroke-width="0.9"/>
<circle cx="79.4" cy="338.1" r="2.10" fill="#5a5a5a" stroke="#101010" stroke-width="0.9"/>
<circle cx="79.6" cy="338.1" r="2.10" fill="#5a5a5a" stroke="#101010" stroke-width="0.9"/>
<circle cx="82.3" cy="338.0" r="2.10" fill="#5a5a5a" stroke="#101010" stroke-width="0.9"/>
<circle cx="80.0" cy="337.9" r="2.10" fill="#5a5a5a" stroke="#101010" stroke-width="0.9"/>
<circle cx="79.8" cy="337.0" r="2.10" fill="#5a5a5a" stroke="#101010" stroke-width="0.9"/>
<circle cx="78.7" cy="336.9" r="2.10" fill="#5a5a5a" stroke="#101010" stroke-width="0.9"/>
<circle cx="78.8" cy="336.6" r="2.10" fill="#5a5a5a" stroke="#101010" stroke-width="0.9"/>
<circle cx="81.3" cy="336.5" r="2.10" fill="#5a5a5a" stroke="#101010" stroke-width="0.9"/>
<circle cx="79.6" cy="336.3" r="2.10" fill="#5a5a5a" stroke="#101010" stroke-width="0.9"/>
<circle cx="81.4" cy="335.8" r="2.10" fill="#5a5a5a" stroke="#101010" stroke-width="0.9"/>
<circle cx="80.2" cy="335.5" r="2.10" fill="#5a5a5a" stroke="#101010" stroke-width="0.9"/>
<circle cx="80.7" cy="334.5" r="2.10" fill="#5a5a5a" stroke="#101010" stroke-width="0.9"/>
<circle cx="83.3" cy="334.2" r="2.10" fill="#5a5a5a" stroke="#101010" stroke-width="0.9"/>
<circle cx="80.8" cy="333.1" r="2.10" fill="#5a5a5a" stroke="#101010" stroke-width="0.9"/>
<circle cx="81.3" cy="332.3" r="2.10" fill="#5a5a5a" stroke="#101010" stroke-width="0.9"/>
<circle cx="78.6" cy="331.3" r="2.10" fill="#5a5a5a" stroke="#101010" stroke-width="0.9"/>
<circle cx="82.8" cy="330.6" r="2.10" fill="#5a5a5a" stroke="#101010" stroke-width="0.9"/>
<circle cx="80.4" cy="328.7" r="2.10" fill="#5a5a5a" stroke="#101010" stroke-width="0.9"/>
<circle cx="79.3" cy="328.2" r="2.10" fill="#5a5a5a" stroke="#101010" stroke-width="0.9"/>
<circle cx="112.0" cy="305.7" r="2.10" fill="#5a5a5a" stroke="#101010" stroke-width="0.9"/>
<circle cx="112.0" cy="298.6" r="2.10" fill="#5a5a5a" stroke="#101010" stroke-width="0.9"/>
<circle cx="112.0" cy="295.0" r="2.10" fill="#5a5a5a" stroke="#101010" stroke-width="0.9"/>
<circle cx="114.2" cy="293.8" r="2.10" fill="#5a5a5a" stroke="#101010" stroke-width="0.9"/>
<circle cx="112.0" cy="291.3" r="2.10" fill="#5a5a5a" stroke="#101010" stroke-width="0.9"/>
<circle cx="111.2" cy="290.7" r="2.10" fill="#5a5a5a" stroke="#101010" stroke-width="0.9"/>
<circle cx="112.0" cy="284.4" r="2.10" fill="#5a5a5a" stroke="#101010" stroke-width="0.9"/>
<circle cx="113.0" cy="284.1" r="2.10" fill="#5a5a5a" stroke="#101010" stroke-width="0.9"/>
<circle cx="114.1" cy="283.1" r="2.10" fill="#5a5a5a" stroke="#101010" stroke-width="0.9"/>
<circle cx="112.0" cy="280.8" r="2.10" fill="#5a5a5a" stroke="#101010" stroke-width="0.9"/>
<circle cx="113.9" cy="280.4" r="2.10" fill="#5a5a5a" stroke="#101010" stroke-width="0.9"/>
<circle cx="112.0" cy="274.6" r="2.10" fill="#5a5a5a" stroke="#101010" stroke-width="0.9"/>
<circle cx="111.6" cy="274.4" r="2.10" fill="#5a5a5a" stroke="#101010" stroke-width="0.9"/>
<circle cx="112.0" cy="269.0" r="2.10" fill="#5a5a5a" stroke="#101010" stroke-width="0.9"/>
<circle cx="113.5" cy="268.8" r="2.10" fill="#5a5a5a" stroke="#101010" stroke-width="0.9"/>
<circle cx="109.8" cy="267.0" r="2.10" fill="#5a5a5a" stroke="#101010" stroke-width="0.9"/>
<circle cx="113.9" cy="266.8" r="2.10" fill="#5a5a5a" stroke="#101010" stroke-width="0.9"/>
<circle cx="112.4" cy="266.4" r="2.10" fill="#5a5a5a" stroke="#101010" stroke-width="0.9"/>
<circle cx="112.6" cy="265.4" r="2.10" fill="#5a5a5a" stroke="#101010" stroke-width="0.9"/>
<circle cx="112.0" cy="259.6" r="2.10" fill="#5a5a5a" stroke="#101010" stroke-width="0.9"/>
<circle cx="112.0" cy="254.9" r="2.10" fill="#5a5a5a" stroke="#101010" stroke-width="0.9"/>
<circle cx="114.2" cy="253.0" r="2.10" fill="#5a5a5a" stroke="#101010" stroke-width="0.9"/>
<circle cx="112.0" cy="250.1" r="2.10" fill="#5a5a5a" stroke="#101010" stroke-width="0.9"/>
<circle cx="113.8" cy="247.9" r="2.10" fill="#5a5a5a" stroke="#101010" stroke-width="0.9"/>
<circle cx="111.1" cy="247.0" r="2.10" fill="#5a5a5a" stroke="#101010" stroke-width="0.9"/>
<circle cx="111.4" cy="246.8" r="2.10" fill="#5a5a5a" stroke="#101010" stroke-width="0.9"/>
<circle cx="112.4" cy="246.8" r="2.10" fill="#5a5a5a" stroke="#101010" stroke-width="0.9"/>
<circle cx="112.6" cy="244.9" r="2.10" fill="#5a5a5a" stroke="#101010" stroke-width="0.9"/>
<circle cx="112.0" cy="241.2" r="2.10" fill="#5a5a5a" stroke="#101010" stroke-width="0.9"/>
<circle cx="113.8" cy="238.9" r="2.10" fill="#5a5a5a" stroke="#101010" stroke-width="0.9"/>
<circle cx="111.1" cy="237.6" r="2.10" fill="#5a5a5a" stroke="#101010" stroke-width="0.9"/>
<circle cx="109.8" cy="237.0" r="2.10" fill="#5a5a5a" stroke="#101010" stroke-width="0.9"/>
<circle cx="143.1" cy="341.1" r="2.10" fill="#5a5a5a" stroke="#101010" stroke-width="0.9"/>
<circle cx="143.1" cy="331.4" r="2.10" fill="#5a5a5a" stroke="#101010" stroke-width="0.9"/>
<circle cx="143.1" cy="324.6" r="2.10" fill="#5a5a5a" stroke="#101010" stroke-width="0.9"/>
<circle cx="145.4" cy="322.8" r="2.10" fill="#5a5a5a" stroke="#101010" stroke-width="0.9"/>
<circle cx="142.2" cy="321.9" r="2.10" fill="#5a5a5a" stroke="#101010" stroke-width="0.9"/>
<circle cx="140.7" cy="321.0" r="2.10" fill="#5a5a5a" stroke="#101010" stroke-width="0.9"/>
<circle cx="144.5" cy="320.2" r="2.10" fill="#5a5a5a" stroke="#101010" stroke-width="0.9"/>
<circle cx="140.5" cy="319.9" r="2.10" fill="#5a5a5a" stroke="#101010" stroke-width="0.9"/>
<circle cx="145.2" cy="319.1" r="2.10" fill="#5a5a5a" stroke="#101010" stroke-width="0.9"/>
<circle cx="143.1" cy="316.7" r="2.10" fill="#5a5a5a" stroke="#101010" stroke-width="0.9"/>
<circle cx="143.1" cy="313.6" r="2.10" fill="#5a5a5a" stroke="#101010" stroke-width="0.9"/>
<circle cx="145.4" cy="311.6" r="2.10" fill="#5a5a5a" stroke="#101010" stroke-width="0.9"/>
<circle cx="143.1" cy="309.2" r="2.10" fill="#5a5a5a" stroke="#101010" stroke-width="0.9"/>
<circle cx="145.8" cy="307.8" r="2.10" fill="#5a5a5a" stroke="#101010" stroke-width="0.9"/>
<circle cx="143.1" cy="304.5" r="2.10" fill="#5a5a5a" stroke="#101010" stroke-width="0.9"/>
<circle cx="143.1" cy="300.0" r="2.10" fill="#5a5a5a" stroke="#101010" stroke-width="0.9"/>
<circle cx="145.8" cy="299.1" r="2.10" fill="#5a5a5a" stroke="#101010" stroke-width="0.9"/>
<circle cx="141.3" cy="297.7" r="2.10" fill="#5a5a5a" stroke="#101010" stroke-width="0.9"/>
<circle cx="140.5" cy="297.7" r="2.10" fill="#5a5a5a" stroke="#101010" stroke-width="0.9"/>
<circle cx="144.0" cy="296.8" r="2.10" fill="#5a5a5a" stroke="#101010" stroke-width="0.9"/>
<circle cx="142.2" cy="294.4" r="2.10" fill="#5a5a5a" stroke="#101010" stroke-width="0.9"/>
<circle cx="144.9" cy="293.5" r="2.10" fill="#5a5a5a" stroke="#101010" stroke-width="0.9"/>
<circle cx="144.3" cy="293.4" r="2.10" fill="#5a5a5a" stroke="#101010" stroke-width="0.9"/>
<circle cx="143.5" cy="292.4" r="2.10" fill="#5a5a5a" stroke="#101010" stroke-width="0.9"/>
<circle cx="143.1" cy="288.8" r="2.10" fill="#5a5a5a" stroke="#101010" stroke-width="0.9"/>
<circle cx="143.1" cy="282.7" r="2.10" fill="#5a5a5a" stroke="#101010" stroke-width="0.9"/>
<circle cx="143.1" cy="278.3" r="2.10" fill="#5a5a5a" stroke="#101010" stroke-width="0.9"/>
<circle cx="145.8" cy="277.2" r="2.10" fill="#5a5a5a" stroke="#101010" stroke-width="0.9"/>
<circle cx="143.1" cy="270.6" r="2.10" fill="#5a5a5a" stroke="#101010" stroke-width="0.9"/>
<circle cx="143.1" cy="266.1" r="2.10" fill="#5a5a5a" stroke="#101010" stroke-width="0.9"/>
<circle cx="143.1" cy="263.2" r="2.10" fill="#5a5a5a" stroke="#101010" stroke-width="0.9"/>
<circle cx="143.1" cy="241.0" r="2.10" fill="#5a5a5a" stroke="#101010" stroke-width="0.9"/>
<circle cx="174.2" cy="346.9" r="2.10" fill="#5a5a5a" stroke="#101010" stroke-width="0.9"/>
<circle cx="176.0" cy="344.7" r="2.10" fill="#5a5a5a" stroke="#101010" stroke-width="0.9"/>
<circle cx="174.2" cy="338.1" r="2.10" fill="#5a5a5a" stroke="#101010" stroke-width="0.9"/>
<circle cx="173.9" cy="336.7" r="2.10" fill="#5a5a5a" stroke="#101010" stroke-width="0.9"/>
<circle cx="174.5" cy="336.1" r="2.10" fill="#5a5a5a" stroke="#101010" stroke-width="0.9"/>
<circle cx="175.6" cy="335.5" r="2.10" fill="#5a5a5a" stroke="#101010" stroke-width="0.9"/>
<circle cx="172.0" cy="334.3" r="2.10" fill="#5a5a5a" stroke="#101010" stroke-width="0.9"/>
<circle cx="174.1" cy="333.9" r="2.10" fill="#5a5a5a" stroke="#101010" stroke-width="0.9"/>
<circle cx="171.7" cy="332.6" r="2.10" fill="#5a5a5a" stroke="#101010" stroke-width="0.9"/>
<circle cx="175.1" cy="331.3" r="2.10" fill="#5a5a5a" stroke="#101010" stroke-width="0.9"/>
<circle cx="175.8" cy="331.2" r="2.10" fill="#5a5a5a" stroke="#101010" stroke-width="0.9"/>
<circle cx="171.9" cy="329.9" r="2.10" fill="#5a5a5a" stroke="#101010" stroke-width="0.9"/>
<circle cx="174.2" cy="328.2" r="2.10" fill="#5a5a5a" stroke="#101010" stroke-width="0.9"/>
<circle cx="175.8" cy="326.8" r="2.10" fill="#5a5a5a" stroke="#101010" stroke-width="0.9"/>
<circle cx="174.2" cy="324.4" r="2.10" fill="#5a5a5a" stroke="#101010" stroke-width="0.9"/>
<circle cx="174.2" cy="321.5" r="2.10" fill="#5a5a5a" stroke="#101010" stroke-width="0.9"/>
<circle cx="176.5" cy="319.8" r="2.10" fill="#5a5a5a" stroke="#101010" stroke-width="0.9"/>
<circle cx="173.8" cy="318.3" r="2.10" fill="#5a5a5a" stroke="#101010" stroke-width="0.9"/>
<circle cx="172.5" cy="317.8" r="2.10" fill="#5a5a5a" stroke="#101010" stroke-width="0.9"/>
<circle cx="174.2" cy="314.7" r="2.10" fill="#5a5a5a" stroke="#101010" stroke-width="0.9"/>
<circle cx="174.2" cy="311.4" r="2.10" fill="#5a5a5a" stroke="#101010" stroke-width="0.9"/>
<circle cx="173.3" cy="309.9" r="2.10" fill="#5a5a5a" stroke="#101010" stroke-width="0.9"/>
<circle cx="176.0" cy="308.7" r="2.10" fill="#5a5a5a" stroke="#101010" stroke-width="0.9"/>
<circle cx="175.7" cy="307.8" r="2.10" fill="#5a5a5a" stroke="#101010" stroke-width="0.9"/>
<circle cx="172.3" cy="307.6" r="2.10" fill="#5a5a5a" stroke="#101010" stroke-width="0.9"/>
<circle cx="172.4" cy="306.2" r="2.10" fill="#5a5a5a" stroke="#101010" stroke-width="0.9"/>
<circle cx="174.3" cy="306.2" r="2.10" fill="#5a5a5a" stroke="#101010" stroke-width="0.9"/>
<circle cx="175.4" cy="305.4" r="2.10" fill="#5a5a5a" stroke="#101010" stroke-width="0.9"/>
<circle cx="174.2" cy="302.1" r="2.10" fill="#5a5a5a" stroke="#101010" stroke-width="0.9"/>
<circle cx="176.0" cy="301.8" r="2.10" fill="#5a5a5a" stroke="#101010" stroke-width="0.9"/>
<circle cx="174.2" cy="297.4" r="2.10" fill="#5a5a5a" stroke="#101010" stroke-width="0.9"/>
<circle cx="174.2" cy="272.0" r="2.10" fill="#5a5a5a" stroke="#101010" stroke-width="0.9"/>
<circle cx="205.3" cy="302.7" r="2.10" fill="#5a5a5a" stroke="#101010" stroke-width="0.9"/>
<circle cx="205.3" cy="282.0" r="2.10" fill="#5a5a5a" stroke="#101010" stroke-width="0.9"/>
<circle cx="205.3" cy="278.6" r="2.10" fill="#5a5a5a" stroke="#101010" stroke-width="0.9"/>
<circle cx="208.0" cy="277.7" r="2.10" fill="#5a5a5a" stroke="#101010" stroke-width="0.9"/>
<circle cx="205.3" cy="274.7" r="2.10" fill="#5a5a5a" stroke="#101010" stroke-width="0.9"/>
<circle cx="208.0" cy="273.5" r="2.10" fill="#5a5a5a" stroke="#101010" stroke-width="0.9"/>
<circle cx="205.3" cy="268.0" r="2.10" fill="#5a5a5a" stroke="#101010" stroke-width="0.9"/>
<circle cx="205.3" cy="263.5" r="2.10" fill="#5a5a5a" stroke="#101010" stroke-width="0.9"/>
<circle cx="203.4" cy="263.4" r="2.10" fill="#5a5a5a" stroke="#101010" stroke-width="0.9"/>
<circle cx="208.0" cy="262.2" r="2.10" fill="#5a5a5a" stroke="#101010" stroke-width="0.9"/>
<circle cx="205.3" cy="258.8" r="2.10" fill="#5a5a5a" stroke="#101010" stroke-width="0.9"/>
<circle cx="207.1" cy="256.4" r="2.10" fill="#5a5a5a" stroke="#101010" stroke-width="0.9"/>
<circle cx="204.4" cy="255.6" r="2.10" fill="#5a5a5a" stroke="#101010" stroke-width="0.9"/>
<circle cx="203.6" cy="255.5" r="2.10" fill="#5a5a5a" stroke="#101010" stroke-width="0.9"/>
<circle cx="206.0" cy="254.1" r="2.10" fill="#5a5a5a" stroke="#101010" stroke-width="0.9"/>
<circle cx="206.1" cy="254.0" r="2.10" fill="#5a5a5a" stroke="#101010" stroke-width="0.9"/>
<circle cx="204.0" cy="252.0" r="2.10" fill="#5a5a5a" stroke="#101010" stroke-width="0.9"/>
<circle cx="206.7" cy="250.7" r="2.10" fill="#5a5a5a" stroke="#101010" stroke-width="0.9"/>
<circle cx="205.5" cy="250.4" r="2.10" fill="#5a5a5a" stroke="#101010" stroke-width="0.9"/>
<circle cx="202.6" cy="249.3" r="2.10" fill="#5a5a5a" stroke="#101010" stroke-width="0.9"/>
<circle cx="207.3" cy="248.4" r="2.10" fill="#5a5a5a" stroke="#101010" stroke-width="0.9"/>
<circle cx="204.4" cy="247.2" r="2.10" fill="#5a5a5a" stroke="#101010" stroke-width="0.9"/>
<circle cx="205.9" cy="246.6" r="2.10" fill="#5a5a5a" stroke="#101010" stroke-width="0.9"/>
<circle cx="207.3" cy="246.2" r="2.10" fill="#5a5a5a" stroke="#101010" stroke-width="0.9"/>
<circle cx="203.8" cy="245.5" r="2.10" fill="#5a5a5a" stroke="#101010" stroke-width="0.9"/>
<circle cx="206.6" cy="245.0" r="2.10" fill="#5a5a5a" stroke="#101010" stroke-width="0.9"/>
<circle cx="207.0" cy="243.6" r="2.10" fill="#5a5a5a" stroke="#101010" stroke-width="0.9"/>
<circle cx="207.6" cy="243.2" r="2.10" fill="#5a5a5a" stroke="#101010" stroke-width="0.9"/>
<circle cx="204.3" cy="243.2" r="2.10" fill="#5a5a5a" stroke="#101010" stroke-width="0.9"/>
<circle cx="204.3" cy="241.3" r="2.10" fill="#5a5a5a" stroke="#101010" stroke-width="0.9"/>
<circle cx="206.7" cy="239.9" r="2.10" fill="#5a5a5a" stroke="#101010" stroke-width="0.9"/>
<circle cx="202.6" cy="238.9" r="2.10" fill="#5a5a5a" stroke="#101010" stroke-width="0.9"/>
<circle cx="205.3" cy="232.4" r="2.10" fill="#5a5a5a" stroke="#101010" stroke-width="0.9"/>
<circle cx="236.4" cy="329.7" r="2.10" fill="#5a5a5a" stroke="#101010" stroke-width="0.9"/>
<circle cx="236.4" cy="326.4" r="2.10" fill="#5a5a5a" stroke="#101010" stroke-width="0.9"/>
<circle cx="236.4" cy="321.6" r="2.10" fill="#5a5a5a" stroke="#101010" stroke-width="0.9"/>
<circle cx="238.2" cy="319.3" r="2.10" fill="#5a5a5a" stroke="#101010" stroke-width="0.9"/>
<circle cx="235.1" cy="318.7" r="2.10" fill="#5a5a5a" stroke="#101010" stroke-width="0.9"/>
<circle cx="235.9" cy="317.7" r="2.10" fill="#5a5a5a" stroke="#101010" stroke-width="0.9"/>
<circle cx="238.7" cy="316.6" r="2.10" fill="#5a5a5a" stroke="#101010" stroke-width="0.9"/>
<circle cx="237.6" cy="315.9" r="2.10" fill="#5a5a5a" stroke="#101010" stroke-width="0.9"/>
<circle cx="235.1" cy="314.7" r="2.10" fill="#5a5a5a" stroke="#101010" stroke-width="0.9"/>
<circle cx="234.2" cy="314.2" r="2.10" fill="#5a5a5a" stroke="#101010" stroke-width="0.9"/>
<circle cx="237.3" cy="312.7" r="2.10" fill="#5a5a5a" stroke="#101010" stroke-width="0.9"/>
<circle cx="235.6" cy="311.8" r="2.10" fill="#5a5a5a" stroke="#101010" stroke-width="0.9"/>
<circle cx="236.2" cy="311.0" r="2.10" fill="#5a5a5a" stroke="#101010" stroke-width="0.9"/>
<circle cx="233.9" cy="311.0" r="2.10" fill="#5a5a5a" stroke="#101010" stroke-width="0.9"/>
<circle cx="236.4" cy="308.1" r="2.10" fill="#5a5a5a" stroke="#101010" stroke-width="0.9"/>
<circle cx="235.6" cy="307.7" r="2.10" fill="#5a5a5a" stroke="#101010" stroke-width="0.9"/>
<circle cx="238.7" cy="306.2" r="2.10" fill="#5a5a5a" stroke="#101010" stroke-width="0.9"/>
<circle cx="236.4" cy="302.5" r="2.10" fill="#5a5a5a" stroke="#101010" stroke-width="0.9"/>
<circle cx="236.8" cy="299.8" r="2.10" fill="#5a5a5a" stroke="#101010" stroke-width="0.9"/>
<circle cx="234.6" cy="297.8" r="2.10" fill="#5a5a5a" stroke="#101010" stroke-width="0.9"/>
<circle cx="236.4" cy="293.7" r="2.10" fill="#5a5a5a" stroke="#101010" stroke-width="0.9"/>
<circle cx="237.1" cy="292.6" r="2.10" fill="#5a5a5a" stroke="#101010" stroke-width="0.9"/>
<circle cx="237.0" cy="292.1" r="2.10" fill="#5a5a5a" stroke="#101010" stroke-width="0.9"/>
<circle cx="234.2" cy="292.1" r="2.10" fill="#5a5a5a" stroke="#101010" stroke-width="0.9"/>
<circle cx="235.0" cy="291.8" r="2.10" fill="#5a5a5a" stroke="#101010" stroke-width="0.9"/>
<circle cx="238.7" cy="291.2" r="2.10" fill="#5a5a5a" stroke="#101010" stroke-width="0.9"/>
<circle cx="237.3" cy="291.0" r="2.10" fill="#5a5a5a" stroke="#101010" stroke-width="0.9"/>
<circle cx="235.6" cy="289.4" r="2.10" fill="#5a5a5a" stroke="#101010" stroke-width="0.9"/>
<circle cx="237.2" cy="289.0" r="2.10" fill="#5a5a5a" stroke="#101010" stroke-width="0.9"/>
<circle cx="236.8" cy="288.7" r="2.10" fill="#5a5a5a" stroke="#101010" stroke-width="0.9"/>
<circle cx="234.2" cy="286.9" r="2.10" fill="#5a5a5a" stroke="#101010" stroke-width="0.9"/>
<circle cx="238.2" cy="286.1" r="2.10" fill="#5a5a5a" stroke="#101010" stroke-width="0.9"/>
<circle cx="236.4" cy="276.1" r="2.10" fill="#5a5a5a" stroke="#101010" stroke-width="0.9"/>
<line x1="63.50" y1="344.50" x2="73.10" y2="344.50" stroke="#000" stroke-width="1.60"/>
<line x1="76.10" y1="337.63" x2="85.70" y2="337.63" stroke="#000" stroke-width="1.60"/>
<line x1="94.60" y1="272.51" x2="104.20" y2="272.51" stroke="#000" stroke-width="1.60"/>
<line x1="107.20" y1="266.59" x2="116.80" y2="266.59" stroke="#000" stroke-width="1.60"/>
<line x1="125.70" y1="300.92" x2="135.30" y2="300.92" stroke="#000" stroke-width="1.60"/>
<line x1="138.30" y1="302.70" x2="147.90" y2="302.70" stroke="#000" stroke-width="1.60"/>
<line x1="156.80" y1="316.91" x2="166.40" y2="316.91" stroke="#000" stroke-width="1.60"/>
<line x1="169.40" y1="322.24" x2="179.00" y2="322.24" stroke="#000" stroke-width="1.60"/>
<line x1="187.90" y1="257.47" x2="197.50" y2="257.47" stroke="#000" stroke-width="1.60"/>
<line x1="200.50" y1="251.79" x2="210.10" y2="251.79" stroke="#000" stroke-width="1.60"/>
<line x1="219.00" y1="316.91" x2="228.60" y2="316.91" stroke="#000" stroke-width="1.60"/>
<line x1="231.60" y1="306.13" x2="241.20" y2="306.13" stroke="#000" stroke-width="1.60"/>
<polyline points="69.3,326.0 69.3,217.8 80.1,217.8 80.1,318.4" fill="none" stroke="#444" stroke-width="1.00"/>
<polyline points="224.2,283.0 224.2,217.8 236.4,217.8 236.4,269.3" fill="none" stroke="#444" stroke-width="1.00"/>
<text x="74.60" y="215.90" font-size="12.00" font-weight="bold" text-anchor="middle" fill="#111" textLength="15.2" lengthAdjust="spacingAndGlyphs" stroke="#111" stroke-width="0.15">***</text>
<text x="230.30" y="215.90" font-size="12.00" font-weight="bold" text-anchor="middle" fill="#111" textLength="15.2" lengthAdjust="spacingAndGlyphs" stroke="#111" stroke-width="0.15">***</text>
<text x="277.70" y="207.30" font-size="14.40" font-weight="bold" text-anchor="start" fill="#111">D</text>
<line x1="308.00" y1="224.60" x2="308.00" y2="352.90" stroke="#000" stroke-width="1.40"/>
<line x1="307.30" y1="352.20" x2="435.50" y2="352.20" stroke="#000" stroke-width="1.40"/>
<line x1="304.80" y1="352.20" x2="308.00" y2="352.20" stroke="#000" stroke-width="1.10"/>
<text x="304.30" y="354.50" font-size="6.50" font-weight="bold" text-anchor="end" fill="#111" stroke="#111" stroke-width="0.12">0</text>
<line x1="304.80" y1="320.45" x2="308.00" y2="320.45" stroke="#000" stroke-width="1.10"/>
<text x="304.30" y="322.75" font-size="6.50" font-weight="bold" text-anchor="end" fill="#111" stroke="#111" stroke-width="0.12">20</text>
<line x1="304.80" y1="288.70" x2="308.00" y2="288.70" stroke="#000" stroke-width="1.10"/>
<text x="304.30" y="291.00" font-size="6.50" font-weight="bold" text-anchor="end" fill="#111" stroke="#111" stroke-width="0.12">40</text>
<line x1="304.80" y1="256.95" x2="308.00" y2="256.95" stroke="#000" stroke-width="1.10"/>
<text x="304.30" y="259.25" font-size="6.50" font-weight="bold" text-anchor="end" fill="#111" stroke="#111" stroke-width="0.12">60</text>
<line x1="304.80" y1="225.20" x2="308.00" y2="225.20" stroke="#000" stroke-width="1.10"/>
<text x="304.30" y="227.50" font-size="6.50" font-weight="bold" text-anchor="end" fill="#111" stroke="#111" stroke-width="0.12">80</text>
<line x1="329.30" y1="352.20" x2="329.30" y2="355.40" stroke="#000" stroke-width="1.00"/>
<text x="329.30" y="363.40" font-size="7.00" font-weight="bold" text-anchor="middle" fill="#111" letter-spacing="0.25">PDCD1</text>
<line x1="371.30" y1="352.20" x2="371.30" y2="355.40" stroke="#000" stroke-width="1.00"/>
<text x="371.30" y="363.40" font-size="7.00" font-weight="bold" text-anchor="middle" fill="#111" letter-spacing="0.25">HAVCR2</text>
<line x1="413.60" y1="352.20" x2="413.60" y2="355.40" stroke="#000" stroke-width="1.00"/>
<text x="413.60" y="363.40" font-size="7.00" font-weight="bold" text-anchor="middle" fill="#111" letter-spacing="0.25">CTLA4</text>
<text x="0" y="0" transform="translate(288.40 289.50) rotate(-90.0)" font-size="7.60" font-weight="bold" text-anchor="middle" fill="#111" textLength="116.5" lengthAdjust="spacingAndGlyphs" stroke="#111" stroke-width="0.12">mRNA Expression (RSEM units)</text>
<circle cx="321.3" cy="328.9" r="2.10" fill="#fff" stroke="#3a3a3a" stroke-width="0.9"/>
<circle cx="324.0" cy="327.6" r="2.10" fill="#fff" stroke="#3a3a3a" stroke-width="0.9"/>
<circle cx="319.1" cy="327.2" r="2.10" fill="#fff" stroke="#3a3a3a" stroke-width="0.9"/>
<circle cx="319.0" cy="326.6" r="2.10" fill="#fff" stroke="#3a3a3a" stroke-width="0.9"/>
<circle cx="321.3" cy="323.8" r="2.10" fill="#fff" stroke="#3a3a3a" stroke-width="0.9"/>
<circle cx="324.4" cy="323.4" r="2.10" fill="#fff" stroke="#3a3a3a" stroke-width="0.9"/>
<circle cx="319.5" cy="321.4" r="2.10" fill="#fff" stroke="#3a3a3a" stroke-width="0.9"/>
<circle cx="322.2" cy="320.4" r="2.10" fill="#fff" stroke="#3a3a3a" stroke-width="0.9"/>
<circle cx="320.1" cy="320.1" r="2.10" fill="#fff" stroke="#3a3a3a" stroke-width="0.9"/>
<circle cx="323.5" cy="319.2" r="2.10" fill="#fff" stroke="#3a3a3a" stroke-width="0.9"/>
<circle cx="319.2" cy="319.0" r="2.10" fill="#fff" stroke="#3a3a3a" stroke-width="0.9"/>
<circle cx="318.6" cy="318.7" r="2.10" fill="#fff" stroke="#3a3a3a" stroke-width="0.9"/>
<circle cx="318.5" cy="318.7" r="2.10" fill="#fff" stroke="#3a3a3a" stroke-width="0.9"/>
<circle cx="318.1" cy="317.8" r="2.10" fill="#fff" stroke="#3a3a3a" stroke-width="0.9"/>
<circle cx="321.3" cy="315.9" r="2.10" fill="#fff" stroke="#3a3a3a" stroke-width="0.9"/>
<circle cx="324.4" cy="315.5" r="2.10" fill="#fff" stroke="#3a3a3a" stroke-width="0.9"/>
<circle cx="318.6" cy="314.8" r="2.10" fill="#fff" stroke="#3a3a3a" stroke-width="0.9"/>
<circle cx="319.7" cy="314.3" r="2.10" fill="#fff" stroke="#3a3a3a" stroke-width="0.9"/>
<circle cx="321.8" cy="314.3" r="2.10" fill="#fff" stroke="#3a3a3a" stroke-width="0.9"/>
<circle cx="323.5" cy="313.8" r="2.10" fill="#fff" stroke="#3a3a3a" stroke-width="0.9"/>
<circle cx="320.1" cy="313.1" r="2.10" fill="#fff" stroke="#3a3a3a" stroke-width="0.9"/>
<circle cx="320.4" cy="312.7" r="2.10" fill="#fff" stroke="#3a3a3a" stroke-width="0.9"/>
<circle cx="319.8" cy="311.4" r="2.10" fill="#fff" stroke="#3a3a3a" stroke-width="0.9"/>
<circle cx="321.8" cy="309.2" r="2.10" fill="#fff" stroke="#3a3a3a" stroke-width="0.9"/>
<circle cx="319.1" cy="308.3" r="2.10" fill="#fff" stroke="#3a3a3a" stroke-width="0.9"/>
<circle cx="324.4" cy="308.2" r="2.10" fill="#fff" stroke="#3a3a3a" stroke-width="0.9"/>
<circle cx="319.9" cy="306.7" r="2.10" fill="#fff" stroke="#3a3a3a" stroke-width="0.9"/>
<circle cx="323.2" cy="306.2" r="2.10" fill="#fff" stroke="#3a3a3a" stroke-width="0.9"/>
<circle cx="318.6" cy="304.2" r="2.10" fill="#fff" stroke="#3a3a3a" stroke-width="0.9"/>
<circle cx="321.6" cy="303.8" r="2.10" fill="#fff" stroke="#3a3a3a" stroke-width="0.9"/>
<circle cx="319.6" cy="303.8" r="2.10" fill="#fff" stroke="#3a3a3a" stroke-width="0.9"/>
<circle cx="324.4" cy="303.2" r="2.10" fill="#fff" stroke="#3a3a3a" stroke-width="0.9"/>
<circle cx="318.5" cy="302.7" r="2.10" fill="#fff" stroke="#3a3a3a" stroke-width="0.9"/>
<circle cx="323.3" cy="302.4" r="2.10" fill="#fff" stroke="#3a3a3a" stroke-width="0.9"/>
<circle cx="322.8" cy="302.3" r="2.10" fill="#fff" stroke="#3a3a3a" stroke-width="0.9"/>
<circle cx="323.6" cy="301.1" r="2.10" fill="#fff" stroke="#3a3a3a" stroke-width="0.9"/>
<circle cx="320.9" cy="300.2" r="2.10" fill="#fff" stroke="#3a3a3a" stroke-width="0.9"/>
<circle cx="319.5" cy="299.6" r="2.10" fill="#fff" stroke="#3a3a3a" stroke-width="0.9"/>
<circle cx="321.3" cy="295.3" r="2.10" fill="#fff" stroke="#3a3a3a" stroke-width="0.9"/>
<circle cx="324.0" cy="294.3" r="2.10" fill="#fff" stroke="#3a3a3a" stroke-width="0.9"/>
<circle cx="363.3" cy="312.7" r="2.10" fill="#fff" stroke="#3a3a3a" stroke-width="0.9"/>
<circle cx="366.0" cy="311.5" r="2.10" fill="#fff" stroke="#3a3a3a" stroke-width="0.9"/>
<circle cx="363.3" cy="309.4" r="2.10" fill="#fff" stroke="#3a3a3a" stroke-width="0.9"/>
<circle cx="366.0" cy="308.5" r="2.10" fill="#fff" stroke="#3a3a3a" stroke-width="0.9"/>
<circle cx="361.1" cy="307.4" r="2.10" fill="#fff" stroke="#3a3a3a" stroke-width="0.9"/>
<circle cx="363.3" cy="304.8" r="2.10" fill="#fff" stroke="#3a3a3a" stroke-width="0.9"/>
<circle cx="366.4" cy="304.8" r="2.10" fill="#fff" stroke="#3a3a3a" stroke-width="0.9"/>
<circle cx="360.2" cy="304.7" r="2.10" fill="#fff" stroke="#3a3a3a" stroke-width="0.9"/>
<circle cx="365.8" cy="304.5" r="2.10" fill="#fff" stroke="#3a3a3a" stroke-width="0.9"/>
<circle cx="365.7" cy="303.4" r="2.10" fill="#fff" stroke="#3a3a3a" stroke-width="0.9"/>
<circle cx="363.3" cy="303.0" r="2.10" fill="#fff" stroke="#3a3a3a" stroke-width="0.9"/>
<circle cx="360.6" cy="302.0" r="2.10" fill="#fff" stroke="#3a3a3a" stroke-width="0.9"/>
<circle cx="363.3" cy="300.2" r="2.10" fill="#fff" stroke="#3a3a3a" stroke-width="0.9"/>
<circle cx="366.4" cy="300.0" r="2.10" fill="#fff" stroke="#3a3a3a" stroke-width="0.9"/>
<circle cx="360.6" cy="298.9" r="2.10" fill="#fff" stroke="#3a3a3a" stroke-width="0.9"/>
<circle cx="365.1" cy="298.2" r="2.10" fill="#fff" stroke="#3a3a3a" stroke-width="0.9"/>
<circle cx="364.4" cy="297.6" r="2.10" fill="#fff" stroke="#3a3a3a" stroke-width="0.9"/>
<circle cx="364.0" cy="296.8" r="2.10" fill="#fff" stroke="#3a3a3a" stroke-width="0.9"/>
<circle cx="361.9" cy="296.7" r="2.10" fill="#fff" stroke="#3a3a3a" stroke-width="0.9"/>
<circle cx="362.1" cy="295.6" r="2.10" fill="#fff" stroke="#3a3a3a" stroke-width="0.9"/>
<circle cx="366.4" cy="295.1" r="2.10" fill="#fff" stroke="#3a3a3a" stroke-width="0.9"/>
<circle cx="362.3" cy="293.6" r="2.10" fill="#fff" stroke="#3a3a3a" stroke-width="0.9"/>
<circle cx="364.2" cy="291.4" r="2.10" fill="#fff" stroke="#3a3a3a" stroke-width="0.9"/>
<circle cx="361.1" cy="291.0" r="2.10" fill="#fff" stroke="#3a3a3a" stroke-width="0.9"/>
<circle cx="362.0" cy="290.4" r="2.10" fill="#fff" stroke="#3a3a3a" stroke-width="0.9"/>
<circle cx="366.4" cy="289.5" r="2.10" fill="#fff" stroke="#3a3a3a" stroke-width="0.9"/>
<circle cx="366.3" cy="289.3" r="2.10" fill="#fff" stroke="#3a3a3a" stroke-width="0.9"/>
<circle cx="362.3" cy="288.9" r="2.10" fill="#fff" stroke="#3a3a3a" stroke-width="0.9"/>
<circle cx="363.8" cy="286.4" r="2.10" fill="#fff" stroke="#3a3a3a" stroke-width="0.9"/>
<circle cx="360.6" cy="286.3" r="2.10" fill="#fff" stroke="#3a3a3a" stroke-width="0.9"/>
<circle cx="362.6" cy="286.0" r="2.10" fill="#fff" stroke="#3a3a3a" stroke-width="0.9"/>
<circle cx="363.3" cy="282.5" r="2.10" fill="#fff" stroke="#3a3a3a" stroke-width="0.9"/>
<circle cx="366.0" cy="281.8" r="2.10" fill="#fff" stroke="#3a3a3a" stroke-width="0.9"/>
<circle cx="363.3" cy="279.2" r="2.10" fill="#fff" stroke="#3a3a3a" stroke-width="0.9"/>
<circle cx="363.3" cy="274.4" r="2.10" fill="#fff" stroke="#3a3a3a" stroke-width="0.9"/>
<circle cx="365.1" cy="272.0" r="2.10" fill="#fff" stroke="#3a3a3a" stroke-width="0.9"/>
<circle cx="363.3" cy="267.1" r="2.10" fill="#fff" stroke="#3a3a3a" stroke-width="0.9"/>
<circle cx="363.3" cy="259.2" r="2.10" fill="#fff" stroke="#3a3a3a" stroke-width="0.9"/>
<circle cx="363.3" cy="236.9" r="2.10" fill="#fff" stroke="#3a3a3a" stroke-width="0.9"/>
<circle cx="405.6" cy="345.5" r="2.10" fill="#fff" stroke="#3a3a3a" stroke-width="0.9"/>
<circle cx="408.8" cy="345.2" r="2.10" fill="#fff" stroke="#3a3a3a" stroke-width="0.9"/>
<circle cx="402.9" cy="344.9" r="2.10" fill="#fff" stroke="#3a3a3a" stroke-width="0.9"/>
<circle cx="405.6" cy="339.3" r="2.10" fill="#fff" stroke="#3a3a3a" stroke-width="0.9"/>
<circle cx="405.6" cy="335.8" r="2.10" fill="#fff" stroke="#3a3a3a" stroke-width="0.9"/>
<circle cx="408.8" cy="335.7" r="2.10" fill="#fff" stroke="#3a3a3a" stroke-width="0.9"/>
<circle cx="402.9" cy="334.9" r="2.10" fill="#fff" stroke="#3a3a3a" stroke-width="0.9"/>
<circle cx="403.6" cy="333.8" r="2.10" fill="#fff" stroke="#3a3a3a" stroke-width="0.9"/>
<circle cx="406.1" cy="332.5" r="2.10" fill="#fff" stroke="#3a3a3a" stroke-width="0.9"/>
<circle cx="403.8" cy="330.6" r="2.10" fill="#fff" stroke="#3a3a3a" stroke-width="0.9"/>
<circle cx="407.9" cy="330.3" r="2.10" fill="#fff" stroke="#3a3a3a" stroke-width="0.9"/>
<circle cx="404.9" cy="330.1" r="2.10" fill="#fff" stroke="#3a3a3a" stroke-width="0.9"/>
<circle cx="402.5" cy="329.6" r="2.10" fill="#fff" stroke="#3a3a3a" stroke-width="0.9"/>
<circle cx="404.3" cy="328.9" r="2.10" fill="#fff" stroke="#3a3a3a" stroke-width="0.9"/>
<circle cx="406.5" cy="327.0" r="2.10" fill="#fff" stroke="#3a3a3a" stroke-width="0.9"/>
<circle cx="402.5" cy="326.8" r="2.10" fill="#fff" stroke="#3a3a3a" stroke-width="0.9"/>
<circle cx="408.8" cy="325.0" r="2.10" fill="#fff" stroke="#3a3a3a" stroke-width="0.9"/>
<circle cx="404.7" cy="324.8" r="2.10" fill="#fff" stroke="#3a3a3a" stroke-width="0.9"/>
<circle cx="402.5" cy="323.0" r="2.10" fill="#fff" stroke="#3a3a3a" stroke-width="0.9"/>
<circle cx="405.6" cy="322.0" r="2.10" fill="#fff" stroke="#3a3a3a" stroke-width="0.9"/>
<circle cx="408.8" cy="321.4" r="2.10" fill="#fff" stroke="#3a3a3a" stroke-width="0.9"/>
<circle cx="403.4" cy="320.1" r="2.10" fill="#fff" stroke="#3a3a3a" stroke-width="0.9"/>
<circle cx="406.1" cy="319.1" r="2.10" fill="#fff" stroke="#3a3a3a" stroke-width="0.9"/>
<circle cx="405.6" cy="316.3" r="2.10" fill="#fff" stroke="#3a3a3a" stroke-width="0.9"/>
<circle cx="408.3" cy="315.5" r="2.10" fill="#fff" stroke="#3a3a3a" stroke-width="0.9"/>
<circle cx="402.9" cy="315.2" r="2.10" fill="#fff" stroke="#3a3a3a" stroke-width="0.9"/>
<circle cx="405.1" cy="314.9" r="2.10" fill="#fff" stroke="#3a3a3a" stroke-width="0.9"/>
<circle cx="406.5" cy="312.3" r="2.10" fill="#fff" stroke="#3a3a3a" stroke-width="0.9"/>
<circle cx="404.7" cy="310.1" r="2.10" fill="#fff" stroke="#3a3a3a" stroke-width="0.9"/>
<circle cx="407.4" cy="308.6" r="2.10" fill="#fff" stroke="#3a3a3a" stroke-width="0.9"/>
<circle cx="402.5" cy="308.2" r="2.10" fill="#fff" stroke="#3a3a3a" stroke-width="0.9"/>
<circle cx="407.9" cy="307.9" r="2.10" fill="#fff" stroke="#3a3a3a" stroke-width="0.9"/>
<circle cx="406.2" cy="307.6" r="2.10" fill="#fff" stroke="#3a3a3a" stroke-width="0.9"/>
<circle cx="405.0" cy="306.4" r="2.10" fill="#fff" stroke="#3a3a3a" stroke-width="0.9"/>
<circle cx="408.8" cy="305.2" r="2.10" fill="#fff" stroke="#3a3a3a" stroke-width="0.9"/>
<circle cx="402.9" cy="304.4" r="2.10" fill="#fff" stroke="#3a3a3a" stroke-width="0.9"/>
<circle cx="405.6" cy="303.1" r="2.10" fill="#fff" stroke="#3a3a3a" stroke-width="0.9"/>
<circle cx="403.8" cy="303.1" r="2.10" fill="#fff" stroke="#3a3a3a" stroke-width="0.9"/>
<circle cx="408.3" cy="302.4" r="2.10" fill="#fff" stroke="#3a3a3a" stroke-width="0.9"/>
<circle cx="405.6" cy="296.0" r="2.10" fill="#fff" stroke="#3a3a3a" stroke-width="0.9"/>
<circle cx="405.6" cy="288.4" r="2.10" fill="#fff" stroke="#3a3a3a" stroke-width="0.9"/>
<circle cx="337.3" cy="339.3" r="2.10" fill="#5a5a5a" stroke="#101010" stroke-width="0.9"/>
<circle cx="340.0" cy="338.5" r="2.10" fill="#5a5a5a" stroke="#101010" stroke-width="0.9"/>
<circle cx="334.6" cy="338.1" r="2.10" fill="#5a5a5a" stroke="#101010" stroke-width="0.9"/>
<circle cx="339.4" cy="338.1" r="2.10" fill="#5a5a5a" stroke="#101010" stroke-width="0.9"/>
<circle cx="339.9" cy="338.1" r="2.10" fill="#5a5a5a" stroke="#101010" stroke-width="0.9"/>
<circle cx="338.5" cy="337.3" r="2.10" fill="#5a5a5a" stroke="#101010" stroke-width="0.9"/>
<circle cx="336.7" cy="337.2" r="2.10" fill="#5a5a5a" stroke="#101010" stroke-width="0.9"/>
<circle cx="338.6" cy="336.4" r="2.10" fill="#5a5a5a" stroke="#101010" stroke-width="0.9"/>
<circle cx="337.3" cy="333.2" r="2.10" fill="#5a5a5a" stroke="#101010" stroke-width="0.9"/>
<circle cx="340.4" cy="333.1" r="2.10" fill="#5a5a5a" stroke="#101010" stroke-width="0.9"/>
<circle cx="335.1" cy="331.5" r="2.10" fill="#5a5a5a" stroke="#101010" stroke-width="0.9"/>
<circle cx="337.3" cy="329.8" r="2.10" fill="#5a5a5a" stroke="#101010" stroke-width="0.9"/>
<circle cx="338.7" cy="327.2" r="2.10" fill="#5a5a5a" stroke="#101010" stroke-width="0.9"/>
<circle cx="335.9" cy="326.0" r="2.10" fill="#5a5a5a" stroke="#101010" stroke-width="0.9"/>
<circle cx="339.5" cy="325.8" r="2.10" fill="#5a5a5a" stroke="#101010" stroke-width="0.9"/>
<circle cx="337.3" cy="322.7" r="2.10" fill="#5a5a5a" stroke="#101010" stroke-width="0.9"/>
<circle cx="339.6" cy="321.0" r="2.10" fill="#5a5a5a" stroke="#101010" stroke-width="0.9"/>
<circle cx="337.3" cy="317.2" r="2.10" fill="#5a5a5a" stroke="#101010" stroke-width="0.9"/>
<circle cx="339.6" cy="315.2" r="2.10" fill="#5a5a5a" stroke="#101010" stroke-width="0.9"/>
<circle cx="335.5" cy="314.8" r="2.10" fill="#5a5a5a" stroke="#101010" stroke-width="0.9"/>
<circle cx="338.2" cy="313.7" r="2.10" fill="#5a5a5a" stroke="#101010" stroke-width="0.9"/>
<circle cx="335.6" cy="313.3" r="2.10" fill="#5a5a5a" stroke="#101010" stroke-width="0.9"/>
<circle cx="335.9" cy="312.2" r="2.10" fill="#5a5a5a" stroke="#101010" stroke-width="0.9"/>
<circle cx="340.4" cy="311.7" r="2.10" fill="#5a5a5a" stroke="#101010" stroke-width="0.9"/>
<circle cx="336.7" cy="311.7" r="2.10" fill="#5a5a5a" stroke="#101010" stroke-width="0.9"/>
<circle cx="339.1" cy="311.3" r="2.10" fill="#5a5a5a" stroke="#101010" stroke-width="0.9"/>
<circle cx="337.7" cy="310.6" r="2.10" fill="#5a5a5a" stroke="#101010" stroke-width="0.9"/>
<circle cx="335.5" cy="308.7" r="2.10" fill="#5a5a5a" stroke="#101010" stroke-width="0.9"/>
<circle cx="339.1" cy="308.0" r="2.10" fill="#5a5a5a" stroke="#101010" stroke-width="0.9"/>
<circle cx="337.6" cy="307.0" r="2.10" fill="#5a5a5a" stroke="#101010" stroke-width="0.9"/>
<circle cx="339.5" cy="306.5" r="2.10" fill="#5a5a5a" stroke="#101010" stroke-width="0.9"/>
<circle cx="334.6" cy="306.0" r="2.10" fill="#5a5a5a" stroke="#101010" stroke-width="0.9"/>
<circle cx="334.7" cy="304.5" r="2.10" fill="#5a5a5a" stroke="#101010" stroke-width="0.9"/>
<circle cx="337.8" cy="304.2" r="2.10" fill="#5a5a5a" stroke="#101010" stroke-width="0.9"/>
<circle cx="337.3" cy="297.4" r="2.10" fill="#5a5a5a" stroke="#101010" stroke-width="0.9"/>
<circle cx="339.1" cy="295.3" r="2.10" fill="#5a5a5a" stroke="#101010" stroke-width="0.9"/>
<circle cx="335.5" cy="295.1" r="2.10" fill="#5a5a5a" stroke="#101010" stroke-width="0.9"/>
<circle cx="338.2" cy="294.2" r="2.10" fill="#5a5a5a" stroke="#101010" stroke-width="0.9"/>
<circle cx="336.2" cy="293.7" r="2.10" fill="#5a5a5a" stroke="#101010" stroke-width="0.9"/>
<circle cx="340.0" cy="291.9" r="2.10" fill="#5a5a5a" stroke="#101010" stroke-width="0.9"/>
<circle cx="337.3" cy="277.6" r="2.10" fill="#5a5a5a" stroke="#101010" stroke-width="0.9"/>
<circle cx="379.3" cy="314.6" r="2.10" fill="#5a5a5a" stroke="#101010" stroke-width="0.9"/>
<circle cx="379.3" cy="309.3" r="2.10" fill="#5a5a5a" stroke="#101010" stroke-width="0.9"/>
<circle cx="379.3" cy="303.9" r="2.10" fill="#5a5a5a" stroke="#101010" stroke-width="0.9"/>
<circle cx="382.0" cy="302.7" r="2.10" fill="#5a5a5a" stroke="#101010" stroke-width="0.9"/>
<circle cx="379.3" cy="294.9" r="2.10" fill="#5a5a5a" stroke="#101010" stroke-width="0.9"/>
<circle cx="382.4" cy="294.6" r="2.10" fill="#5a5a5a" stroke="#101010" stroke-width="0.9"/>
<circle cx="377.1" cy="293.1" r="2.10" fill="#5a5a5a" stroke="#101010" stroke-width="0.9"/>
<circle cx="380.7" cy="292.4" r="2.10" fill="#5a5a5a" stroke="#101010" stroke-width="0.9"/>
<circle cx="377.9" cy="291.9" r="2.10" fill="#5a5a5a" stroke="#101010" stroke-width="0.9"/>
<circle cx="376.5" cy="291.4" r="2.10" fill="#5a5a5a" stroke="#101010" stroke-width="0.9"/>
<circle cx="382.0" cy="290.7" r="2.10" fill="#5a5a5a" stroke="#101010" stroke-width="0.9"/>
<circle cx="379.3" cy="287.1" r="2.10" fill="#5a5a5a" stroke="#101010" stroke-width="0.9"/>
<circle cx="382.4" cy="286.7" r="2.10" fill="#5a5a5a" stroke="#101010" stroke-width="0.9"/>
<circle cx="376.2" cy="286.5" r="2.10" fill="#5a5a5a" stroke="#101010" stroke-width="0.9"/>
<circle cx="380.3" cy="285.6" r="2.10" fill="#5a5a5a" stroke="#101010" stroke-width="0.9"/>
<circle cx="378.4" cy="283.5" r="2.10" fill="#5a5a5a" stroke="#101010" stroke-width="0.9"/>
<circle cx="382.0" cy="283.3" r="2.10" fill="#5a5a5a" stroke="#101010" stroke-width="0.9"/>
<circle cx="377.1" cy="282.9" r="2.10" fill="#5a5a5a" stroke="#101010" stroke-width="0.9"/>
<circle cx="382.4" cy="281.3" r="2.10" fill="#5a5a5a" stroke="#101010" stroke-width="0.9"/>
<circle cx="382.0" cy="280.9" r="2.10" fill="#5a5a5a" stroke="#101010" stroke-width="0.9"/>
<circle cx="379.3" cy="280.3" r="2.10" fill="#5a5a5a" stroke="#101010" stroke-width="0.9"/>
<circle cx="376.6" cy="279.2" r="2.10" fill="#5a5a5a" stroke="#101010" stroke-width="0.9"/>
<circle cx="377.2" cy="279.0" r="2.10" fill="#5a5a5a" stroke="#101010" stroke-width="0.9"/>
<circle cx="376.1" cy="278.8" r="2.10" fill="#5a5a5a" stroke="#101010" stroke-width="0.9"/>
<circle cx="380.7" cy="277.7" r="2.10" fill="#5a5a5a" stroke="#101010" stroke-width="0.9"/>
<circle cx="380.0" cy="277.3" r="2.10" fill="#5a5a5a" stroke="#101010" stroke-width="0.9"/>
<circle cx="379.3" cy="273.8" r="2.10" fill="#5a5a5a" stroke="#101010" stroke-width="0.9"/>
<circle cx="382.0" cy="273.1" r="2.10" fill="#5a5a5a" stroke="#101010" stroke-width="0.9"/>
<circle cx="377.1" cy="272.2" r="2.10" fill="#5a5a5a" stroke="#101010" stroke-width="0.9"/>
<circle cx="376.9" cy="271.1" r="2.10" fill="#5a5a5a" stroke="#101010" stroke-width="0.9"/>
<circle cx="379.8" cy="270.6" r="2.10" fill="#5a5a5a" stroke="#101010" stroke-width="0.9"/>
<circle cx="380.8" cy="270.4" r="2.10" fill="#5a5a5a" stroke="#101010" stroke-width="0.9"/>
<circle cx="379.1" cy="270.2" r="2.10" fill="#5a5a5a" stroke="#101010" stroke-width="0.9"/>
<circle cx="377.1" cy="268.2" r="2.10" fill="#5a5a5a" stroke="#101010" stroke-width="0.9"/>
<circle cx="380.2" cy="267.6" r="2.10" fill="#5a5a5a" stroke="#101010" stroke-width="0.9"/>
<circle cx="379.3" cy="255.0" r="2.10" fill="#5a5a5a" stroke="#101010" stroke-width="0.9"/>
<circle cx="382.4" cy="254.6" r="2.10" fill="#5a5a5a" stroke="#101010" stroke-width="0.9"/>
<circle cx="376.6" cy="254.1" r="2.10" fill="#5a5a5a" stroke="#101010" stroke-width="0.9"/>
<circle cx="379.3" cy="243.5" r="2.10" fill="#5a5a5a" stroke="#101010" stroke-width="0.9"/>
<circle cx="382.4" cy="243.1" r="2.10" fill="#5a5a5a" stroke="#101010" stroke-width="0.9"/>
<circle cx="376.6" cy="242.8" r="2.10" fill="#5a5a5a" stroke="#101010" stroke-width="0.9"/>
<circle cx="421.6" cy="352.2" r="2.10" fill="#5a5a5a" stroke="#101010" stroke-width="0.9"/>
<circle cx="421.6" cy="333.1" r="2.10" fill="#5a5a5a" stroke="#101010" stroke-width="0.9"/>
<circle cx="421.6" cy="330.0" r="2.10" fill="#5a5a5a" stroke="#101010" stroke-width="0.9"/>
<circle cx="424.3" cy="329.1" r="2.10" fill="#5a5a5a" stroke="#101010" stroke-width="0.9"/>
<circle cx="418.9" cy="328.7" r="2.10" fill="#5a5a5a" stroke="#101010" stroke-width="0.9"/>
<circle cx="420.3" cy="327.5" r="2.10" fill="#5a5a5a" stroke="#101010" stroke-width="0.9"/>
<circle cx="422.5" cy="325.5" r="2.10" fill="#5a5a5a" stroke="#101010" stroke-width="0.9"/>
<circle cx="418.5" cy="325.1" r="2.10" fill="#5a5a5a" stroke="#101010" stroke-width="0.9"/>
<circle cx="421.6" cy="321.5" r="2.10" fill="#5a5a5a" stroke="#101010" stroke-width="0.9"/>
<circle cx="424.8" cy="321.3" r="2.10" fill="#5a5a5a" stroke="#101010" stroke-width="0.9"/>
<circle cx="418.9" cy="320.4" r="2.10" fill="#5a5a5a" stroke="#101010" stroke-width="0.9"/>
<circle cx="422.4" cy="320.1" r="2.10" fill="#5a5a5a" stroke="#101010" stroke-width="0.9"/>
<circle cx="423.4" cy="319.3" r="2.10" fill="#5a5a5a" stroke="#101010" stroke-width="0.9"/>
<circle cx="422.3" cy="318.4" r="2.10" fill="#5a5a5a" stroke="#101010" stroke-width="0.9"/>
<circle cx="420.2" cy="316.5" r="2.10" fill="#5a5a5a" stroke="#101010" stroke-width="0.9"/>
<circle cx="424.3" cy="316.2" r="2.10" fill="#5a5a5a" stroke="#101010" stroke-width="0.9"/>
<circle cx="421.8" cy="316.1" r="2.10" fill="#5a5a5a" stroke="#101010" stroke-width="0.9"/>
<circle cx="419.5" cy="315.4" r="2.10" fill="#5a5a5a" stroke="#101010" stroke-width="0.9"/>
<circle cx="420.5" cy="315.2" r="2.10" fill="#5a5a5a" stroke="#101010" stroke-width="0.9"/>
<circle cx="424.9" cy="313.9" r="2.10" fill="#5a5a5a" stroke="#101010" stroke-width="0.9"/>
<circle cx="421.6" cy="311.3" r="2.10" fill="#5a5a5a" stroke="#101010" stroke-width="0.9"/>
<circle cx="423.9" cy="309.7" r="2.10" fill="#5a5a5a" stroke="#101010" stroke-width="0.9"/>
<circle cx="420.2" cy="308.7" r="2.10" fill="#5a5a5a" stroke="#101010" stroke-width="0.9"/>
<circle cx="420.0" cy="308.5" r="2.10" fill="#5a5a5a" stroke="#101010" stroke-width="0.9"/>
<circle cx="420.1" cy="308.4" r="2.10" fill="#5a5a5a" stroke="#101010" stroke-width="0.9"/>
<circle cx="421.6" cy="308.4" r="2.10" fill="#5a5a5a" stroke="#101010" stroke-width="0.9"/>
<circle cx="421.9" cy="307.7" r="2.10" fill="#5a5a5a" stroke="#101010" stroke-width="0.9"/>
<circle cx="423.6" cy="307.3" r="2.10" fill="#5a5a5a" stroke="#101010" stroke-width="0.9"/>
<circle cx="420.2" cy="307.0" r="2.10" fill="#5a5a5a" stroke="#101010" stroke-width="0.9"/>
<circle cx="424.8" cy="305.3" r="2.10" fill="#5a5a5a" stroke="#101010" stroke-width="0.9"/>
<circle cx="421.6" cy="303.2" r="2.10" fill="#5a5a5a" stroke="#101010" stroke-width="0.9"/>
<circle cx="424.3" cy="301.6" r="2.10" fill="#5a5a5a" stroke="#101010" stroke-width="0.9"/>
<circle cx="419.8" cy="300.7" r="2.10" fill="#5a5a5a" stroke="#101010" stroke-width="0.9"/>
<circle cx="418.3" cy="300.2" r="2.10" fill="#5a5a5a" stroke="#101010" stroke-width="0.9"/>
<circle cx="422.5" cy="299.2" r="2.10" fill="#5a5a5a" stroke="#101010" stroke-width="0.9"/>
<circle cx="423.6" cy="298.9" r="2.10" fill="#5a5a5a" stroke="#101010" stroke-width="0.9"/>
<circle cx="422.1" cy="298.1" r="2.10" fill="#5a5a5a" stroke="#101010" stroke-width="0.9"/>
<circle cx="419.4" cy="297.5" r="2.10" fill="#5a5a5a" stroke="#101010" stroke-width="0.9"/>
<circle cx="424.4" cy="296.7" r="2.10" fill="#5a5a5a" stroke="#101010" stroke-width="0.9"/>
<circle cx="419.2" cy="296.0" r="2.10" fill="#5a5a5a" stroke="#101010" stroke-width="0.9"/>
<circle cx="421.6" cy="290.6" r="2.10" fill="#5a5a5a" stroke="#101010" stroke-width="0.9"/>
<circle cx="424.3" cy="289.7" r="2.10" fill="#5a5a5a" stroke="#101010" stroke-width="0.9"/>
<line x1="315.00" y1="313.62" x2="327.60" y2="313.62" stroke="#000" stroke-width="1.60"/>
<line x1="331.00" y1="314.58" x2="343.60" y2="314.58" stroke="#000" stroke-width="1.60"/>
<line x1="357.00" y1="297.59" x2="369.60" y2="297.59" stroke="#000" stroke-width="1.60"/>
<line x1="373.00" y1="281.56" x2="385.60" y2="281.56" stroke="#000" stroke-width="1.60"/>
<line x1="399.30" y1="320.45" x2="411.90" y2="320.45" stroke="#000" stroke-width="1.60"/>
<line x1="415.30" y1="309.02" x2="427.90" y2="309.02" stroke="#000" stroke-width="1.60"/>
<polyline points="364.0,229.4 364.0,217.9 380.0,217.9 380.0,237.6" fill="none" stroke="#444" stroke-width="1.00"/>
<polyline points="406.3,279.4 406.3,217.9 421.6,217.9 421.6,283.2" fill="none" stroke="#444" stroke-width="1.00"/>
<text x="371.80" y="215.90" font-size="12.00" font-weight="bold" text-anchor="middle" fill="#111" textLength="15.2" lengthAdjust="spacingAndGlyphs" stroke="#111" stroke-width="0.15">***</text>
<text x="414.20" y="215.90" font-size="12.00" font-weight="bold" text-anchor="middle" fill="#111" textLength="15.2" lengthAdjust="spacingAndGlyphs" stroke="#111" stroke-width="0.15">***</text>
<circle cx="440.6" cy="228.6" r="1.7" fill="#fff" stroke="#333" stroke-width="0.9"/>
<circle cx="440.6" cy="239.7" r="1.7" fill="#5e5e5e" stroke="#161616" stroke-width="0.7"/>
<text x="451.10" y="231.40" font-size="8.40" font-weight="normal" text-anchor="start" fill="#111" textLength="24.7" lengthAdjust="spacingAndGlyphs">Control</text>
<text x="451.10" y="242.60" font-size="8.40" font-weight="normal" text-anchor="start" fill="#111" textLength="21.3" lengthAdjust="spacingAndGlyphs">Tumor</text>
<polyline points="478.2,229.2 482.8,229.2 482.8,240.6 476.2,240.6" fill="none" stroke="#222" stroke-width="0.80"/>
<text x="484.90" y="237.90" font-size="8.40" font-weight="bold" text-anchor="start" fill="#111" textLength="31.0" lengthAdjust="spacingAndGlyphs" stroke="#111" stroke-width="0.10">Matched</text>
<rect x="46.8" y="375.8" width="422.4" height="21.0" fill="#fff" stroke="#2a2a2a" stroke-width="1"/>
<text x="54.40" y="390.30" font-size="11.00" font-weight="bold" text-anchor="start" fill="#111" textLength="403.0" lengthAdjust="spacingAndGlyphs" stroke="#111" stroke-width="0.25">Correlation of <tspan font-style="italic">PDCD1</tspan>, <tspan font-style="italic">HAVCR2</tspan> and <tspan font-style="italic">CTLA4</tspan> with <tspan font-style="italic">NCR1</tspan> in TCGA HNC specimens</text>
<text x="58.60" y="413.50" font-size="11.20" font-weight="bold" text-anchor="start" fill="#111" textLength="89.5" lengthAdjust="spacingAndGlyphs" stroke="#111" stroke-width="0.25"><tspan font-style="italic">PDCD1</tspan> vs. <tspan font-style="italic">NCR1</tspan></text>
<text x="223.00" y="413.50" font-size="11.20" font-weight="bold" text-anchor="start" fill="#111" textLength="97.5" lengthAdjust="spacingAndGlyphs" stroke="#111" stroke-width="0.25"><tspan font-style="italic">HAVCR2</tspan> vs. <tspan font-style="italic">NCR1</tspan></text>
<text x="379.30" y="413.50" font-size="11.20" font-weight="bold" text-anchor="start" fill="#111" textLength="86.8" lengthAdjust="spacingAndGlyphs" stroke="#111" stroke-width="0.25"><tspan font-style="italic">CTLA4</tspan> vs. <tspan font-style="italic">NCR1</tspan></text>
<polyline points="497.6,399.3 501.3,399.3 501.3,523.2 497.6,523.2" fill="none" stroke="#3a3a3a" stroke-width="1.25"/>
<line x1="501.30" y1="461.40" x2="504.20" y2="461.40" stroke="#222" stroke-width="0.90"/>
<polyline points="498.2,546.4 501.5,546.4 501.5,664.0 498.2,664.0" fill="none" stroke="#3a3a3a" stroke-width="1.25"/>
<line x1="501.50" y1="608.00" x2="504.40" y2="608.00" stroke="#222" stroke-width="0.90"/>
<text x="0" y="0" transform="translate(509.50 457.40) rotate(90.0)" font-size="13.30" font-weight="bold" text-anchor="middle" fill="#111" textLength="48.4" lengthAdjust="spacingAndGlyphs" stroke="#111" stroke-width="0.25">Tumors</text>
<text x="0" y="0" transform="translate(509.70 605.80) rotate(90.0)" font-size="13.30" font-weight="bold" text-anchor="middle" fill="#111" textLength="53.3" lengthAdjust="spacingAndGlyphs" stroke="#111" stroke-width="0.25">Controls</text>
<text x="1.90" y="403.40" font-size="14.40" font-weight="bold" text-anchor="start" fill="#111">E</text>
<text x="1.90" y="557.20" font-size="14.40" font-weight="bold" text-anchor="start" fill="#111">F</text>
<line x1="29.40" y1="427.40" x2="29.40" y2="517.10" stroke="#000" stroke-width="1.40"/>
<line x1="28.70" y1="516.40" x2="161.50" y2="516.40" stroke="#000" stroke-width="1.40"/>
<line x1="26.40" y1="516.40" x2="29.40" y2="516.40" stroke="#000" stroke-width="1.10"/>
<text x="25.80" y="518.70" font-size="6.40" font-weight="bold" text-anchor="end" fill="#111" stroke="#111" stroke-width="0.12">0</text>
<line x1="26.40" y1="486.93" x2="29.40" y2="486.93" stroke="#000" stroke-width="1.10"/>
<text x="25.80" y="489.23" font-size="6.40" font-weight="bold" text-anchor="end" fill="#111" stroke="#111" stroke-width="0.12">5</text>
<line x1="26.40" y1="457.47" x2="29.40" y2="457.47" stroke="#000" stroke-width="1.10"/>
<text x="25.80" y="459.77" font-size="6.40" font-weight="bold" text-anchor="end" fill="#111" stroke="#111" stroke-width="0.12">10</text>
<line x1="26.40" y1="428.00" x2="29.40" y2="428.00" stroke="#000" stroke-width="1.10"/>
<text x="25.80" y="430.30" font-size="6.40" font-weight="bold" text-anchor="end" fill="#111" stroke="#111" stroke-width="0.12">15</text>
<line x1="29.40" y1="516.40" x2="29.40" y2="519.40" stroke="#000" stroke-width="1.10"/>
<text x="29.40" y="526.20" font-size="6.40" font-weight="bold" text-anchor="middle" fill="#111" stroke="#111" stroke-width="0.12">0</text>
<line x1="62.27" y1="516.40" x2="62.27" y2="519.40" stroke="#000" stroke-width="1.10"/>
<text x="62.27" y="526.20" font-size="6.40" font-weight="bold" text-anchor="middle" fill="#111" stroke="#111" stroke-width="0.12">2</text>
<line x1="95.15" y1="516.40" x2="95.15" y2="519.40" stroke="#000" stroke-width="1.10"/>
<text x="95.15" y="526.20" font-size="6.40" font-weight="bold" text-anchor="middle" fill="#111" stroke="#111" stroke-width="0.12">4</text>
<line x1="128.03" y1="516.40" x2="128.03" y2="519.40" stroke="#000" stroke-width="1.10"/>
<text x="128.03" y="526.20" font-size="6.40" font-weight="bold" text-anchor="middle" fill="#111" stroke="#111" stroke-width="0.12">6</text>
<line x1="160.90" y1="516.40" x2="160.90" y2="519.40" stroke="#000" stroke-width="1.10"/>
<text x="160.90" y="526.20" font-size="6.40" font-weight="bold" text-anchor="middle" fill="#111" stroke="#111" stroke-width="0.12">8</text>
<text x="0" y="0" transform="translate(15.10 472.70) rotate(-90.0)" font-size="7.30" font-weight="bold" text-anchor="middle" fill="#111" textLength="67.0" lengthAdjust="spacingAndGlyphs"><tspan font-style="italic">PDCD1</tspan> RSEM units</text>
<text x="96.40" y="535.60" font-size="7.40" font-weight="bold" text-anchor="middle" fill="#111" textLength="63.0" lengthAdjust="spacingAndGlyphs"><tspan font-style="italic">NCR1</tspan> RSEM units</text>
<text x="101.00" y="433.70" font-size="7.60" font-weight="bold" text-anchor="middle" fill="#111" stroke="#111" stroke-width="0.15"><tspan font-style="italic">R</tspan><tspan dy="-2.66" font-size="5.02">2</tspan><tspan dy="2.66"> = 0.391</tspan></text>
<text x="101.00" y="444.60" font-size="7.60" font-weight="bold" text-anchor="middle" fill="#111" stroke="#111" stroke-width="0.15"><tspan font-style="italic">P</tspan> &lt; 0.001</text>
<polyline points="29.4,492.2 128.0,460.4" fill="none" stroke="#111" stroke-width="1.30"/>
<polyline points="29.4,491.7 31.9,490.9 34.3,490.1 36.8,489.4 39.3,488.6 41.7,487.8 44.2,487.0 46.7,486.2 49.1,485.4 51.6,484.6 54.0,483.8 56.5,483.0 59.0,482.2 61.4,481.3 63.9,480.5 66.4,479.7 68.8,478.9 71.3,478.0 73.8,477.2 76.2,476.4 78.7,475.5 81.2,474.7 83.6,473.8 86.1,473.0 88.6,472.1 91.0,471.2 93.5,470.3 96.0,469.5 98.4,468.6 100.9,467.7 103.3,466.8 105.8,465.9 108.3,465.0 110.7,464.1 113.2,463.2 115.7,462.2 118.1,461.3 120.6,460.4 123.1,459.4 125.5,458.5 128.0,457.5" fill="none" stroke="#111" stroke-width="1.55" stroke-dasharray="0.3 4.0" stroke-linecap="round"/>
<polyline points="29.4,492.7 31.9,491.9 34.3,491.1 36.8,490.3 39.3,489.5 41.7,488.7 44.2,487.9 46.7,487.1 49.1,486.3 51.6,485.5 54.0,484.7 56.5,483.9 59.0,483.1 61.4,482.4 63.9,481.6 66.4,480.8 68.8,480.0 71.3,479.3 73.8,478.5 76.2,477.8 78.7,477.0 81.2,476.3 83.6,475.5 86.1,474.8 88.6,474.1 91.0,473.4 93.5,472.6 96.0,472.0 98.4,471.3 100.9,470.6 103.3,469.9 105.8,469.2 108.3,468.6 110.7,468.0 113.2,467.3 115.7,466.7 118.1,466.1 120.6,465.5 123.1,464.9 125.5,464.4 128.0,463.8" fill="none" stroke="#111" stroke-width="1.55" stroke-dasharray="0.3 4.0" stroke-linecap="round"/>
<line x1="196.90" y1="430.40" x2="196.90" y2="517.10" stroke="#000" stroke-width="1.40"/>
<line x1="196.20" y1="516.40" x2="325.60" y2="516.40" stroke="#000" stroke-width="1.40"/>
<line x1="193.90" y1="516.40" x2="196.90" y2="516.40" stroke="#000" stroke-width="1.10"/>
<text x="193.30" y="518.70" font-size="6.40" font-weight="bold" text-anchor="end" fill="#111" stroke="#111" stroke-width="0.12">0</text>
<line x1="193.90" y1="487.93" x2="196.90" y2="487.93" stroke="#000" stroke-width="1.10"/>
<text x="193.30" y="490.23" font-size="6.40" font-weight="bold" text-anchor="end" fill="#111" stroke="#111" stroke-width="0.12">20</text>
<line x1="193.90" y1="459.47" x2="196.90" y2="459.47" stroke="#000" stroke-width="1.10"/>
<text x="193.30" y="461.77" font-size="6.40" font-weight="bold" text-anchor="end" fill="#111" stroke="#111" stroke-width="0.12">40</text>
<line x1="193.90" y1="431.00" x2="196.90" y2="431.00" stroke="#000" stroke-width="1.10"/>
<text x="193.30" y="433.30" font-size="6.40" font-weight="bold" text-anchor="end" fill="#111" stroke="#111" stroke-width="0.12">60</text>
<line x1="196.90" y1="516.40" x2="196.90" y2="519.40" stroke="#000" stroke-width="1.10"/>
<text x="196.90" y="526.20" font-size="6.40" font-weight="bold" text-anchor="middle" fill="#111" stroke="#111" stroke-width="0.12">0</text>
<line x1="228.93" y1="516.40" x2="228.93" y2="519.40" stroke="#000" stroke-width="1.10"/>
<text x="228.93" y="526.20" font-size="6.40" font-weight="bold" text-anchor="middle" fill="#111" stroke="#111" stroke-width="0.12">2</text>
<line x1="260.95" y1="516.40" x2="260.95" y2="519.40" stroke="#000" stroke-width="1.10"/>
<text x="260.95" y="526.20" font-size="6.40" font-weight="bold" text-anchor="middle" fill="#111" stroke="#111" stroke-width="0.12">4</text>
<line x1="292.98" y1="516.40" x2="292.98" y2="519.40" stroke="#000" stroke-width="1.10"/>
<text x="292.98" y="526.20" font-size="6.40" font-weight="bold" text-anchor="middle" fill="#111" stroke="#111" stroke-width="0.12">6</text>
<line x1="325.00" y1="516.40" x2="325.00" y2="519.40" stroke="#000" stroke-width="1.10"/>
<text x="325.00" y="526.20" font-size="6.40" font-weight="bold" text-anchor="middle" fill="#111" stroke="#111" stroke-width="0.12">8</text>
<text x="0" y="0" transform="translate(183.40 474.80) rotate(-90.0)" font-size="6.90" font-weight="bold" text-anchor="middle" fill="#111" textLength="68.2" lengthAdjust="spacingAndGlyphs"><tspan font-style="italic">HAVCR2</tspan> RSEM units</text>
<text x="261.50" y="535.60" font-size="7.40" font-weight="bold" text-anchor="middle" fill="#111" textLength="63.0" lengthAdjust="spacingAndGlyphs"><tspan font-style="italic">NCR1</tspan> RSEM units</text>
<text x="261.00" y="433.70" font-size="7.60" font-weight="bold" text-anchor="middle" fill="#111" stroke="#111" stroke-width="0.15"><tspan font-style="italic">R</tspan><tspan dy="-2.66" font-size="5.02">2</tspan><tspan dy="2.66"> = 0.205</tspan></text>
<text x="261.00" y="444.60" font-size="7.60" font-weight="bold" text-anchor="middle" fill="#111" stroke="#111" stroke-width="0.15"><tspan font-style="italic">P</tspan> &lt; 0.01</text>
<polyline points="196.9,445.5 293.0,476.8" fill="none" stroke="#111" stroke-width="1.30"/>
<polyline points="196.9,438.8 199.3,439.7 201.7,440.7 204.1,441.6 206.5,442.4 208.9,443.3 211.3,444.1 213.7,445.0 216.1,445.8 218.5,446.5 220.9,447.3 223.3,448.0 225.7,448.8 228.1,449.5 230.5,450.2 232.9,450.8 235.3,451.5 237.7,452.1 240.1,452.7 242.5,453.3 244.9,453.9 247.4,454.4 249.8,455.0 252.2,455.5 254.6,456.0 257.0,456.5 259.4,456.9 261.8,457.4 264.2,457.8 266.6,458.2 269.0,458.6 271.4,458.9 273.8,459.3 276.2,459.6 278.6,459.9 281.0,460.2 283.4,460.4 285.8,460.7 288.2,460.9 290.6,461.1 293.0,461.3" fill="none" stroke="#111" stroke-width="1.55" stroke-dasharray="0.3 4.0" stroke-linecap="round"/>
<polyline points="196.9,451.5 199.3,452.1 201.7,452.7 204.1,453.3 206.5,453.9 208.9,454.6 211.3,455.3 213.7,456.0 216.1,456.7 218.5,457.5 220.9,458.3 223.3,459.1 225.7,459.9 228.1,460.8 230.5,461.6 232.9,462.5 235.3,463.5 237.7,464.4 240.1,465.4 242.5,466.4 244.9,467.4 247.4,468.4 249.8,469.5 252.2,470.6 254.6,471.7 257.0,472.8 259.4,474.0 261.8,475.1 264.2,476.3 266.6,477.6 269.0,478.8 271.4,480.1 273.8,481.4 276.2,482.7 278.6,484.1 281.0,485.4 283.4,486.8 285.8,488.2 288.2,489.7 290.6,491.1 293.0,492.6" fill="none" stroke="#111" stroke-width="1.55" stroke-dasharray="0.3 4.0" stroke-linecap="round"/>
<line x1="358.50" y1="431.10" x2="358.50" y2="519.60" stroke="#000" stroke-width="1.40"/>
<line x1="357.80" y1="518.90" x2="489.60" y2="518.90" stroke="#000" stroke-width="1.40"/>
<line x1="355.50" y1="518.90" x2="358.50" y2="518.90" stroke="#000" stroke-width="1.10"/>
<text x="354.90" y="521.20" font-size="6.40" font-weight="bold" text-anchor="end" fill="#111" stroke="#111" stroke-width="0.12">0</text>
<line x1="355.50" y1="497.10" x2="358.50" y2="497.10" stroke="#000" stroke-width="1.10"/>
<text x="354.90" y="499.40" font-size="6.40" font-weight="bold" text-anchor="end" fill="#111" stroke="#111" stroke-width="0.12">10</text>
<line x1="355.50" y1="475.30" x2="358.50" y2="475.30" stroke="#000" stroke-width="1.10"/>
<text x="354.90" y="477.60" font-size="6.40" font-weight="bold" text-anchor="end" fill="#111" stroke="#111" stroke-width="0.12">20</text>
<line x1="355.50" y1="453.50" x2="358.50" y2="453.50" stroke="#000" stroke-width="1.10"/>
<text x="354.90" y="455.80" font-size="6.40" font-weight="bold" text-anchor="end" fill="#111" stroke="#111" stroke-width="0.12">30</text>
<line x1="355.50" y1="431.70" x2="358.50" y2="431.70" stroke="#000" stroke-width="1.10"/>
<text x="354.90" y="434.00" font-size="6.40" font-weight="bold" text-anchor="end" fill="#111" stroke="#111" stroke-width="0.12">40</text>
<line x1="358.50" y1="518.90" x2="358.50" y2="521.90" stroke="#000" stroke-width="1.10"/>
<text x="358.50" y="528.70" font-size="6.40" font-weight="bold" text-anchor="middle" fill="#111" stroke="#111" stroke-width="0.12">0</text>
<line x1="391.12" y1="518.90" x2="391.12" y2="521.90" stroke="#000" stroke-width="1.10"/>
<text x="391.12" y="528.70" font-size="6.40" font-weight="bold" text-anchor="middle" fill="#111" stroke="#111" stroke-width="0.12">2</text>
<line x1="423.75" y1="518.90" x2="423.75" y2="521.90" stroke="#000" stroke-width="1.10"/>
<text x="423.75" y="528.70" font-size="6.40" font-weight="bold" text-anchor="middle" fill="#111" stroke="#111" stroke-width="0.12">4</text>
<line x1="456.38" y1="518.90" x2="456.38" y2="521.90" stroke="#000" stroke-width="1.10"/>
<text x="456.38" y="528.70" font-size="6.40" font-weight="bold" text-anchor="middle" fill="#111" stroke="#111" stroke-width="0.12">6</text>
<line x1="489.00" y1="518.90" x2="489.00" y2="521.90" stroke="#000" stroke-width="1.10"/>
<text x="489.00" y="528.70" font-size="6.40" font-weight="bold" text-anchor="middle" fill="#111" stroke="#111" stroke-width="0.12">8</text>
<text x="0" y="0" transform="translate(344.20 475.00) rotate(-90.0)" font-size="7.10" font-weight="bold" text-anchor="middle" fill="#111" textLength="64.4" lengthAdjust="spacingAndGlyphs"><tspan font-style="italic">CTLA4</tspan> RSEM units</text>
<text x="423.00" y="538.00" font-size="7.40" font-weight="bold" text-anchor="middle" fill="#111" textLength="63.0" lengthAdjust="spacingAndGlyphs"><tspan font-style="italic">NCR1</tspan> RSEM units</text>
<text x="420.40" y="431.30" font-size="7.60" font-weight="bold" text-anchor="middle" fill="#111" stroke="#111" stroke-width="0.15"><tspan font-style="italic">R</tspan><tspan dy="-2.66" font-size="5.02">2</tspan><tspan dy="2.66"> = 0.085</tspan></text>
<text x="420.40" y="442.10" font-size="7.60" font-weight="bold" text-anchor="middle" fill="#111" stroke="#111" stroke-width="0.15"><tspan font-style="italic">P</tspan> &gt; 0.05</text>
<polyline points="358.5,453.5 456.4,476.1" fill="none" stroke="#111" stroke-width="1.30"/>
<polyline points="358.5,446.5 360.9,447.1 363.4,447.8 365.8,448.4 368.3,448.9 370.7,449.5 373.2,450.1 375.6,450.6 378.1,451.1 380.5,451.6 383.0,452.1 385.4,452.6 387.9,453.0 390.3,453.5 392.8,453.9 395.2,454.3 397.7,454.7 400.1,455.0 402.6,455.4 405.0,455.7 407.4,456.0 409.9,456.3 412.3,456.5 414.8,456.8 417.2,457.0 419.7,457.2 422.1,457.4 424.6,457.5 427.0,457.7 429.5,457.8 431.9,457.9 434.4,458.0 436.8,458.0 439.3,458.1 441.7,458.1 444.2,458.1 446.6,458.1 449.1,458.0 451.5,457.9 454.0,457.8 456.4,457.7" fill="none" stroke="#111" stroke-width="1.55" stroke-dasharray="0.3 4.0" stroke-linecap="round"/>
<polyline points="358.5,461.7 360.9,461.8 363.4,462.0 365.8,462.2 368.3,462.4 370.7,462.7 373.2,463.0 375.6,463.3 378.1,463.7 380.5,464.1 383.0,464.5 385.4,465.0 387.9,465.5 390.3,466.0 392.8,466.6 395.2,467.2 397.7,467.8 400.1,468.5 402.6,469.2 405.0,470.0 407.4,470.8 409.9,471.6 412.3,472.4 414.8,473.3 417.2,474.2 419.7,475.2 422.1,476.2 424.6,477.2 427.0,478.3 429.5,479.4 431.9,480.6 434.4,481.7 436.8,482.9 439.3,484.2 441.7,485.5 444.2,486.8 446.6,488.2 449.1,489.6 451.5,491.0 454.0,492.5 456.4,494.0" fill="none" stroke="#111" stroke-width="1.55" stroke-dasharray="0.3 4.0" stroke-linecap="round"/>
<line x1="31.20" y1="568.30" x2="31.20" y2="656.40" stroke="#000" stroke-width="1.40"/>
<line x1="30.50" y1="655.70" x2="162.80" y2="655.70" stroke="#000" stroke-width="1.40"/>
<line x1="28.20" y1="655.70" x2="31.20" y2="655.70" stroke="#000" stroke-width="1.10"/>
<text x="27.60" y="658.00" font-size="6.40" font-weight="bold" text-anchor="end" fill="#111" stroke="#111" stroke-width="0.12">15</text>
<line x1="28.20" y1="634.00" x2="31.20" y2="634.00" stroke="#000" stroke-width="1.10"/>
<text x="27.60" y="636.30" font-size="6.40" font-weight="bold" text-anchor="end" fill="#111" stroke="#111" stroke-width="0.12">20</text>
<line x1="28.20" y1="612.30" x2="31.20" y2="612.30" stroke="#000" stroke-width="1.10"/>
<text x="27.60" y="614.60" font-size="6.40" font-weight="bold" text-anchor="end" fill="#111" stroke="#111" stroke-width="0.12">25</text>
<line x1="28.20" y1="590.60" x2="31.20" y2="590.60" stroke="#000" stroke-width="1.10"/>
<text x="27.60" y="592.90" font-size="6.40" font-weight="bold" text-anchor="end" fill="#111" stroke="#111" stroke-width="0.12">30</text>
<line x1="28.20" y1="568.90" x2="31.20" y2="568.90" stroke="#000" stroke-width="1.10"/>
<text x="27.60" y="571.20" font-size="6.40" font-weight="bold" text-anchor="end" fill="#111" stroke="#111" stroke-width="0.12">35</text>
<line x1="31.20" y1="655.70" x2="31.20" y2="658.70" stroke="#000" stroke-width="1.10"/>
<text x="31.20" y="665.50" font-size="6.40" font-weight="bold" text-anchor="middle" fill="#111" stroke="#111" stroke-width="0.12">0</text>
<line x1="74.87" y1="655.70" x2="74.87" y2="658.70" stroke="#000" stroke-width="1.10"/>
<text x="74.87" y="665.50" font-size="6.40" font-weight="bold" text-anchor="middle" fill="#111" stroke="#111" stroke-width="0.12">5</text>
<line x1="118.53" y1="655.70" x2="118.53" y2="658.70" stroke="#000" stroke-width="1.10"/>
<text x="118.53" y="665.50" font-size="6.40" font-weight="bold" text-anchor="middle" fill="#111" stroke="#111" stroke-width="0.12">10</text>
<line x1="162.20" y1="655.70" x2="162.20" y2="658.70" stroke="#000" stroke-width="1.10"/>
<text x="162.20" y="665.50" font-size="6.40" font-weight="bold" text-anchor="middle" fill="#111" stroke="#111" stroke-width="0.12">15</text>
<text x="0" y="0" transform="translate(16.90 612.20) rotate(-90.0)" font-size="7.10" font-weight="bold" text-anchor="middle" fill="#111" textLength="65.2" lengthAdjust="spacingAndGlyphs"><tspan font-style="italic">PDCD1</tspan> RSEM units</text>
<text x="91.80" y="674.40" font-size="7.60" font-weight="bold" text-anchor="middle" fill="#111" textLength="63.0" lengthAdjust="spacingAndGlyphs"><tspan font-style="italic">NCR1</tspan> RSEM units</text>
<text x="93.10" y="568.60" font-size="7.90" font-weight="bold" text-anchor="middle" fill="#111" textLength="35.4" lengthAdjust="spacingAndGlyphs" stroke="#111" stroke-width="0.15"><tspan font-style="italic">R</tspan><tspan dy="-2.77" font-size="5.21">2</tspan><tspan dy="2.77"> = 0.045</tspan></text>
<text x="93.10" y="579.20" font-size="7.90" font-weight="bold" text-anchor="middle" fill="#111" textLength="27.8" lengthAdjust="spacingAndGlyphs" stroke="#111" stroke-width="0.15"><tspan font-style="italic">P</tspan> &gt; 0.05</text>
<polyline points="31.2,619.1 129.6,603.3" fill="none" stroke="#111" stroke-width="1.30"/>
<polyline points="31.2,609.0 33.7,609.1 36.1,609.2 38.6,609.2 41.0,609.2 43.5,609.2 46.0,609.1 48.4,608.9 50.9,608.7 53.3,608.5 55.8,608.2 58.3,607.9 60.7,607.5 63.2,607.1 65.6,606.7 68.1,606.2 70.6,605.7 73.0,605.1 75.5,604.5 77.9,603.9 80.4,603.3 82.9,602.6 85.3,601.9 87.8,601.2 90.2,600.4 92.7,599.7 95.2,598.8 97.6,598.0 100.1,597.2 102.5,596.3 105.0,595.4 107.5,594.5 109.9,593.5 112.4,592.6 114.8,591.6 117.3,590.6 119.8,589.6 122.2,588.6 124.7,587.6 127.1,586.5 129.6,585.5" fill="none" stroke="#111" stroke-width="1.55" stroke-dasharray="0.3 4.0" stroke-linecap="round"/>
<polyline points="31.2,629.2 33.7,628.4 36.1,627.6 38.6,626.8 41.0,626.1 43.5,625.5 46.0,624.8 48.4,624.3 50.9,623.7 53.3,623.2 55.8,622.7 58.3,622.3 60.7,621.9 63.2,621.6 65.6,621.2 68.1,621.0 70.6,620.7 73.0,620.5 75.5,620.3 77.9,620.1 80.4,620.0 82.9,619.8 85.3,619.8 87.8,619.7 90.2,619.7 92.7,619.7 95.2,619.7 97.6,619.7 100.1,619.8 102.5,619.8 105.0,619.9 107.5,620.1 109.9,620.2 112.4,620.3 114.8,620.5 117.3,620.7 119.8,620.9 122.2,621.1 124.7,621.3 127.1,621.6 129.6,621.8" fill="none" stroke="#111" stroke-width="1.55" stroke-dasharray="0.3 4.0" stroke-linecap="round"/>
<line x1="194.00" y1="565.50" x2="194.00" y2="655.40" stroke="#000" stroke-width="1.40"/>
<line x1="193.30" y1="654.70" x2="328.80" y2="654.70" stroke="#000" stroke-width="1.40"/>
<line x1="191.00" y1="654.70" x2="194.00" y2="654.70" stroke="#000" stroke-width="1.10"/>
<text x="190.40" y="657.00" font-size="6.40" font-weight="bold" text-anchor="end" fill="#111" stroke="#111" stroke-width="0.12">25</text>
<line x1="191.00" y1="639.93" x2="194.00" y2="639.93" stroke="#000" stroke-width="1.10"/>
<text x="190.40" y="642.23" font-size="6.40" font-weight="bold" text-anchor="end" fill="#111" stroke="#111" stroke-width="0.12">30</text>
<line x1="191.00" y1="625.17" x2="194.00" y2="625.17" stroke="#000" stroke-width="1.10"/>
<text x="190.40" y="627.47" font-size="6.40" font-weight="bold" text-anchor="end" fill="#111" stroke="#111" stroke-width="0.12">35</text>
<line x1="191.00" y1="610.40" x2="194.00" y2="610.40" stroke="#000" stroke-width="1.10"/>
<text x="190.40" y="612.70" font-size="6.40" font-weight="bold" text-anchor="end" fill="#111" stroke="#111" stroke-width="0.12">40</text>
<line x1="191.00" y1="595.63" x2="194.00" y2="595.63" stroke="#000" stroke-width="1.10"/>
<text x="190.40" y="597.93" font-size="6.40" font-weight="bold" text-anchor="end" fill="#111" stroke="#111" stroke-width="0.12">45</text>
<line x1="191.00" y1="580.87" x2="194.00" y2="580.87" stroke="#000" stroke-width="1.10"/>
<text x="190.40" y="583.17" font-size="6.40" font-weight="bold" text-anchor="end" fill="#111" stroke="#111" stroke-width="0.12">50</text>
<line x1="191.00" y1="566.10" x2="194.00" y2="566.10" stroke="#000" stroke-width="1.10"/>
<text x="190.40" y="568.40" font-size="6.40" font-weight="bold" text-anchor="end" fill="#111" stroke="#111" stroke-width="0.12">55</text>
<line x1="194.00" y1="654.70" x2="194.00" y2="657.70" stroke="#000" stroke-width="1.10"/>
<text x="194.00" y="664.50" font-size="6.40" font-weight="bold" text-anchor="middle" fill="#111" stroke="#111" stroke-width="0.12">0</text>
<line x1="238.73" y1="654.70" x2="238.73" y2="657.70" stroke="#000" stroke-width="1.10"/>
<text x="238.73" y="664.50" font-size="6.40" font-weight="bold" text-anchor="middle" fill="#111" stroke="#111" stroke-width="0.12">5</text>
<line x1="283.47" y1="654.70" x2="283.47" y2="657.70" stroke="#000" stroke-width="1.10"/>
<text x="283.47" y="664.50" font-size="6.40" font-weight="bold" text-anchor="middle" fill="#111" stroke="#111" stroke-width="0.12">10</text>
<line x1="328.20" y1="654.70" x2="328.20" y2="657.70" stroke="#000" stroke-width="1.10"/>
<text x="328.20" y="664.50" font-size="6.40" font-weight="bold" text-anchor="middle" fill="#111" stroke="#111" stroke-width="0.12">15</text>
<text x="0" y="0" transform="translate(177.70 610.10) rotate(-90.0)" font-size="7.20" font-weight="bold" text-anchor="middle" fill="#111" textLength="72.0" lengthAdjust="spacingAndGlyphs"><tspan font-style="italic">HAVCR2</tspan> RSEM units</text>
<text x="261.60" y="674.40" font-size="7.60" font-weight="bold" text-anchor="middle" fill="#111" textLength="63.4" lengthAdjust="spacingAndGlyphs"><tspan font-style="italic">NCR1</tspan> RSEM units</text>
<text x="264.50" y="562.70" font-size="7.90" font-weight="bold" text-anchor="middle" fill="#111" stroke="#111" stroke-width="0.15"><tspan font-style="italic">R</tspan><tspan dy="-2.77" font-size="5.21">2</tspan><tspan dy="2.77"> = 0.056</tspan></text>
<text x="264.50" y="572.80" font-size="7.90" font-weight="bold" text-anchor="middle" fill="#111" stroke="#111" stroke-width="0.15"><tspan font-style="italic">P</tspan> &gt; 0.05</text>
<polyline points="194.0,624.2 294.6,604.0" fill="none" stroke="#111" stroke-width="1.30"/>
<polyline points="194.0,611.7 196.5,612.1 199.0,612.3 201.5,612.5 204.1,612.6 206.6,612.6 209.1,612.5 211.6,612.3 214.1,612.0 216.6,611.7 219.2,611.3 221.7,610.8 224.2,610.3 226.7,609.7 229.2,609.0 231.7,608.3 234.2,607.6 236.8,606.8 239.3,605.9 241.8,605.0 244.3,604.1 246.8,603.2 249.3,602.2 251.8,601.2 254.4,600.2 256.9,599.2 259.4,598.2 261.9,597.1 264.4,596.1 266.9,595.1 269.5,594.0 272.0,593.0 274.5,592.0 277.0,591.0 279.5,590.0 282.0,589.1 284.5,588.1 287.1,587.2 289.6,586.4 292.1,585.6 294.6,584.8" fill="none" stroke="#111" stroke-width="1.55" stroke-dasharray="0.3 4.0" stroke-linecap="round"/>
<polyline points="194.0,635.3 196.5,634.3 199.0,633.4 201.5,632.5 204.1,631.6 206.6,630.8 209.1,630.1 211.6,629.4 214.1,628.7 216.6,628.1 219.2,627.5 221.7,627.0 224.2,626.5 226.7,626.1 229.2,625.6 231.7,625.3 234.2,624.9 236.8,624.6 239.3,624.3 241.8,624.1 244.3,623.8 246.8,623.6 249.3,623.5 251.8,623.4 254.4,623.2 256.9,623.2 259.4,623.1 261.9,623.1 264.4,623.1 266.9,623.1 269.5,623.1 272.0,623.1 274.5,623.2 277.0,623.3 279.5,623.4 282.0,623.5 284.5,623.6 287.1,623.7 289.6,623.9 292.1,624.0 294.6,624.2" fill="none" stroke="#111" stroke-width="1.55" stroke-dasharray="0.3 4.0" stroke-linecap="round"/>
<line x1="358.60" y1="565.50" x2="358.60" y2="655.40" stroke="#000" stroke-width="1.40"/>
<line x1="357.90" y1="654.70" x2="493.20" y2="654.70" stroke="#000" stroke-width="1.40"/>
<line x1="355.60" y1="654.70" x2="358.60" y2="654.70" stroke="#000" stroke-width="1.10"/>
<text x="355.00" y="657.00" font-size="6.40" font-weight="bold" text-anchor="end" fill="#111" stroke="#111" stroke-width="0.12">0</text>
<line x1="355.60" y1="632.55" x2="358.60" y2="632.55" stroke="#000" stroke-width="1.10"/>
<text x="355.00" y="634.85" font-size="6.40" font-weight="bold" text-anchor="end" fill="#111" stroke="#111" stroke-width="0.12">10</text>
<line x1="355.60" y1="610.40" x2="358.60" y2="610.40" stroke="#000" stroke-width="1.10"/>
<text x="355.00" y="612.70" font-size="6.40" font-weight="bold" text-anchor="end" fill="#111" stroke="#111" stroke-width="0.12">20</text>
<line x1="355.60" y1="588.25" x2="358.60" y2="588.25" stroke="#000" stroke-width="1.10"/>
<text x="355.00" y="590.55" font-size="6.40" font-weight="bold" text-anchor="end" fill="#111" stroke="#111" stroke-width="0.12">30</text>
<line x1="355.60" y1="566.10" x2="358.60" y2="566.10" stroke="#000" stroke-width="1.10"/>
<text x="355.00" y="568.40" font-size="6.40" font-weight="bold" text-anchor="end" fill="#111" stroke="#111" stroke-width="0.12">40</text>
<line x1="358.60" y1="654.70" x2="358.60" y2="657.70" stroke="#000" stroke-width="1.10"/>
<text x="358.60" y="664.50" font-size="6.40" font-weight="bold" text-anchor="middle" fill="#111" stroke="#111" stroke-width="0.12">0</text>
<line x1="403.27" y1="654.70" x2="403.27" y2="657.70" stroke="#000" stroke-width="1.10"/>
<text x="403.27" y="664.50" font-size="6.40" font-weight="bold" text-anchor="middle" fill="#111" stroke="#111" stroke-width="0.12">5</text>
<line x1="447.93" y1="654.70" x2="447.93" y2="657.70" stroke="#000" stroke-width="1.10"/>
<text x="447.93" y="664.50" font-size="6.40" font-weight="bold" text-anchor="middle" fill="#111" stroke="#111" stroke-width="0.12">10</text>
<line x1="492.60" y1="654.70" x2="492.60" y2="657.70" stroke="#000" stroke-width="1.10"/>
<text x="492.60" y="664.50" font-size="6.40" font-weight="bold" text-anchor="middle" fill="#111" stroke="#111" stroke-width="0.12">15</text>
<text x="0" y="0" transform="translate(343.90 609.80) rotate(-90.0)" font-size="7.30" font-weight="bold" text-anchor="middle" fill="#111" textLength="65.9" lengthAdjust="spacingAndGlyphs"><tspan font-style="italic">CTLA4</tspan> RSEM units</text>
<text x="426.30" y="674.40" font-size="7.60" font-weight="bold" text-anchor="middle" fill="#111" textLength="63.0" lengthAdjust="spacingAndGlyphs"><tspan font-style="italic">NCR1</tspan> RSEM units</text>
<text x="429.20" y="567.20" font-size="7.90" font-weight="bold" text-anchor="middle" fill="#111" stroke="#111" stroke-width="0.15"><tspan font-style="italic">R</tspan><tspan dy="-2.77" font-size="5.21">2</tspan><tspan dy="2.77"> = 0.108</tspan></text>
<text x="429.20" y="577.70" font-size="7.90" font-weight="bold" text-anchor="middle" fill="#111" stroke="#111" stroke-width="0.15"><tspan font-style="italic">P</tspan> &lt; 0.05</text>
<polyline points="358.6,617.2 459.7,598.9" fill="none" stroke="#111" stroke-width="1.30"/>
<polyline points="358.6,609.9 361.1,609.9 363.7,609.8 366.2,609.7 368.7,609.5 371.2,609.3 373.8,609.0 376.3,608.7 378.8,608.4 381.3,608.0 383.9,607.6 386.4,607.1 388.9,606.6 391.5,606.1 394.0,605.5 396.5,604.9 399.0,604.3 401.6,603.7 404.1,603.0 406.6,602.3 409.1,601.6 411.7,600.9 414.2,600.2 416.7,599.5 419.3,598.7 421.8,598.0 424.3,597.2 426.8,596.4 429.4,595.7 431.9,594.9 434.4,594.2 437.0,593.4 439.5,592.7 442.0,591.9 444.5,591.2 447.1,590.5 449.6,589.8 452.1,589.1 454.6,588.5 457.2,587.8 459.7,587.2" fill="none" stroke="#111" stroke-width="1.55" stroke-dasharray="0.3 4.0" stroke-linecap="round"/>
<polyline points="358.6,624.5 361.1,623.8 363.7,623.1 366.2,622.4 368.7,621.8 371.2,621.2 373.8,620.6 376.3,620.1 378.8,619.5 381.3,619.0 383.9,618.6 386.4,618.1 388.9,617.7 391.5,617.3 394.0,616.9 396.5,616.5 399.0,616.1 401.6,615.8 404.1,615.5 406.6,615.2 409.1,614.9 411.7,614.6 414.2,614.4 416.7,614.2 419.3,613.9 421.8,613.7 424.3,613.5 426.8,613.3 429.4,613.2 431.9,613.0 434.4,612.9 437.0,612.7 439.5,612.6 442.0,612.4 444.5,612.3 447.1,612.2 449.6,612.1 452.1,612.0 454.6,611.9 457.2,611.8 459.7,611.7" fill="none" stroke="#111" stroke-width="1.55" stroke-dasharray="0.3 4.0" stroke-linecap="round"/>
</svg>
</body>
</html>
